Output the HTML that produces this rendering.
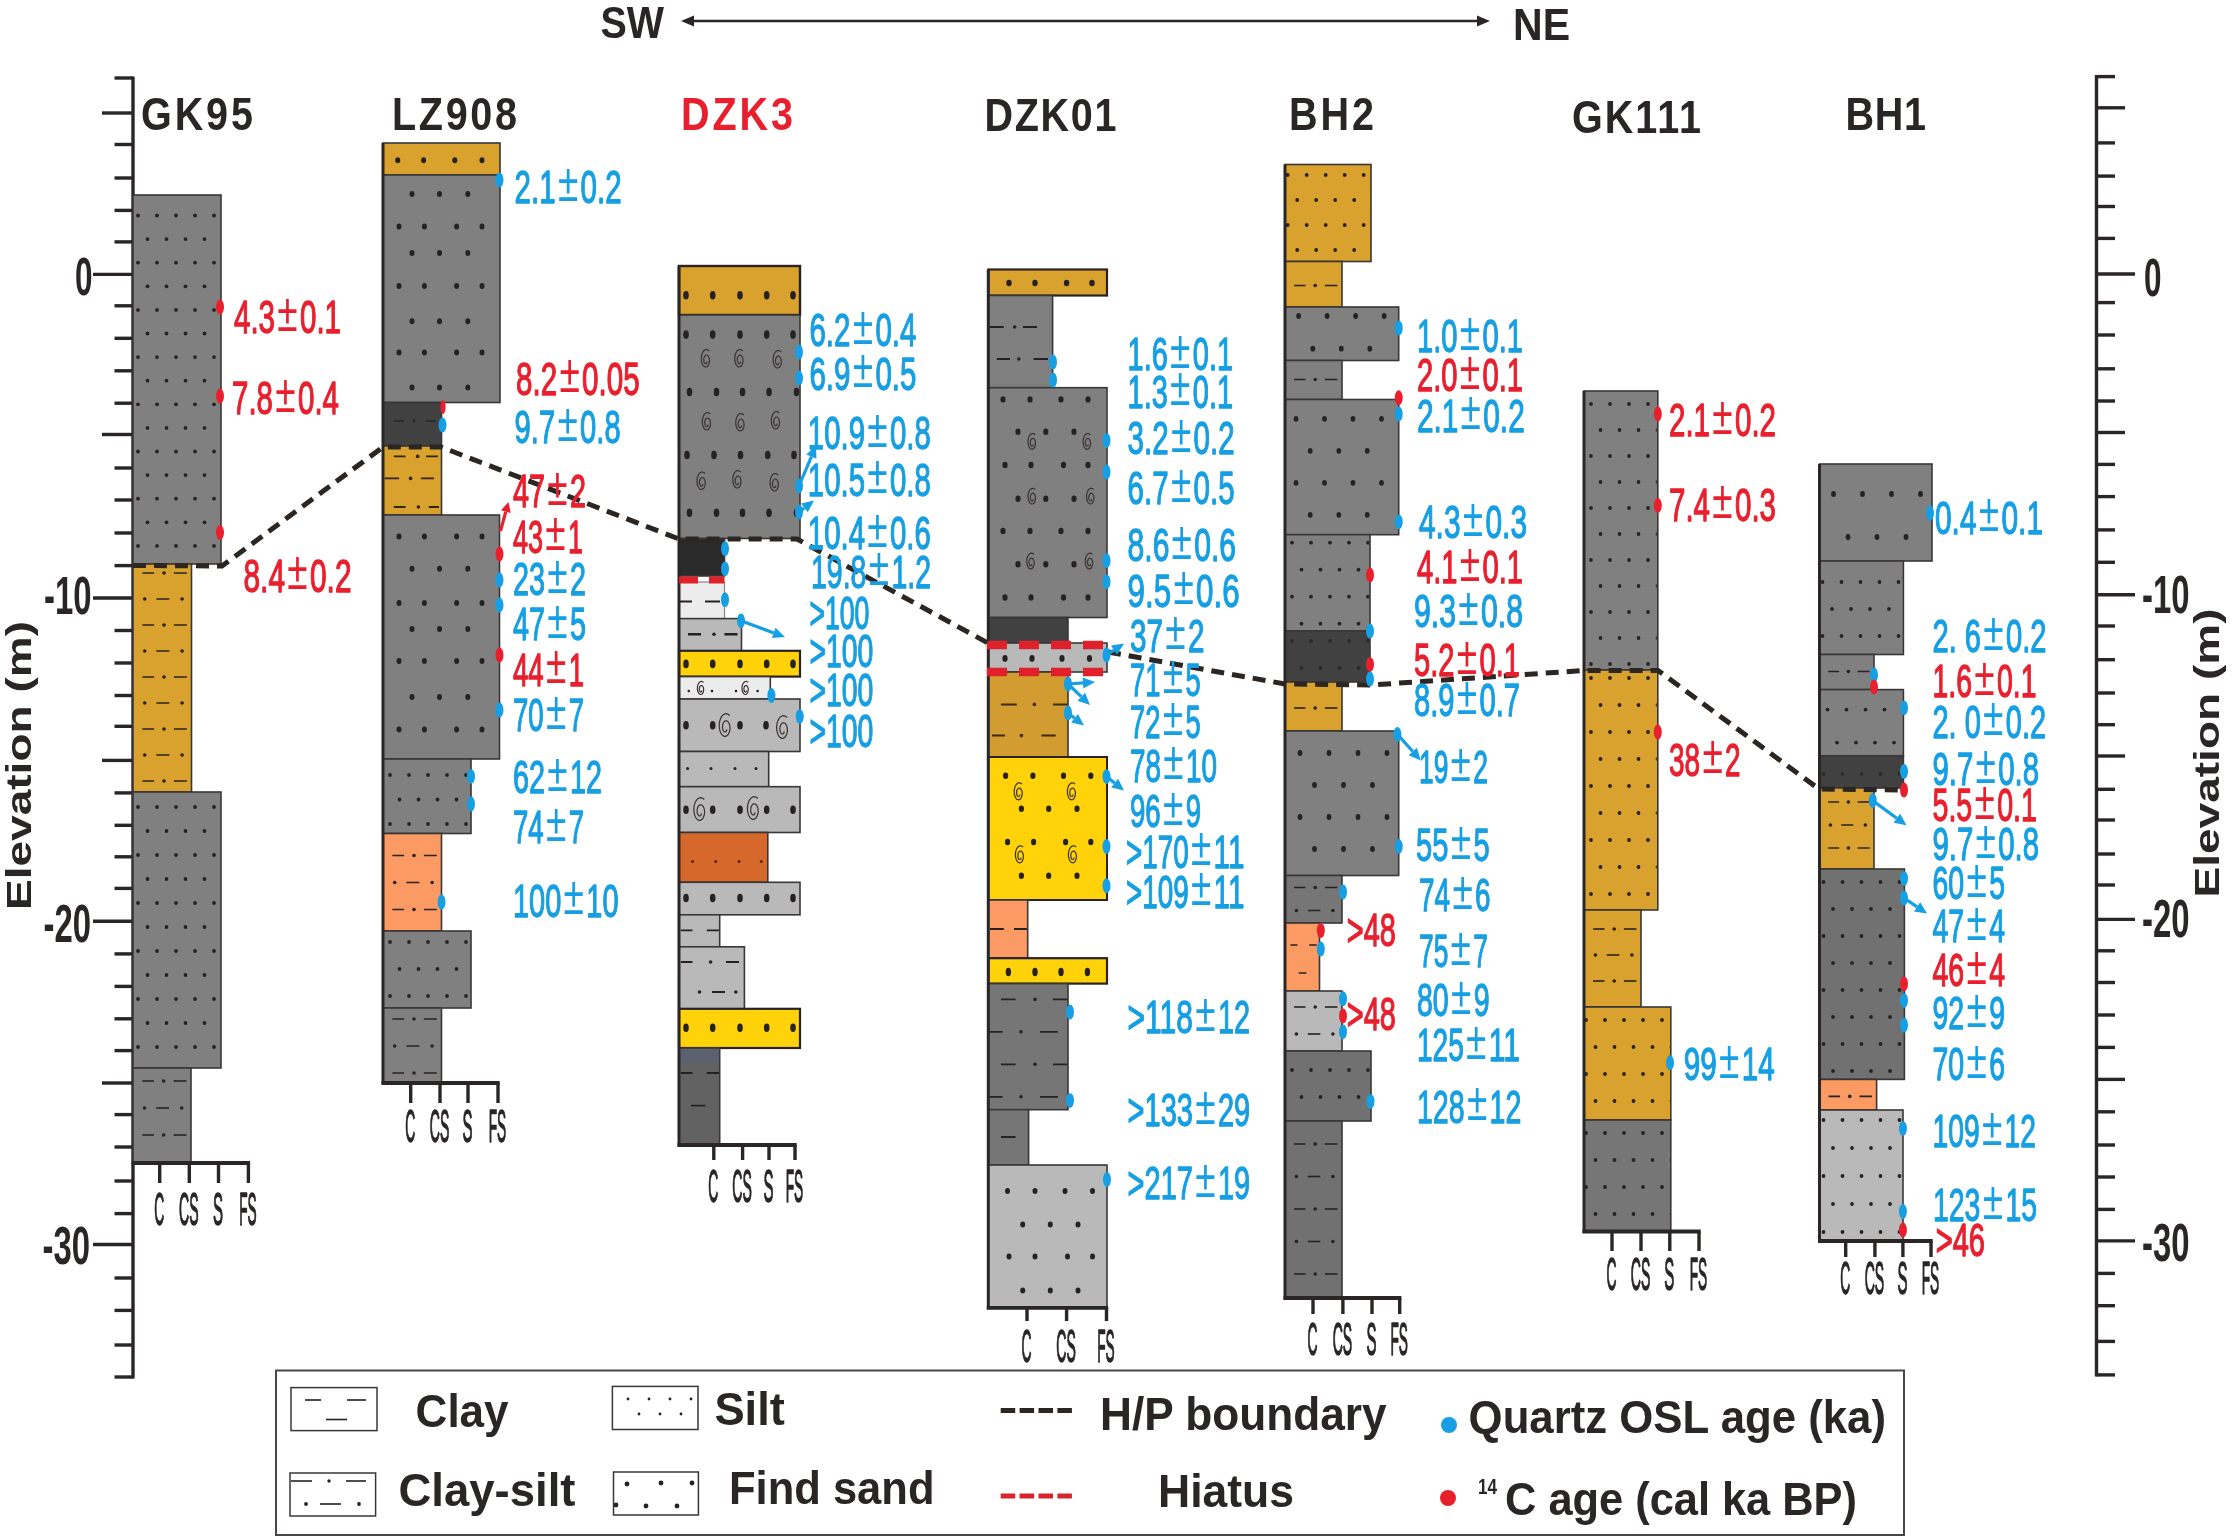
<!DOCTYPE html>
<html><head><meta charset="utf-8"><title>Borehole correlation</title>
<style>html,body{margin:0;padding:0;background:#fff}svg{display:block;filter:blur(0.55px)}</style></head>
<body>
<svg width="2233" height="1540" viewBox="0 0 2233 1540" font-family="'Liberation Sans', sans-serif">
<rect width="2233" height="1540" fill="#fff"/>
<g stroke="#2a2626" stroke-width="3.4" fill="none">
<line x1="133.0" y1="76.5" x2="133.0" y2="1378.5"/>
<line x1="114.5" y1="78.0" x2="133.0" y2="78.0"/>
<line x1="102.0" y1="113.0" x2="133.0" y2="113.0"/>
<line x1="114.5" y1="144.5" x2="133.0" y2="144.5"/>
<line x1="114.5" y1="178.0" x2="133.0" y2="178.0"/>
<line x1="114.5" y1="210.4" x2="133.0" y2="210.4"/>
<line x1="114.5" y1="241.9" x2="133.0" y2="241.9"/>
<line x1="93.0" y1="274.4" x2="133.0" y2="274.4"/>
<line x1="114.5" y1="305.8" x2="133.0" y2="305.8"/>
<line x1="114.5" y1="338.3" x2="133.0" y2="338.3"/>
<line x1="114.5" y1="370.8" x2="133.0" y2="370.8"/>
<line x1="114.5" y1="403.2" x2="133.0" y2="403.2"/>
<line x1="102.0" y1="434.5" x2="133.0" y2="434.5"/>
<line x1="114.5" y1="468.0" x2="133.0" y2="468.0"/>
<line x1="114.5" y1="500.0" x2="133.0" y2="500.0"/>
<line x1="114.5" y1="533.0" x2="133.0" y2="533.0"/>
<line x1="114.5" y1="565.6" x2="133.0" y2="565.6"/>
<line x1="93.0" y1="598.0" x2="133.0" y2="598.0"/>
<line x1="114.5" y1="630.5" x2="133.0" y2="630.5"/>
<line x1="114.5" y1="663.0" x2="133.0" y2="663.0"/>
<line x1="114.5" y1="695.5" x2="133.0" y2="695.5"/>
<line x1="114.5" y1="726.3" x2="133.0" y2="726.3"/>
<line x1="102.0" y1="760.4" x2="133.0" y2="760.4"/>
<line x1="114.5" y1="792.9" x2="133.0" y2="792.9"/>
<line x1="114.5" y1="825.3" x2="133.0" y2="825.3"/>
<line x1="114.5" y1="856.8" x2="133.0" y2="856.8"/>
<line x1="114.5" y1="888.4" x2="133.0" y2="888.4"/>
<line x1="93.0" y1="921.3" x2="133.0" y2="921.3"/>
<line x1="114.5" y1="953.9" x2="133.0" y2="953.9"/>
<line x1="114.5" y1="986.4" x2="133.0" y2="986.4"/>
<line x1="114.5" y1="1018.8" x2="133.0" y2="1018.8"/>
<line x1="114.5" y1="1050.6" x2="133.0" y2="1050.6"/>
<line x1="102.0" y1="1083.0" x2="133.0" y2="1083.0"/>
<line x1="114.5" y1="1114.6" x2="133.0" y2="1114.6"/>
<line x1="114.5" y1="1147.0" x2="133.0" y2="1147.0"/>
<line x1="114.5" y1="1181.0" x2="133.0" y2="1181.0"/>
<line x1="114.5" y1="1213.6" x2="133.0" y2="1213.6"/>
<line x1="93.0" y1="1244.5" x2="133.0" y2="1244.5"/>
<line x1="114.5" y1="1278.0" x2="133.0" y2="1278.0"/>
<line x1="114.5" y1="1310.4" x2="133.0" y2="1310.4"/>
<line x1="114.5" y1="1345.0" x2="133.0" y2="1345.0"/>
<line x1="114.5" y1="1377.0" x2="133.0" y2="1377.0"/>
<line x1="2096.5" y1="75.1" x2="2096.5" y2="1376.4"/>
<line x1="2096.5" y1="76.6" x2="2115.0" y2="76.6"/>
<line x1="2096.5" y1="107.8" x2="2125.0" y2="107.8"/>
<line x1="2096.5" y1="142.9" x2="2115.0" y2="142.9"/>
<line x1="2096.5" y1="176.1" x2="2115.0" y2="176.1"/>
<line x1="2096.5" y1="206.5" x2="2115.0" y2="206.5"/>
<line x1="2096.5" y1="238.4" x2="2115.0" y2="238.4"/>
<line x1="2096.5" y1="274.0" x2="2135.0" y2="274.0"/>
<line x1="2096.5" y1="302.6" x2="2115.0" y2="302.6"/>
<line x1="2096.5" y1="335.0" x2="2115.0" y2="335.0"/>
<line x1="2096.5" y1="368.8" x2="2115.0" y2="368.8"/>
<line x1="2096.5" y1="401.0" x2="2115.0" y2="401.0"/>
<line x1="2096.5" y1="432.5" x2="2125.0" y2="432.5"/>
<line x1="2096.5" y1="464.4" x2="2115.0" y2="464.4"/>
<line x1="2096.5" y1="496.6" x2="2115.0" y2="496.6"/>
<line x1="2096.5" y1="529.9" x2="2115.0" y2="529.9"/>
<line x1="2096.5" y1="562.3" x2="2115.0" y2="562.3"/>
<line x1="2096.5" y1="594.8" x2="2135.0" y2="594.8"/>
<line x1="2096.5" y1="626.0" x2="2115.0" y2="626.0"/>
<line x1="2096.5" y1="659.7" x2="2115.0" y2="659.7"/>
<line x1="2096.5" y1="693.0" x2="2115.0" y2="693.0"/>
<line x1="2096.5" y1="724.7" x2="2115.0" y2="724.7"/>
<line x1="2096.5" y1="756.0" x2="2125.0" y2="756.0"/>
<line x1="2096.5" y1="789.3" x2="2115.0" y2="789.3"/>
<line x1="2096.5" y1="820.0" x2="2115.0" y2="820.0"/>
<line x1="2096.5" y1="854.0" x2="2115.0" y2="854.0"/>
<line x1="2096.5" y1="885.0" x2="2115.0" y2="885.0"/>
<line x1="2096.5" y1="919.4" x2="2135.0" y2="919.4"/>
<line x1="2096.5" y1="950.8" x2="2115.0" y2="950.8"/>
<line x1="2096.5" y1="982.5" x2="2115.0" y2="982.5"/>
<line x1="2096.5" y1="1015.0" x2="2115.0" y2="1015.0"/>
<line x1="2096.5" y1="1047.4" x2="2115.0" y2="1047.4"/>
<line x1="2096.5" y1="1079.4" x2="2125.0" y2="1079.4"/>
<line x1="2096.5" y1="1111.8" x2="2115.0" y2="1111.8"/>
<line x1="2096.5" y1="1145.0" x2="2115.0" y2="1145.0"/>
<line x1="2096.5" y1="1177.0" x2="2115.0" y2="1177.0"/>
<line x1="2096.5" y1="1209.4" x2="2115.0" y2="1209.4"/>
<line x1="2096.5" y1="1240.9" x2="2135.0" y2="1240.9"/>
<line x1="2096.5" y1="1273.4" x2="2115.0" y2="1273.4"/>
<line x1="2096.5" y1="1305.7" x2="2115.0" y2="1305.7"/>
<line x1="2096.5" y1="1341.4" x2="2115.0" y2="1341.4"/>
<line x1="2096.5" y1="1374.9" x2="2115.0" y2="1374.9"/>
</g>
<text x="92.5" y="294.5" fill="#2a2626" font-size="53" font-weight="bold" textLength="17.5" lengthAdjust="spacingAndGlyphs" text-anchor="end" >0</text>
<text x="91.5" y="614.0" fill="#2a2626" font-size="53" font-weight="bold" textLength="47.5" lengthAdjust="spacingAndGlyphs" text-anchor="end" >-10</text>
<text x="91.0" y="942.0" fill="#2a2626" font-size="53" font-weight="bold" textLength="47.5" lengthAdjust="spacingAndGlyphs" text-anchor="end" >-20</text>
<text x="90.0" y="1264.0" fill="#2a2626" font-size="53" font-weight="bold" textLength="47.5" lengthAdjust="spacingAndGlyphs" text-anchor="end" >-30</text>
<text x="2144.0" y="296.0" fill="#2a2626" font-size="53" font-weight="bold" textLength="17.5" lengthAdjust="spacingAndGlyphs" text-anchor="start" >0</text>
<text x="2142.0" y="613.0" fill="#2a2626" font-size="53" font-weight="bold" textLength="47.5" lengthAdjust="spacingAndGlyphs" text-anchor="start" >-10</text>
<text x="2142.0" y="937.0" fill="#2a2626" font-size="53" font-weight="bold" textLength="47.5" lengthAdjust="spacingAndGlyphs" text-anchor="start" >-20</text>
<text x="2142.0" y="1261.0" fill="#2a2626" font-size="53" font-weight="bold" textLength="47.5" lengthAdjust="spacingAndGlyphs" text-anchor="start" >-30</text>
<text transform="translate(30.5,910) rotate(-90)" font-size="35" font-weight="bold" fill="#2a2626" textLength="289" lengthAdjust="spacingAndGlyphs">Elevation (m)</text>
<text transform="translate(2218.5,897.5) rotate(-90)" font-size="35" font-weight="bold" fill="#2a2626" textLength="289" lengthAdjust="spacingAndGlyphs">Elevation (m)</text>
<text x="600.5" y="37.5" fill="#2a2626" font-size="45" font-weight="bold" textLength="63.5" lengthAdjust="spacingAndGlyphs" text-anchor="start" >SW</text>
<text x="1513.0" y="39.5" fill="#2a2626" font-size="45" font-weight="bold" textLength="57.0" lengthAdjust="spacingAndGlyphs" text-anchor="start" >NE</text>
<line x1="690" y1="21" x2="1480" y2="21" stroke="#2a2626" stroke-width="2.6"/>
<polygon points="681,21 694,15.5 694,26.5" fill="#2a2626"/>
<polygon points="1490,21 1477,15.5 1477,26.5" fill="#2a2626"/>
<text transform="translate(141.0,130.0) scale(0.860,1)" fill="#2a2626" font-size="46" font-weight="bold" textLength="130.2" lengthAdjust="spacing">GK95</text>
<text transform="translate(392.0,130.0) scale(0.860,1)" fill="#2a2626" font-size="46" font-weight="bold" textLength="145.3" lengthAdjust="spacing">LZ908</text>
<text transform="translate(681.0,130.0) scale(0.860,1)" fill="#e8202e" font-size="46" font-weight="bold" textLength="130.2" lengthAdjust="spacing">DZK3</text>
<text transform="translate(984.5,131.0) scale(0.860,1)" fill="#2a2626" font-size="46" font-weight="bold" textLength="153.5" lengthAdjust="spacing">DZK01</text>
<text transform="translate(1289.0,130.0) scale(0.860,1)" fill="#2a2626" font-size="46" font-weight="bold" textLength="98.8" lengthAdjust="spacing">BH2</text>
<text transform="translate(1572.0,133.0) scale(0.860,1)" fill="#2a2626" font-size="46" font-weight="bold" textLength="150.0" lengthAdjust="spacing">GK111</text>
<text transform="translate(1845.5,130.0) scale(0.860,1)" fill="#2a2626" font-size="46" font-weight="bold" textLength="93.6" lengthAdjust="spacing">BH1</text>
<rect x="133.0" y="195.0" width="88.0" height="369.0" fill="#808080" stroke="#3a3636" stroke-width="1.6"/>
<clipPath id="c1"><rect x="134.0" y="196.0" width="86.0" height="367.0"/></clipPath>
<g clip-path="url(#c1)">
<g fill="#262222"><ellipse cx="138.0" cy="215.5" rx="1.9" ry="1.9"/><ellipse cx="157.0" cy="215.5" rx="1.9" ry="1.9"/><ellipse cx="176.0" cy="215.5" rx="1.9" ry="1.9"/><ellipse cx="195.0" cy="215.5" rx="1.9" ry="1.9"/><ellipse cx="214.0" cy="215.5" rx="1.9" ry="1.9"/><ellipse cx="147.5" cy="239.1" rx="1.9" ry="1.9"/><ellipse cx="166.5" cy="239.1" rx="1.9" ry="1.9"/><ellipse cx="185.5" cy="239.1" rx="1.9" ry="1.9"/><ellipse cx="204.5" cy="239.1" rx="1.9" ry="1.9"/><ellipse cx="138.0" cy="262.7" rx="1.9" ry="1.9"/><ellipse cx="157.0" cy="262.7" rx="1.9" ry="1.9"/><ellipse cx="176.0" cy="262.7" rx="1.9" ry="1.9"/><ellipse cx="195.0" cy="262.7" rx="1.9" ry="1.9"/><ellipse cx="214.0" cy="262.7" rx="1.9" ry="1.9"/><ellipse cx="147.5" cy="286.3" rx="1.9" ry="1.9"/><ellipse cx="166.5" cy="286.3" rx="1.9" ry="1.9"/><ellipse cx="185.5" cy="286.3" rx="1.9" ry="1.9"/><ellipse cx="204.5" cy="286.3" rx="1.9" ry="1.9"/><ellipse cx="138.0" cy="309.9" rx="1.9" ry="1.9"/><ellipse cx="157.0" cy="309.9" rx="1.9" ry="1.9"/><ellipse cx="176.0" cy="309.9" rx="1.9" ry="1.9"/><ellipse cx="195.0" cy="309.9" rx="1.9" ry="1.9"/><ellipse cx="214.0" cy="309.9" rx="1.9" ry="1.9"/><ellipse cx="147.5" cy="333.5" rx="1.9" ry="1.9"/><ellipse cx="166.5" cy="333.5" rx="1.9" ry="1.9"/><ellipse cx="185.5" cy="333.5" rx="1.9" ry="1.9"/><ellipse cx="204.5" cy="333.5" rx="1.9" ry="1.9"/><ellipse cx="138.0" cy="357.1" rx="1.9" ry="1.9"/><ellipse cx="157.0" cy="357.1" rx="1.9" ry="1.9"/><ellipse cx="176.0" cy="357.1" rx="1.9" ry="1.9"/><ellipse cx="195.0" cy="357.1" rx="1.9" ry="1.9"/><ellipse cx="214.0" cy="357.1" rx="1.9" ry="1.9"/><ellipse cx="147.5" cy="380.7" rx="1.9" ry="1.9"/><ellipse cx="166.5" cy="380.7" rx="1.9" ry="1.9"/><ellipse cx="185.5" cy="380.7" rx="1.9" ry="1.9"/><ellipse cx="204.5" cy="380.7" rx="1.9" ry="1.9"/><ellipse cx="138.0" cy="404.3" rx="1.9" ry="1.9"/><ellipse cx="157.0" cy="404.3" rx="1.9" ry="1.9"/><ellipse cx="176.0" cy="404.3" rx="1.9" ry="1.9"/><ellipse cx="195.0" cy="404.3" rx="1.9" ry="1.9"/><ellipse cx="214.0" cy="404.3" rx="1.9" ry="1.9"/><ellipse cx="147.5" cy="427.9" rx="1.9" ry="1.9"/><ellipse cx="166.5" cy="427.9" rx="1.9" ry="1.9"/><ellipse cx="185.5" cy="427.9" rx="1.9" ry="1.9"/><ellipse cx="204.5" cy="427.9" rx="1.9" ry="1.9"/><ellipse cx="138.0" cy="451.5" rx="1.9" ry="1.9"/><ellipse cx="157.0" cy="451.5" rx="1.9" ry="1.9"/><ellipse cx="176.0" cy="451.5" rx="1.9" ry="1.9"/><ellipse cx="195.0" cy="451.5" rx="1.9" ry="1.9"/><ellipse cx="214.0" cy="451.5" rx="1.9" ry="1.9"/><ellipse cx="147.5" cy="475.1" rx="1.9" ry="1.9"/><ellipse cx="166.5" cy="475.1" rx="1.9" ry="1.9"/><ellipse cx="185.5" cy="475.1" rx="1.9" ry="1.9"/><ellipse cx="204.5" cy="475.1" rx="1.9" ry="1.9"/><ellipse cx="138.0" cy="498.7" rx="1.9" ry="1.9"/><ellipse cx="157.0" cy="498.7" rx="1.9" ry="1.9"/><ellipse cx="176.0" cy="498.7" rx="1.9" ry="1.9"/><ellipse cx="195.0" cy="498.7" rx="1.9" ry="1.9"/><ellipse cx="214.0" cy="498.7" rx="1.9" ry="1.9"/><ellipse cx="147.5" cy="522.3" rx="1.9" ry="1.9"/><ellipse cx="166.5" cy="522.3" rx="1.9" ry="1.9"/><ellipse cx="185.5" cy="522.3" rx="1.9" ry="1.9"/><ellipse cx="204.5" cy="522.3" rx="1.9" ry="1.9"/><ellipse cx="138.0" cy="545.9" rx="1.9" ry="1.9"/><ellipse cx="157.0" cy="545.9" rx="1.9" ry="1.9"/><ellipse cx="176.0" cy="545.9" rx="1.9" ry="1.9"/><ellipse cx="195.0" cy="545.9" rx="1.9" ry="1.9"/><ellipse cx="214.0" cy="545.9" rx="1.9" ry="1.9"/></g>
</g>
<rect x="133.0" y="564.0" width="58.5" height="228.0" fill="#d9a22e" stroke="#3a3636" stroke-width="1.6"/>
<clipPath id="c2"><rect x="134.0" y="565.0" width="56.5" height="226.0"/></clipPath>
<g clip-path="url(#c2)">
<g stroke="#262222" stroke-width="1.6" fill="#262222"><line x1="142.4" y1="573.0" x2="154.1" y2="573.0"/><line x1="173.9" y1="573.0" x2="186.8" y2="573.0"/><circle cx="164.0" cy="573.0" r="1.8" stroke="none"/><line x1="156.4" y1="599.0" x2="169.3" y2="599.0"/><circle cx="144.7" cy="599.0" r="1.8" stroke="none"/><circle cx="182.1" cy="599.0" r="1.8" stroke="none"/><line x1="142.4" y1="625.0" x2="154.1" y2="625.0"/><line x1="173.9" y1="625.0" x2="186.8" y2="625.0"/><circle cx="164.0" cy="625.0" r="1.8" stroke="none"/><line x1="156.4" y1="651.0" x2="169.3" y2="651.0"/><circle cx="144.7" cy="651.0" r="1.8" stroke="none"/><circle cx="182.1" cy="651.0" r="1.8" stroke="none"/><line x1="142.4" y1="677.0" x2="154.1" y2="677.0"/><line x1="173.9" y1="677.0" x2="186.8" y2="677.0"/><circle cx="164.0" cy="677.0" r="1.8" stroke="none"/><line x1="156.4" y1="703.0" x2="169.3" y2="703.0"/><circle cx="144.7" cy="703.0" r="1.8" stroke="none"/><circle cx="182.1" cy="703.0" r="1.8" stroke="none"/><line x1="142.4" y1="729.0" x2="154.1" y2="729.0"/><line x1="173.9" y1="729.0" x2="186.8" y2="729.0"/><circle cx="164.0" cy="729.0" r="1.8" stroke="none"/><line x1="156.4" y1="755.0" x2="169.3" y2="755.0"/><circle cx="144.7" cy="755.0" r="1.8" stroke="none"/><circle cx="182.1" cy="755.0" r="1.8" stroke="none"/><line x1="142.4" y1="781.0" x2="154.1" y2="781.0"/><line x1="173.9" y1="781.0" x2="186.8" y2="781.0"/><circle cx="164.0" cy="781.0" r="1.8" stroke="none"/></g>
</g>
<rect x="133.0" y="792.0" width="88.0" height="276.0" fill="#808080" stroke="#3a3636" stroke-width="1.6"/>
<clipPath id="c3"><rect x="134.0" y="793.0" width="86.0" height="274.0"/></clipPath>
<g clip-path="url(#c3)">
<g fill="#262222"><ellipse cx="138.0" cy="807.0" rx="1.9" ry="1.9"/><ellipse cx="157.0" cy="807.0" rx="1.9" ry="1.9"/><ellipse cx="176.0" cy="807.0" rx="1.9" ry="1.9"/><ellipse cx="195.0" cy="807.0" rx="1.9" ry="1.9"/><ellipse cx="214.0" cy="807.0" rx="1.9" ry="1.9"/><ellipse cx="147.5" cy="831.0" rx="1.9" ry="1.9"/><ellipse cx="166.5" cy="831.0" rx="1.9" ry="1.9"/><ellipse cx="185.5" cy="831.0" rx="1.9" ry="1.9"/><ellipse cx="204.5" cy="831.0" rx="1.9" ry="1.9"/><ellipse cx="138.0" cy="855.0" rx="1.9" ry="1.9"/><ellipse cx="157.0" cy="855.0" rx="1.9" ry="1.9"/><ellipse cx="176.0" cy="855.0" rx="1.9" ry="1.9"/><ellipse cx="195.0" cy="855.0" rx="1.9" ry="1.9"/><ellipse cx="214.0" cy="855.0" rx="1.9" ry="1.9"/><ellipse cx="147.5" cy="879.0" rx="1.9" ry="1.9"/><ellipse cx="166.5" cy="879.0" rx="1.9" ry="1.9"/><ellipse cx="185.5" cy="879.0" rx="1.9" ry="1.9"/><ellipse cx="204.5" cy="879.0" rx="1.9" ry="1.9"/><ellipse cx="138.0" cy="903.0" rx="1.9" ry="1.9"/><ellipse cx="157.0" cy="903.0" rx="1.9" ry="1.9"/><ellipse cx="176.0" cy="903.0" rx="1.9" ry="1.9"/><ellipse cx="195.0" cy="903.0" rx="1.9" ry="1.9"/><ellipse cx="214.0" cy="903.0" rx="1.9" ry="1.9"/><ellipse cx="147.5" cy="927.0" rx="1.9" ry="1.9"/><ellipse cx="166.5" cy="927.0" rx="1.9" ry="1.9"/><ellipse cx="185.5" cy="927.0" rx="1.9" ry="1.9"/><ellipse cx="204.5" cy="927.0" rx="1.9" ry="1.9"/><ellipse cx="138.0" cy="951.0" rx="1.9" ry="1.9"/><ellipse cx="157.0" cy="951.0" rx="1.9" ry="1.9"/><ellipse cx="176.0" cy="951.0" rx="1.9" ry="1.9"/><ellipse cx="195.0" cy="951.0" rx="1.9" ry="1.9"/><ellipse cx="214.0" cy="951.0" rx="1.9" ry="1.9"/><ellipse cx="147.5" cy="975.0" rx="1.9" ry="1.9"/><ellipse cx="166.5" cy="975.0" rx="1.9" ry="1.9"/><ellipse cx="185.5" cy="975.0" rx="1.9" ry="1.9"/><ellipse cx="204.5" cy="975.0" rx="1.9" ry="1.9"/><ellipse cx="138.0" cy="999.0" rx="1.9" ry="1.9"/><ellipse cx="157.0" cy="999.0" rx="1.9" ry="1.9"/><ellipse cx="176.0" cy="999.0" rx="1.9" ry="1.9"/><ellipse cx="195.0" cy="999.0" rx="1.9" ry="1.9"/><ellipse cx="214.0" cy="999.0" rx="1.9" ry="1.9"/><ellipse cx="147.5" cy="1023.0" rx="1.9" ry="1.9"/><ellipse cx="166.5" cy="1023.0" rx="1.9" ry="1.9"/><ellipse cx="185.5" cy="1023.0" rx="1.9" ry="1.9"/><ellipse cx="204.5" cy="1023.0" rx="1.9" ry="1.9"/><ellipse cx="138.0" cy="1047.0" rx="1.9" ry="1.9"/><ellipse cx="157.0" cy="1047.0" rx="1.9" ry="1.9"/><ellipse cx="176.0" cy="1047.0" rx="1.9" ry="1.9"/><ellipse cx="195.0" cy="1047.0" rx="1.9" ry="1.9"/><ellipse cx="214.0" cy="1047.0" rx="1.9" ry="1.9"/></g>
</g>
<rect x="133.0" y="1068.0" width="58.0" height="95.0" fill="#808080" stroke="#3a3636" stroke-width="1.6"/>
<clipPath id="c4"><rect x="134.0" y="1069.0" width="56.0" height="93.0"/></clipPath>
<g clip-path="url(#c4)">
<g stroke="#262222" stroke-width="1.6" fill="#262222"><line x1="142.3" y1="1081.0" x2="153.9" y2="1081.0"/><line x1="173.6" y1="1081.0" x2="186.4" y2="1081.0"/><circle cx="163.7" cy="1081.0" r="1.8" stroke="none"/><line x1="156.2" y1="1108.0" x2="169.0" y2="1108.0"/><circle cx="144.6" cy="1108.0" r="1.8" stroke="none"/><circle cx="181.7" cy="1108.0" r="1.8" stroke="none"/><line x1="142.3" y1="1135.0" x2="153.9" y2="1135.0"/><line x1="173.6" y1="1135.0" x2="186.4" y2="1135.0"/><circle cx="163.7" cy="1135.0" r="1.8" stroke="none"/></g>
</g>
<path d="M131.5 1163.0 H250.1" stroke="#2a2626" stroke-width="3.8" fill="none"/>
<line x1="159.7" y1="1163.0" x2="159.7" y2="1183.0" stroke="#2a2626" stroke-width="3.4"/>
<line x1="189.3" y1="1163.0" x2="189.3" y2="1183.0" stroke="#2a2626" stroke-width="3.4"/>
<line x1="218.5" y1="1163.0" x2="218.5" y2="1183.0" stroke="#2a2626" stroke-width="3.4"/>
<line x1="248.4" y1="1163.0" x2="248.4" y2="1183.0" stroke="#2a2626" stroke-width="3.4"/>
<text x="159.2" y="1224.5" fill="#2a2626" font-size="47" font-weight="normal" textLength="10.0" lengthAdjust="spacingAndGlyphs" text-anchor="middle" stroke="#2a2626" stroke-width="1.5" stroke-linejoin="round">C</text>
<text x="188.8" y="1224.5" fill="#2a2626" font-size="47" font-weight="normal" textLength="19.5" lengthAdjust="spacingAndGlyphs" text-anchor="middle" stroke="#2a2626" stroke-width="1.5" stroke-linejoin="round">CS</text>
<text x="218.0" y="1224.5" fill="#2a2626" font-size="47" font-weight="normal" textLength="10.0" lengthAdjust="spacingAndGlyphs" text-anchor="middle" stroke="#2a2626" stroke-width="1.5" stroke-linejoin="round">S</text>
<text x="247.9" y="1224.5" fill="#2a2626" font-size="47" font-weight="normal" textLength="17.5" lengthAdjust="spacingAndGlyphs" text-anchor="middle" stroke="#2a2626" stroke-width="1.5" stroke-linejoin="round">FS</text>
<rect x="383.0" y="143.0" width="117.0" height="32.0" fill="#d9a22e" stroke="#3a3636" stroke-width="1.6"/>
<clipPath id="c5"><rect x="383.8" y="143.8" width="115.4" height="30.4"/></clipPath>
<g clip-path="url(#c5)">
<g fill="#262222">
<ellipse cx="397.7" cy="160.3" rx="2.5" ry="3.0"/>
<ellipse cx="423.6" cy="160.3" rx="2.5" ry="3.0"/>
<ellipse cx="454.8" cy="160.3" rx="2.5" ry="3.0"/>
<ellipse cx="482.0" cy="160.3" rx="2.5" ry="3.0"/>
</g>
</g>
<rect x="383.0" y="175.0" width="117.0" height="227.5" fill="#808080" stroke="#3a3636" stroke-width="1.6"/>
<clipPath id="c6"><rect x="383.8" y="175.8" width="115.4" height="225.9"/></clipPath>
<g clip-path="url(#c6)">
<g fill="#262222">
<ellipse cx="412.0" cy="194.0" rx="2.5" ry="3.0"/>
<ellipse cx="439.5" cy="194.0" rx="2.5" ry="3.0"/>
<ellipse cx="467.8" cy="194.0" rx="2.5" ry="3.0"/>
<ellipse cx="399.0" cy="226.5" rx="2.5" ry="3.0"/>
<ellipse cx="424.4" cy="226.5" rx="2.5" ry="3.0"/>
<ellipse cx="456.6" cy="226.5" rx="2.5" ry="3.0"/>
<ellipse cx="482.0" cy="226.5" rx="2.5" ry="3.0"/>
<ellipse cx="412.0" cy="253.0" rx="2.5" ry="3.0"/>
<ellipse cx="439.5" cy="253.0" rx="2.5" ry="3.0"/>
<ellipse cx="467.8" cy="253.0" rx="2.5" ry="3.0"/>
<ellipse cx="399.0" cy="286.0" rx="2.5" ry="3.0"/>
<ellipse cx="424.4" cy="286.0" rx="2.5" ry="3.0"/>
<ellipse cx="456.6" cy="286.0" rx="2.5" ry="3.0"/>
<ellipse cx="482.0" cy="286.0" rx="2.5" ry="3.0"/>
<ellipse cx="412.0" cy="321.3" rx="2.5" ry="3.0"/>
<ellipse cx="439.5" cy="321.3" rx="2.5" ry="3.0"/>
<ellipse cx="467.8" cy="321.3" rx="2.5" ry="3.0"/>
<ellipse cx="399.0" cy="352.5" rx="2.5" ry="3.0"/>
<ellipse cx="424.4" cy="352.5" rx="2.5" ry="3.0"/>
<ellipse cx="456.6" cy="352.5" rx="2.5" ry="3.0"/>
<ellipse cx="482.0" cy="352.5" rx="2.5" ry="3.0"/>
<ellipse cx="412.0" cy="387.5" rx="2.5" ry="3.0"/>
<ellipse cx="439.5" cy="387.5" rx="2.5" ry="3.0"/>
<ellipse cx="467.8" cy="387.5" rx="2.5" ry="3.0"/>
</g>
</g>
<rect x="383.0" y="402.5" width="58.5" height="43.5" fill="#414141" stroke="#3a3636" stroke-width="1.6"/>
<clipPath id="c7"><rect x="383.8" y="403.3" width="56.9" height="41.9"/></clipPath>
<g clip-path="url(#c7)">
<g stroke="#262626" stroke-width="1.4" fill="#262626">
<line x1="394.0" y1="421.0" x2="404.0" y2="421.0"/>
<line x1="426.0" y1="421.0" x2="436.0" y2="421.0"/>
<circle cx="414.0" cy="421.0" r="1.4" stroke="none"/>
</g>
</g>
<rect x="383.0" y="446.0" width="58.5" height="69.0" fill="#d9a22e" stroke="#3a3636" stroke-width="1.6"/>
<clipPath id="c8"><rect x="383.8" y="446.8" width="56.9" height="67.4"/></clipPath>
<g clip-path="url(#c8)">
<g stroke="#33240c" stroke-width="1.8" fill="#33240c">
<line x1="393.8" y1="456.4" x2="405.5" y2="456.4"/>
<line x1="426.0" y1="456.4" x2="438.0" y2="456.4"/>
<circle cx="417.7" cy="456.4" r="1.8" stroke="none"/>
<line x1="384.7" y1="478.4" x2="399.0" y2="478.4"/>
<line x1="421.0" y1="478.4" x2="434.0" y2="478.4"/>
<circle cx="410.6" cy="478.4" r="1.8" stroke="none"/>
<line x1="393.8" y1="507.0" x2="405.5" y2="507.0"/>
<line x1="428.8" y1="507.0" x2="439.0" y2="507.0"/>
<circle cx="418.4" cy="507.0" r="1.8" stroke="none"/>
</g>
</g>
<rect x="383.0" y="515.0" width="116.5" height="244.0" fill="#808080" stroke="#3a3636" stroke-width="1.6"/>
<clipPath id="c9"><rect x="383.8" y="515.8" width="114.9" height="242.4"/></clipPath>
<g clip-path="url(#c9)">
<g fill="#262222">
<ellipse cx="399.0" cy="536.4" rx="2.5" ry="3.0"/>
<ellipse cx="424.4" cy="536.4" rx="2.5" ry="3.0"/>
<ellipse cx="456.6" cy="536.4" rx="2.5" ry="3.0"/>
<ellipse cx="482.0" cy="536.4" rx="2.5" ry="3.0"/>
<ellipse cx="412.0" cy="568.8" rx="2.5" ry="3.0"/>
<ellipse cx="439.5" cy="568.8" rx="2.5" ry="3.0"/>
<ellipse cx="467.8" cy="568.8" rx="2.5" ry="3.0"/>
<ellipse cx="399.0" cy="603.0" rx="2.5" ry="3.0"/>
<ellipse cx="424.4" cy="603.0" rx="2.5" ry="3.0"/>
<ellipse cx="456.6" cy="603.0" rx="2.5" ry="3.0"/>
<ellipse cx="482.0" cy="603.0" rx="2.5" ry="3.0"/>
<ellipse cx="412.0" cy="629.0" rx="2.5" ry="3.0"/>
<ellipse cx="439.5" cy="629.0" rx="2.5" ry="3.0"/>
<ellipse cx="467.8" cy="629.0" rx="2.5" ry="3.0"/>
<ellipse cx="399.0" cy="661.0" rx="2.5" ry="3.0"/>
<ellipse cx="424.4" cy="661.0" rx="2.5" ry="3.0"/>
<ellipse cx="456.6" cy="661.0" rx="2.5" ry="3.0"/>
<ellipse cx="482.0" cy="661.0" rx="2.5" ry="3.0"/>
<ellipse cx="412.0" cy="697.0" rx="2.5" ry="3.0"/>
<ellipse cx="439.5" cy="697.0" rx="2.5" ry="3.0"/>
<ellipse cx="467.8" cy="697.0" rx="2.5" ry="3.0"/>
<ellipse cx="399.0" cy="729.5" rx="2.5" ry="3.0"/>
<ellipse cx="424.4" cy="729.5" rx="2.5" ry="3.0"/>
<ellipse cx="456.6" cy="729.5" rx="2.5" ry="3.0"/>
<ellipse cx="482.0" cy="729.5" rx="2.5" ry="3.0"/>
</g>
</g>
<rect x="383.0" y="759.0" width="88.0" height="74.5" fill="#808080" stroke="#3a3636" stroke-width="1.6"/>
<clipPath id="c10"><rect x="384.0" y="760.0" width="86.0" height="72.5"/></clipPath>
<g clip-path="url(#c10)">
<g fill="#262222"><ellipse cx="390.0" cy="775.0" rx="1.9" ry="1.9"/><ellipse cx="409.0" cy="775.0" rx="1.9" ry="1.9"/><ellipse cx="428.0" cy="775.0" rx="1.9" ry="1.9"/><ellipse cx="447.0" cy="775.0" rx="1.9" ry="1.9"/><ellipse cx="466.0" cy="775.0" rx="1.9" ry="1.9"/><ellipse cx="399.5" cy="799.5" rx="1.9" ry="1.9"/><ellipse cx="418.5" cy="799.5" rx="1.9" ry="1.9"/><ellipse cx="437.5" cy="799.5" rx="1.9" ry="1.9"/><ellipse cx="456.5" cy="799.5" rx="1.9" ry="1.9"/><ellipse cx="390.0" cy="824.0" rx="1.9" ry="1.9"/><ellipse cx="409.0" cy="824.0" rx="1.9" ry="1.9"/><ellipse cx="428.0" cy="824.0" rx="1.9" ry="1.9"/><ellipse cx="447.0" cy="824.0" rx="1.9" ry="1.9"/><ellipse cx="466.0" cy="824.0" rx="1.9" ry="1.9"/></g>
</g>
<rect x="383.0" y="833.5" width="58.5" height="97.5" fill="#fb9a62" stroke="#3a3636" stroke-width="1.6"/>
<clipPath id="c11"><rect x="384.0" y="834.5" width="56.5" height="95.5"/></clipPath>
<g clip-path="url(#c11)">
<g stroke="#262222" stroke-width="1.6" fill="#262222"><line x1="392.4" y1="855.5" x2="404.1" y2="855.5"/><line x1="423.9" y1="855.5" x2="436.8" y2="855.5"/><circle cx="414.0" cy="855.5" r="1.8" stroke="none"/><line x1="406.4" y1="882.5" x2="419.3" y2="882.5"/><circle cx="394.7" cy="882.5" r="1.8" stroke="none"/><circle cx="432.1" cy="882.5" r="1.8" stroke="none"/><line x1="392.4" y1="909.5" x2="404.1" y2="909.5"/><line x1="423.9" y1="909.5" x2="436.8" y2="909.5"/><circle cx="414.0" cy="909.5" r="1.8" stroke="none"/></g>
</g>
<rect x="383.0" y="931.0" width="88.0" height="77.0" fill="#808080" stroke="#3a3636" stroke-width="1.6"/>
<clipPath id="c12"><rect x="384.0" y="932.0" width="86.0" height="75.0"/></clipPath>
<g clip-path="url(#c12)">
<g fill="#262222"><ellipse cx="390.0" cy="942.0" rx="1.9" ry="1.9"/><ellipse cx="409.0" cy="942.0" rx="1.9" ry="1.9"/><ellipse cx="428.0" cy="942.0" rx="1.9" ry="1.9"/><ellipse cx="447.0" cy="942.0" rx="1.9" ry="1.9"/><ellipse cx="466.0" cy="942.0" rx="1.9" ry="1.9"/><ellipse cx="399.5" cy="969.0" rx="1.9" ry="1.9"/><ellipse cx="418.5" cy="969.0" rx="1.9" ry="1.9"/><ellipse cx="437.5" cy="969.0" rx="1.9" ry="1.9"/><ellipse cx="456.5" cy="969.0" rx="1.9" ry="1.9"/><ellipse cx="390.0" cy="996.0" rx="1.9" ry="1.9"/><ellipse cx="409.0" cy="996.0" rx="1.9" ry="1.9"/><ellipse cx="428.0" cy="996.0" rx="1.9" ry="1.9"/><ellipse cx="447.0" cy="996.0" rx="1.9" ry="1.9"/><ellipse cx="466.0" cy="996.0" rx="1.9" ry="1.9"/></g>
</g>
<rect x="383.0" y="1008.0" width="58.5" height="75.0" fill="#808080" stroke="#3a3636" stroke-width="1.6"/>
<clipPath id="c13"><rect x="384.0" y="1009.0" width="56.5" height="73.0"/></clipPath>
<g clip-path="url(#c13)">
<g stroke="#262222" stroke-width="1.6" fill="#262222"><line x1="392.4" y1="1019.0" x2="404.1" y2="1019.0"/><line x1="423.9" y1="1019.0" x2="436.8" y2="1019.0"/><circle cx="414.0" cy="1019.0" r="1.8" stroke="none"/><line x1="406.4" y1="1046.0" x2="419.3" y2="1046.0"/><circle cx="394.7" cy="1046.0" r="1.8" stroke="none"/><circle cx="432.1" cy="1046.0" r="1.8" stroke="none"/><line x1="392.4" y1="1073.0" x2="404.1" y2="1073.0"/><line x1="423.9" y1="1073.0" x2="436.8" y2="1073.0"/><circle cx="414.0" cy="1073.0" r="1.8" stroke="none"/></g>
</g>
<line x1="383.0" y1="143.0" x2="383.0" y2="1084.0" stroke="#2a2626" stroke-width="3"/>
<path d="M381.5 1083.0 H499.7" stroke="#2a2626" stroke-width="3.8" fill="none"/>
<line x1="410.7" y1="1083.0" x2="410.7" y2="1103.0" stroke="#2a2626" stroke-width="3.4"/>
<line x1="440.0" y1="1083.0" x2="440.0" y2="1103.0" stroke="#2a2626" stroke-width="3.4"/>
<line x1="468.0" y1="1083.0" x2="468.0" y2="1103.0" stroke="#2a2626" stroke-width="3.4"/>
<line x1="498.0" y1="1083.0" x2="498.0" y2="1103.0" stroke="#2a2626" stroke-width="3.4"/>
<text x="410.2" y="1141.5" fill="#2a2626" font-size="47" font-weight="normal" textLength="10.0" lengthAdjust="spacingAndGlyphs" text-anchor="middle" stroke="#2a2626" stroke-width="1.5" stroke-linejoin="round">C</text>
<text x="439.5" y="1141.5" fill="#2a2626" font-size="47" font-weight="normal" textLength="19.5" lengthAdjust="spacingAndGlyphs" text-anchor="middle" stroke="#2a2626" stroke-width="1.5" stroke-linejoin="round">CS</text>
<text x="467.5" y="1141.5" fill="#2a2626" font-size="47" font-weight="normal" textLength="10.0" lengthAdjust="spacingAndGlyphs" text-anchor="middle" stroke="#2a2626" stroke-width="1.5" stroke-linejoin="round">S</text>
<text x="497.5" y="1141.5" fill="#2a2626" font-size="47" font-weight="normal" textLength="17.5" lengthAdjust="spacingAndGlyphs" text-anchor="middle" stroke="#2a2626" stroke-width="1.5" stroke-linejoin="round">FS</text>
<rect x="679.0" y="266.0" width="121.0" height="49.0" fill="#d9a22e" stroke="#2a2222" stroke-width="2.4"/>
<clipPath id="c14"><rect x="679.8" y="266.8" width="119.4" height="47.4"/></clipPath>
<g clip-path="url(#c14)">
<g fill="#262222">
<ellipse cx="686.0" cy="295.3" rx="2.8" ry="4.3"/>
<ellipse cx="712.7" cy="295.3" rx="2.8" ry="4.3"/>
<ellipse cx="740.0" cy="295.3" rx="2.8" ry="4.3"/>
<ellipse cx="766.7" cy="295.3" rx="2.8" ry="4.3"/>
<ellipse cx="793.0" cy="295.3" rx="2.8" ry="4.3"/>
</g>
</g>
<rect x="679.0" y="315.0" width="121.0" height="223.5" fill="#808080" stroke="#3a3636" stroke-width="1.6"/>
<clipPath id="c15"><rect x="679.8" y="315.8" width="119.4" height="221.9"/></clipPath>
<g clip-path="url(#c15)">
<g fill="#262222">
<ellipse cx="686.0" cy="334.6" rx="2.8" ry="4.3"/>
<ellipse cx="712.7" cy="334.6" rx="2.8" ry="4.3"/>
<ellipse cx="740.0" cy="334.6" rx="2.8" ry="4.3"/>
<ellipse cx="766.7" cy="334.6" rx="2.8" ry="4.3"/>
<ellipse cx="793.0" cy="334.6" rx="2.8" ry="4.3"/>
<ellipse cx="689.5" cy="392.0" rx="2.8" ry="4.3"/>
<ellipse cx="716.5" cy="392.0" rx="2.8" ry="4.3"/>
<ellipse cx="742.5" cy="392.0" rx="2.8" ry="4.3"/>
<ellipse cx="769.0" cy="392.0" rx="2.8" ry="4.3"/>
<ellipse cx="796.5" cy="392.0" rx="2.8" ry="4.3"/>
<ellipse cx="687.0" cy="455.0" rx="2.8" ry="4.3"/>
<ellipse cx="714.0" cy="455.0" rx="2.8" ry="4.3"/>
<ellipse cx="740.5" cy="455.0" rx="2.8" ry="4.3"/>
<ellipse cx="767.7" cy="455.0" rx="2.8" ry="4.3"/>
<ellipse cx="794.0" cy="455.0" rx="2.8" ry="4.3"/>
<ellipse cx="689.5" cy="512.7" rx="2.8" ry="4.3"/>
<ellipse cx="716.5" cy="512.7" rx="2.8" ry="4.3"/>
<ellipse cx="742.5" cy="512.7" rx="2.8" ry="4.3"/>
<ellipse cx="769.0" cy="512.7" rx="2.8" ry="4.3"/>
<ellipse cx="796.5" cy="512.7" rx="2.8" ry="4.3"/>
</g>
<polyline points="709.3,350.9 708.1,350.0 706.8,349.5 705.6,349.6 704.4,350.3 703.3,351.4 702.4,352.9 701.8,354.7 701.4,356.6 701.3,358.7 701.4,360.7 701.8,362.6 702.4,364.2 703.2,365.5 704.1,366.4 705.0,366.9 706.0,367.0 706.9,366.6 707.8,366.0 708.5,365.0 709.0,363.7 709.4,362.3 709.5,360.9 709.4,359.4 709.2,358.1 708.8,357.0 708.2,356.0 707.6,355.4 706.9,355.0 706.2,355.0 705.6,355.3 705.0,355.8 704.5,356.5 704.1,357.4 703.8,358.4 703.7,359.4 703.8,360.4 703.9,361.4 704.2,362.2 704.5,362.8 704.9,363.3 705.3,363.6 705.7,363.6 706.1,363.5 706.5,363.3 706.7,362.9 706.9,362.5 707.0,362.0 707.1,361.5" fill="none" stroke="#3a3232" stroke-width="1.2"/>
<polyline points="742.8,350.9 741.6,350.0 740.3,349.5 739.1,349.6 737.9,350.3 736.8,351.4 735.9,352.9 735.3,354.7 734.9,356.6 734.8,358.7 734.9,360.7 735.3,362.6 735.9,364.2 736.7,365.5 737.6,366.4 738.5,366.9 739.5,367.0 740.4,366.6 741.3,366.0 742.0,365.0 742.5,363.7 742.9,362.3 743.0,360.9 742.9,359.4 742.7,358.1 742.3,357.0 741.7,356.0 741.1,355.4 740.4,355.0 739.7,355.0 739.1,355.3 738.5,355.8 738.0,356.5 737.6,357.4 737.3,358.4 737.2,359.4 737.3,360.4 737.4,361.4 737.7,362.2 738.0,362.8 738.4,363.3 738.8,363.6 739.2,363.6 739.6,363.5 740.0,363.3 740.2,362.9 740.4,362.5 740.5,362.0 740.6,361.5" fill="none" stroke="#3a3232" stroke-width="1.2"/>
<polyline points="781.1,351.9 779.9,351.0 778.6,350.5 777.4,350.6 776.2,351.3 775.1,352.4 774.2,353.9 773.6,355.7 773.2,357.6 773.1,359.7 773.2,361.7 773.6,363.6 774.2,365.2 775.0,366.5 775.9,367.4 776.8,367.9 777.8,368.0 778.7,367.6 779.6,367.0 780.3,366.0 780.8,364.7 781.2,363.3 781.3,361.9 781.2,360.4 781.0,359.1 780.6,358.0 780.0,357.0 779.4,356.4 778.7,356.0 778.0,356.0 777.4,356.3 776.8,356.8 776.3,357.5 775.9,358.4 775.6,359.4 775.5,360.4 775.6,361.4 775.7,362.4 776.0,363.2 776.3,363.8 776.7,364.3 777.1,364.6 777.5,364.6 777.9,364.5 778.3,364.3 778.5,363.9 778.7,363.5 778.8,363.0 778.9,362.5" fill="none" stroke="#3a3232" stroke-width="1.2"/>
<polyline points="710.3,413.9 709.1,413.0 707.8,412.5 706.6,412.6 705.4,413.3 704.3,414.4 703.4,415.9 702.8,417.7 702.4,419.6 702.3,421.7 702.4,423.7 702.8,425.6 703.4,427.2 704.2,428.5 705.1,429.4 706.0,429.9 707.0,430.0 707.9,429.6 708.8,429.0 709.5,428.0 710.0,426.7 710.4,425.3 710.5,423.9 710.4,422.4 710.2,421.1 709.8,420.0 709.2,419.0 708.6,418.4 707.9,418.0 707.2,418.0 706.6,418.3 706.0,418.8 705.5,419.5 705.1,420.4 704.8,421.4 704.7,422.4 704.8,423.4 704.9,424.4 705.2,425.2 705.5,425.8 705.9,426.3 706.3,426.6 706.7,426.6 707.1,426.5 707.5,426.3 707.7,425.9 707.9,425.5 708.0,425.0 708.1,424.5" fill="none" stroke="#3a3232" stroke-width="1.2"/>
<polyline points="743.8,414.9 742.6,414.0 741.3,413.5 740.1,413.6 738.9,414.3 737.8,415.4 736.9,416.9 736.3,418.7 735.9,420.6 735.8,422.7 735.9,424.7 736.3,426.6 736.9,428.2 737.7,429.5 738.6,430.4 739.5,430.9 740.5,431.0 741.4,430.6 742.3,430.0 743.0,429.0 743.5,427.7 743.9,426.3 744.0,424.9 743.9,423.4 743.7,422.1 743.3,421.0 742.7,420.0 742.1,419.4 741.4,419.0 740.7,419.0 740.1,419.3 739.5,419.8 739.0,420.5 738.6,421.4 738.3,422.4 738.2,423.4 738.3,424.4 738.4,425.4 738.7,426.2 739.0,426.8 739.4,427.3 739.8,427.6 740.2,427.6 740.6,427.5 741.0,427.3 741.2,426.9 741.4,426.5 741.5,426.0 741.6,425.5" fill="none" stroke="#3a3232" stroke-width="1.2"/>
<polyline points="779.3,412.9 778.1,412.0 776.8,411.5 775.6,411.6 774.4,412.3 773.3,413.4 772.4,414.9 771.8,416.7 771.4,418.6 771.3,420.7 771.4,422.7 771.8,424.6 772.4,426.2 773.2,427.5 774.1,428.4 775.0,428.9 776.0,429.0 776.9,428.6 777.8,428.0 778.5,427.0 779.0,425.7 779.4,424.3 779.5,422.9 779.4,421.4 779.2,420.1 778.8,419.0 778.2,418.0 777.6,417.4 776.9,417.0 776.2,417.0 775.6,417.3 775.0,417.8 774.5,418.5 774.1,419.4 773.8,420.4 773.7,421.4 773.8,422.4 773.9,423.4 774.2,424.2 774.5,424.8 774.9,425.3 775.3,425.6 775.7,425.6 776.1,425.5 776.5,425.3 776.7,424.9 776.9,424.5 777.0,424.0 777.1,423.5" fill="none" stroke="#3a3232" stroke-width="1.2"/>
<polyline points="705.0,473.4 703.8,472.5 702.5,472.0 701.3,472.1 700.1,472.8 699.0,473.9 698.1,475.4 697.5,477.2 697.1,479.1 697.0,481.2 697.1,483.2 697.5,485.1 698.1,486.7 698.9,488.0 699.8,488.9 700.7,489.4 701.7,489.5 702.6,489.1 703.5,488.5 704.2,487.5 704.7,486.2 705.1,484.8 705.2,483.4 705.1,481.9 704.9,480.6 704.5,479.5 703.9,478.5 703.3,477.9 702.6,477.5 701.9,477.5 701.3,477.8 700.7,478.3 700.2,479.0 699.8,479.9 699.5,480.9 699.4,481.9 699.5,482.9 699.6,483.9 699.9,484.7 700.2,485.3 700.6,485.8 701.0,486.1 701.4,486.1 701.8,486.0 702.2,485.8 702.4,485.4 702.6,485.0 702.7,484.5 702.8,484.0" fill="none" stroke="#3a3232" stroke-width="1.2"/>
<polyline points="740.8,471.9 739.6,471.0 738.3,470.5 737.1,470.6 735.9,471.3 734.8,472.4 733.9,473.9 733.3,475.7 732.9,477.6 732.8,479.7 732.9,481.7 733.3,483.6 733.9,485.2 734.7,486.5 735.6,487.4 736.5,487.9 737.5,488.0 738.4,487.6 739.3,487.0 740.0,486.0 740.5,484.7 740.9,483.3 741.0,481.9 740.9,480.4 740.7,479.1 740.3,478.0 739.7,477.0 739.1,476.4 738.4,476.0 737.7,476.0 737.1,476.3 736.5,476.8 736.0,477.5 735.6,478.4 735.3,479.4 735.2,480.4 735.3,481.4 735.4,482.4 735.7,483.2 736.0,483.8 736.4,484.3 736.8,484.6 737.2,484.6 737.6,484.5 738.0,484.3 738.2,483.9 738.4,483.5 738.5,483.0 738.6,482.5" fill="none" stroke="#3a3232" stroke-width="1.2"/>
<polyline points="778.1,474.9 776.9,474.0 775.6,473.5 774.4,473.6 773.2,474.3 772.1,475.4 771.2,476.9 770.6,478.7 770.2,480.6 770.1,482.7 770.2,484.7 770.6,486.6 771.2,488.2 772.0,489.5 772.9,490.4 773.8,490.9 774.8,491.0 775.7,490.6 776.6,490.0 777.3,489.0 777.8,487.7 778.2,486.3 778.3,484.9 778.2,483.4 778.0,482.1 777.6,481.0 777.0,480.0 776.4,479.4 775.7,479.0 775.0,479.0 774.4,479.3 773.8,479.8 773.3,480.5 772.9,481.4 772.6,482.4 772.5,483.4 772.6,484.4 772.7,485.4 773.0,486.2 773.3,486.8 773.7,487.3 774.1,487.6 774.5,487.6 774.9,487.5 775.3,487.3 775.5,486.9 775.7,486.5 775.8,486.0 775.9,485.5" fill="none" stroke="#3a3232" stroke-width="1.2"/>
</g>
<rect x="679.0" y="538.5" width="45.5" height="37.5" fill="#2a2a2a" stroke="#3a3636" stroke-width="1.6"/>
<clipPath id="c16"><rect x="679.8" y="539.3" width="43.9" height="35.9"/></clipPath>
<g clip-path="url(#c16)">
</g>
<rect x="679.0" y="582.0" width="45.5" height="36.6" fill="#ececec" stroke="#8a8686" stroke-width="1.2"/>
<clipPath id="c17"><rect x="679.8" y="582.8" width="43.9" height="35.0"/></clipPath>
<g clip-path="url(#c17)">
<g stroke="#262222" stroke-width="1.8" fill="#262222">
<line x1="680.0" y1="601.5" x2="692.0" y2="601.5"/>
<line x1="705.0" y1="601.5" x2="720.0" y2="601.5"/>
</g>
</g>
<rect x="679.0" y="618.6" width="62.5" height="32.2" fill="#b9b9b9" stroke="#3a3636" stroke-width="1.6"/>
<clipPath id="c18"><rect x="679.8" y="619.4" width="60.9" height="30.6"/></clipPath>
<g clip-path="url(#c18)">
<g stroke="#262222" stroke-width="2.4" fill="#262222">
<line x1="688.0" y1="634.3" x2="701.0" y2="634.3"/>
<line x1="724.4" y1="634.3" x2="737.5" y2="634.3"/>
<circle cx="714.0" cy="634.3" r="1.8" stroke="none"/>
</g>
</g>
<rect x="679.0" y="650.8" width="121.0" height="25.8" fill="#ffd20a" stroke="#2a2222" stroke-width="2.2"/>
<clipPath id="c19"><rect x="679.8" y="651.6" width="119.4" height="24.2"/></clipPath>
<g clip-path="url(#c19)">
<g fill="#262222">
<ellipse cx="686.0" cy="663.9" rx="2.8" ry="4.3"/>
<ellipse cx="712.7" cy="663.9" rx="2.8" ry="4.3"/>
<ellipse cx="740.0" cy="663.9" rx="2.8" ry="4.3"/>
<ellipse cx="766.7" cy="663.9" rx="2.8" ry="4.3"/>
<ellipse cx="793.0" cy="663.9" rx="2.8" ry="4.3"/>
</g>
</g>
<rect x="679.0" y="676.6" width="91.3" height="22.4" fill="#ececec" stroke="#3a3636" stroke-width="1.6"/>
<clipPath id="c20"><rect x="679.8" y="677.4" width="89.7" height="20.8"/></clipPath>
<g clip-path="url(#c20)">
<g fill="#262222">
<ellipse cx="688.8" cy="691.0" rx="1.3" ry="1.3"/>
<ellipse cx="712.0" cy="691.0" rx="1.3" ry="1.3"/>
<ellipse cx="736.0" cy="691.0" rx="1.3" ry="1.3"/>
<ellipse cx="757.6" cy="691.0" rx="1.3" ry="1.3"/>
</g>
<polyline points="703.5,682.4 702.6,681.7 701.6,681.4 700.7,681.5 699.8,682.0 699.0,682.8 698.3,683.9 697.8,685.2 697.5,686.7 697.4,688.3 697.5,689.8 697.8,691.2 698.3,692.4 698.9,693.4 699.5,694.0 700.3,694.4 701.0,694.5 701.7,694.2 702.3,693.7 702.9,693.0 703.3,692.0 703.5,691.0 703.6,689.9 703.6,688.8 703.4,687.8 703.1,687.0 702.7,686.3 702.2,685.8 701.7,685.5 701.2,685.5 700.7,685.7 700.2,686.1 699.8,686.6 699.6,687.3 699.4,688.0 699.3,688.8 699.3,689.6 699.4,690.3 699.6,690.9 699.9,691.4 700.2,691.7 700.5,691.9 700.8,692.0 701.1,691.9 701.3,691.7 701.5,691.4 701.7,691.1 701.8,690.8 701.8,690.4" fill="none" stroke="#3a3232" stroke-width="1.2"/>
<polyline points="748.1,682.4 747.2,681.7 746.2,681.4 745.3,681.5 744.4,682.0 743.6,682.8 742.9,683.9 742.4,685.2 742.1,686.7 742.0,688.3 742.1,689.8 742.4,691.2 742.9,692.4 743.5,693.4 744.1,694.0 744.9,694.4 745.6,694.5 746.3,694.2 746.9,693.7 747.5,693.0 747.9,692.0 748.1,691.0 748.2,689.9 748.2,688.8 748.0,687.8 747.7,687.0 747.3,686.3 746.8,685.8 746.3,685.5 745.8,685.5 745.3,685.7 744.8,686.1 744.4,686.6 744.2,687.3 744.0,688.0 743.9,688.8 743.9,689.6 744.0,690.3 744.2,690.9 744.5,691.4 744.8,691.7 745.1,691.9 745.4,692.0 745.7,691.9 745.9,691.7 746.1,691.4 746.3,691.1 746.4,690.8 746.4,690.4" fill="none" stroke="#3a3232" stroke-width="1.2"/>
</g>
<rect x="679.0" y="699.0" width="121.0" height="52.5" fill="#b9b9b9" stroke="#3a3636" stroke-width="1.6"/>
<clipPath id="c21"><rect x="679.8" y="699.8" width="119.4" height="50.9"/></clipPath>
<g clip-path="url(#c21)">
<g fill="#262222">
<ellipse cx="686.0" cy="725.3" rx="2.8" ry="4.3"/>
<ellipse cx="712.7" cy="725.3" rx="2.8" ry="4.3"/>
<ellipse cx="740.0" cy="725.3" rx="2.8" ry="4.3"/>
<ellipse cx="766.0" cy="725.3" rx="2.8" ry="4.3"/>
</g>
<polyline points="729.7,715.5 728.1,714.2 726.5,713.7 724.9,713.8 723.3,714.7 721.9,716.1 720.8,718.0 719.9,720.4 719.4,722.9 719.2,725.6 719.4,728.2 719.9,730.6 720.7,732.7 721.7,734.4 722.9,735.6 724.1,736.3 725.4,736.4 726.6,735.9 727.7,735.0 728.6,733.7 729.3,732.1 729.8,730.3 730.0,728.4 729.9,726.6 729.6,724.8 729.0,723.3 728.3,722.1 727.5,721.3 726.6,720.9 725.7,720.8 724.8,721.1 724.1,721.8 723.4,722.8 722.9,723.9 722.6,725.2 722.5,726.6 722.5,727.9 722.7,729.1 723.0,730.1 723.5,731.0 724.0,731.6 724.5,731.9 725.1,732.0 725.6,731.9 726.0,731.6 726.4,731.1 726.6,730.5 726.7,729.9 726.8,729.3" fill="none" stroke="#3a3232" stroke-width="1.2"/>
<polyline points="787.1,717.5 785.5,716.2 783.9,715.7 782.3,715.8 780.7,716.7 779.3,718.1 778.2,720.0 777.3,722.4 776.8,724.9 776.6,727.6 776.8,730.2 777.3,732.6 778.1,734.7 779.1,736.4 780.3,737.6 781.5,738.3 782.8,738.4 784.0,737.9 785.1,737.0 786.0,735.7 786.7,734.1 787.2,732.3 787.4,730.4 787.3,728.6 787.0,726.8 786.4,725.3 785.7,724.1 784.9,723.3 784.0,722.9 783.1,722.8 782.2,723.1 781.5,723.8 780.8,724.8 780.3,725.9 780.0,727.2 779.9,728.6 779.9,729.9 780.1,731.1 780.4,732.1 780.9,733.0 781.4,733.6 781.9,733.9 782.5,734.0 783.0,733.9 783.4,733.6 783.8,733.1 784.0,732.5 784.1,731.9 784.2,731.3" fill="none" stroke="#3a3232" stroke-width="1.2"/>
</g>
<rect x="679.0" y="751.5" width="89.7" height="35.2" fill="#b9b9b9" stroke="#3a3636" stroke-width="1.6"/>
<clipPath id="c22"><rect x="679.8" y="752.3" width="88.1" height="33.6"/></clipPath>
<g clip-path="url(#c22)">
<g fill="#262222">
<ellipse cx="687.6" cy="768.6" rx="1.5" ry="1.5"/>
<ellipse cx="711.0" cy="768.6" rx="1.5" ry="1.5"/>
<ellipse cx="735.0" cy="768.6" rx="1.5" ry="1.5"/>
<ellipse cx="756.0" cy="768.6" rx="1.5" ry="1.5"/>
</g>
</g>
<rect x="679.0" y="786.7" width="121.0" height="45.8" fill="#b9b9b9" stroke="#3a3636" stroke-width="1.6"/>
<clipPath id="c23"><rect x="679.8" y="787.5" width="119.4" height="44.2"/></clipPath>
<g clip-path="url(#c23)">
<g fill="#262222">
<ellipse cx="686.0" cy="809.8" rx="2.8" ry="4.3"/>
<ellipse cx="712.7" cy="809.8" rx="2.8" ry="4.3"/>
<ellipse cx="740.0" cy="809.8" rx="2.8" ry="4.3"/>
<ellipse cx="766.7" cy="809.8" rx="2.8" ry="4.3"/>
<ellipse cx="793.0" cy="809.8" rx="2.8" ry="4.3"/>
</g>
<polyline points="704.3,799.5 702.7,798.2 701.1,797.7 699.5,797.8 697.9,798.7 696.5,800.1 695.4,802.0 694.5,804.4 694.0,806.9 693.8,809.6 694.0,812.2 694.5,814.6 695.3,816.7 696.3,818.4 697.5,819.6 698.7,820.3 700.0,820.4 701.2,819.9 702.3,819.0 703.2,817.7 703.9,816.1 704.4,814.3 704.6,812.4 704.5,810.6 704.2,808.8 703.6,807.3 702.9,806.1 702.1,805.3 701.2,804.9 700.3,804.8 699.4,805.1 698.7,805.8 698.0,806.8 697.5,807.9 697.2,809.2 697.1,810.6 697.1,811.9 697.3,813.1 697.6,814.1 698.1,815.0 698.6,815.6 699.1,815.9 699.7,816.0 700.2,815.9 700.6,815.6 701.0,815.1 701.2,814.5 701.3,813.9 701.4,813.3" fill="none" stroke="#3a3232" stroke-width="1.2"/>
<polyline points="757.9,798.5 756.3,797.2 754.7,796.7 753.1,796.8 751.5,797.7 750.1,799.1 749.0,801.0 748.1,803.4 747.6,805.9 747.4,808.6 747.6,811.2 748.1,813.6 748.9,815.7 749.9,817.4 751.1,818.6 752.3,819.3 753.6,819.4 754.8,818.9 755.9,818.0 756.8,816.7 757.5,815.1 758.0,813.3 758.2,811.4 758.1,809.6 757.8,807.8 757.2,806.3 756.5,805.1 755.7,804.3 754.8,803.9 753.9,803.8 753.0,804.1 752.3,804.8 751.6,805.8 751.1,806.9 750.8,808.2 750.7,809.6 750.7,810.9 750.9,812.1 751.2,813.1 751.7,814.0 752.2,814.6 752.7,814.9 753.3,815.0 753.8,814.9 754.2,814.6 754.6,814.1 754.8,813.5 754.9,812.9 755.0,812.3" fill="none" stroke="#3a3232" stroke-width="1.2"/>
</g>
<rect x="679.0" y="832.5" width="88.8" height="49.8" fill="#d6682c" stroke="#3a3636" stroke-width="1.6"/>
<clipPath id="c24"><rect x="679.8" y="833.3" width="87.2" height="48.2"/></clipPath>
<g clip-path="url(#c24)">
<g fill="#4a1a08">
<ellipse cx="692.5" cy="861.6" rx="1.4" ry="1.4"/>
<ellipse cx="715.8" cy="861.6" rx="1.4" ry="1.4"/>
<ellipse cx="739.0" cy="861.6" rx="1.4" ry="1.4"/>
<ellipse cx="761.3" cy="861.6" rx="1.4" ry="1.4"/>
</g>
</g>
<rect x="679.0" y="882.3" width="121.0" height="32.5" fill="#b9b9b9" stroke="#3a3636" stroke-width="1.6"/>
<clipPath id="c25"><rect x="679.8" y="883.1" width="119.4" height="30.9"/></clipPath>
<g clip-path="url(#c25)">
<g fill="#262222">
<ellipse cx="686.0" cy="898.0" rx="2.8" ry="4.3"/>
<ellipse cx="712.7" cy="898.0" rx="2.8" ry="4.3"/>
<ellipse cx="740.0" cy="898.0" rx="2.8" ry="4.3"/>
<ellipse cx="766.7" cy="898.0" rx="2.8" ry="4.3"/>
<ellipse cx="793.0" cy="898.0" rx="2.8" ry="4.3"/>
</g>
</g>
<rect x="679.0" y="914.8" width="40.7" height="32.0" fill="#b9b9b9" stroke="#3a3636" stroke-width="1.6"/>
<clipPath id="c26"><rect x="679.8" y="915.6" width="39.1" height="30.4"/></clipPath>
<g clip-path="url(#c26)">
<g stroke="#262222" stroke-width="1.8" fill="#262222">
<line x1="680.8" y1="930.4" x2="692.5" y2="930.4"/>
<line x1="706.8" y1="930.4" x2="719.7" y2="930.4"/>
</g>
</g>
<rect x="679.0" y="946.8" width="65.4" height="62.0" fill="#b9b9b9" stroke="#3a3636" stroke-width="1.6"/>
<clipPath id="c27"><rect x="679.8" y="947.6" width="63.8" height="60.4"/></clipPath>
<g clip-path="url(#c27)">
<g stroke="#262222" stroke-width="1.8" fill="#262222">
<line x1="681.0" y1="962.0" x2="692.5" y2="962.0"/>
<line x1="726.0" y1="962.0" x2="739.0" y2="962.0"/>
<circle cx="710.6" cy="962.0" r="1.8" stroke="none"/>
<line x1="712.0" y1="992.0" x2="725.0" y2="992.0"/>
<circle cx="699.5" cy="992.0" r="1.8" stroke="none"/>
<circle cx="735.8" cy="992.0" r="1.8" stroke="none"/>
</g>
</g>
<rect x="679.0" y="1008.8" width="121.0" height="39.2" fill="#ffd20a" stroke="#2a2222" stroke-width="2.2"/>
<clipPath id="c28"><rect x="679.8" y="1009.6" width="119.4" height="37.6"/></clipPath>
<g clip-path="url(#c28)">
<g fill="#262222">
<ellipse cx="686.0" cy="1027.8" rx="2.8" ry="4.3"/>
<ellipse cx="712.7" cy="1027.8" rx="2.8" ry="4.3"/>
<ellipse cx="740.0" cy="1027.8" rx="2.8" ry="4.3"/>
<ellipse cx="766.7" cy="1027.8" rx="2.8" ry="4.3"/>
<ellipse cx="793.0" cy="1027.8" rx="2.8" ry="4.3"/>
</g>
</g>
<rect x="679.0" y="1048.0" width="40.7" height="97.0" fill="#626262" stroke="#3a3636" stroke-width="1.6"/>
<clipPath id="c29"><rect x="679.8" y="1048.8" width="39.1" height="95.4"/></clipPath>
<g clip-path="url(#c29)">
<g stroke="#262222" stroke-width="1.8" fill="#262222">
<line x1="680.8" y1="1073.0" x2="692.5" y2="1073.0"/>
<line x1="706.8" y1="1073.0" x2="719.7" y2="1073.0"/>
<line x1="691.0" y1="1105.7" x2="705.5" y2="1105.7"/>
</g>
</g>
<rect x="680" y="1049" width="39" height="14" fill="#5a6272" opacity="0.8"/>
<line x1="679.0" y1="266.0" x2="679.0" y2="1146.5" stroke="#2a2626" stroke-width="3"/>
<path d="M677.5 1145.0 H796.7" stroke="#2a2626" stroke-width="3.8" fill="none"/>
<line x1="713.8" y1="1145.0" x2="713.8" y2="1160.0" stroke="#2a2626" stroke-width="3.4"/>
<line x1="742.6" y1="1145.0" x2="742.6" y2="1160.0" stroke="#2a2626" stroke-width="3.4"/>
<line x1="769.0" y1="1145.0" x2="769.0" y2="1160.0" stroke="#2a2626" stroke-width="3.4"/>
<line x1="795.0" y1="1145.0" x2="795.0" y2="1160.0" stroke="#2a2626" stroke-width="3.4"/>
<text x="713.3" y="1201.8" fill="#2a2626" font-size="47" font-weight="normal" textLength="10.0" lengthAdjust="spacingAndGlyphs" text-anchor="middle" stroke="#2a2626" stroke-width="1.5" stroke-linejoin="round">C</text>
<text x="742.1" y="1201.8" fill="#2a2626" font-size="47" font-weight="normal" textLength="19.5" lengthAdjust="spacingAndGlyphs" text-anchor="middle" stroke="#2a2626" stroke-width="1.5" stroke-linejoin="round">CS</text>
<text x="768.5" y="1201.8" fill="#2a2626" font-size="47" font-weight="normal" textLength="10.0" lengthAdjust="spacingAndGlyphs" text-anchor="middle" stroke="#2a2626" stroke-width="1.5" stroke-linejoin="round">S</text>
<text x="794.5" y="1201.8" fill="#2a2626" font-size="47" font-weight="normal" textLength="17.5" lengthAdjust="spacingAndGlyphs" text-anchor="middle" stroke="#2a2626" stroke-width="1.5" stroke-linejoin="round">FS</text>
<line x1="679" y1="580" x2="724.5" y2="580" stroke="#e0202a" stroke-width="7" stroke-dasharray="19,11"/>
<rect x="988.3" y="269.5" width="118.7" height="26.0" fill="#d9a22e" stroke="#2a2222" stroke-width="2.2"/>
<clipPath id="c30"><rect x="989.1" y="270.3" width="117.1" height="24.4"/></clipPath>
<g clip-path="url(#c30)">
<g fill="#262222">
<ellipse cx="1009.0" cy="283.0" rx="2.7" ry="3.3"/>
<ellipse cx="1035.0" cy="283.0" rx="2.7" ry="3.3"/>
<ellipse cx="1066.6" cy="283.0" rx="2.7" ry="3.3"/>
<ellipse cx="1092.0" cy="283.0" rx="2.7" ry="3.3"/>
</g>
</g>
<rect x="988.3" y="295.5" width="64.3" height="92.2" fill="#808080" stroke="#3a3636" stroke-width="1.6"/>
<clipPath id="c31"><rect x="989.1" y="296.3" width="62.7" height="90.6"/></clipPath>
<g clip-path="url(#c31)">
<g stroke="#262222" stroke-width="1.8" fill="#262222">
<line x1="988.0" y1="327.0" x2="1003.8" y2="327.0"/>
<line x1="1023.0" y1="327.0" x2="1037.0" y2="327.0"/>
<circle cx="1014.7" cy="327.0" r="1.8" stroke="none"/>
<line x1="996.8" y1="359.0" x2="1010.0" y2="359.0"/>
<line x1="1033.6" y1="359.0" x2="1048.0" y2="359.0"/>
<circle cx="1018.8" cy="359.0" r="1.8" stroke="none"/>
</g>
</g>
<rect x="988.3" y="387.7" width="118.7" height="229.8" fill="#808080" stroke="#3a3636" stroke-width="1.6"/>
<clipPath id="c32"><rect x="989.1" y="388.5" width="117.1" height="228.2"/></clipPath>
<g clip-path="url(#c32)">
<g fill="#262222">
<ellipse cx="1003.0" cy="399.4" rx="2.6" ry="3.2"/>
<ellipse cx="1030.0" cy="399.4" rx="2.6" ry="3.2"/>
<ellipse cx="1061.0" cy="399.4" rx="2.6" ry="3.2"/>
<ellipse cx="1088.0" cy="399.4" rx="2.6" ry="3.2"/>
<ellipse cx="1018.0" cy="431.8" rx="2.6" ry="3.2"/>
<ellipse cx="1045.8" cy="431.8" rx="2.6" ry="3.2"/>
<ellipse cx="1074.0" cy="431.8" rx="2.6" ry="3.2"/>
<ellipse cx="1005.0" cy="465.0" rx="2.6" ry="3.2"/>
<ellipse cx="1031.0" cy="465.0" rx="2.6" ry="3.2"/>
<ellipse cx="1063.5" cy="465.0" rx="2.6" ry="3.2"/>
<ellipse cx="1088.0" cy="465.0" rx="2.6" ry="3.2"/>
<ellipse cx="1018.0" cy="498.8" rx="2.6" ry="3.2"/>
<ellipse cx="1045.8" cy="498.8" rx="2.6" ry="3.2"/>
<ellipse cx="1074.0" cy="498.8" rx="2.6" ry="3.2"/>
<ellipse cx="1003.0" cy="531.0" rx="2.6" ry="3.2"/>
<ellipse cx="1030.0" cy="531.0" rx="2.6" ry="3.2"/>
<ellipse cx="1061.0" cy="531.0" rx="2.6" ry="3.2"/>
<ellipse cx="1088.0" cy="531.0" rx="2.6" ry="3.2"/>
<ellipse cx="1018.0" cy="564.3" rx="2.6" ry="3.2"/>
<ellipse cx="1045.8" cy="564.3" rx="2.6" ry="3.2"/>
<ellipse cx="1074.0" cy="564.3" rx="2.6" ry="3.2"/>
<ellipse cx="1005.0" cy="597.5" rx="2.6" ry="3.2"/>
<ellipse cx="1031.0" cy="597.5" rx="2.6" ry="3.2"/>
<ellipse cx="1063.5" cy="597.5" rx="2.6" ry="3.2"/>
<ellipse cx="1088.0" cy="597.5" rx="2.6" ry="3.2"/>
</g>
<polyline points="1035.3,434.7 1034.2,433.9 1033.1,433.5 1031.9,433.6 1030.8,434.2 1029.9,435.1 1029.1,436.5 1028.5,438.1 1028.1,439.9 1028.0,441.7 1028.2,443.5 1028.5,445.2 1029.0,446.7 1029.7,447.8 1030.5,448.7 1031.4,449.1 1032.3,449.2 1033.1,448.9 1033.9,448.3 1034.5,447.4 1035.0,446.2 1035.3,445.0 1035.5,443.7 1035.4,442.4 1035.2,441.2 1034.8,440.2 1034.3,439.3 1033.7,438.8 1033.1,438.4 1032.5,438.4 1031.9,438.6 1031.4,439.1 1030.9,439.8 1030.6,440.6 1030.4,441.5 1030.3,442.4 1030.3,443.3 1030.4,444.1 1030.7,444.9 1031.0,445.4 1031.3,445.9 1031.7,446.1 1032.1,446.2 1032.4,446.1 1032.7,445.9 1033.0,445.5 1033.1,445.1 1033.2,444.7 1033.3,444.3" fill="none" stroke="#3a3232" stroke-width="1.2"/>
<polyline points="1090.4,434.7 1089.3,433.9 1088.2,433.5 1087.0,433.6 1085.9,434.2 1085.0,435.1 1084.2,436.5 1083.6,438.1 1083.2,439.9 1083.1,441.7 1083.3,443.5 1083.6,445.2 1084.1,446.7 1084.8,447.8 1085.6,448.7 1086.5,449.1 1087.4,449.2 1088.2,448.9 1089.0,448.3 1089.6,447.4 1090.1,446.2 1090.4,445.0 1090.6,443.7 1090.5,442.4 1090.3,441.2 1089.9,440.2 1089.4,439.3 1088.8,438.8 1088.2,438.4 1087.6,438.4 1087.0,438.6 1086.5,439.1 1086.0,439.8 1085.7,440.6 1085.5,441.5 1085.4,442.4 1085.4,443.3 1085.5,444.1 1085.8,444.9 1086.1,445.4 1086.4,445.9 1086.8,446.1 1087.2,446.2 1087.5,446.1 1087.8,445.9 1088.1,445.5 1088.2,445.1 1088.3,444.7 1088.4,444.3" fill="none" stroke="#3a3232" stroke-width="1.2"/>
<polyline points="1035.3,489.5 1034.2,488.7 1033.1,488.3 1031.9,488.4 1030.8,489.0 1029.9,489.9 1029.1,491.3 1028.5,492.9 1028.1,494.7 1028.0,496.5 1028.2,498.3 1028.5,500.0 1029.0,501.5 1029.7,502.6 1030.5,503.5 1031.4,503.9 1032.3,504.0 1033.1,503.7 1033.9,503.1 1034.5,502.2 1035.0,501.0 1035.3,499.8 1035.5,498.5 1035.4,497.2 1035.2,496.0 1034.8,495.0 1034.3,494.1 1033.7,493.6 1033.1,493.2 1032.5,493.2 1031.9,493.4 1031.4,493.9 1030.9,494.6 1030.6,495.4 1030.4,496.3 1030.3,497.2 1030.3,498.1 1030.4,498.9 1030.7,499.7 1031.0,500.2 1031.3,500.7 1031.7,500.9 1032.1,501.0 1032.4,500.9 1032.7,500.7 1033.0,500.3 1033.1,499.9 1033.2,499.5 1033.3,499.1" fill="none" stroke="#3a3232" stroke-width="1.2"/>
<polyline points="1093.8,489.5 1092.7,488.7 1091.6,488.3 1090.4,488.4 1089.3,489.0 1088.4,489.9 1087.6,491.3 1087.0,492.9 1086.6,494.7 1086.5,496.5 1086.7,498.3 1087.0,500.0 1087.5,501.5 1088.2,502.6 1089.0,503.5 1089.9,503.9 1090.8,504.0 1091.6,503.7 1092.4,503.1 1093.0,502.2 1093.5,501.0 1093.8,499.8 1094.0,498.5 1093.9,497.2 1093.7,496.0 1093.3,495.0 1092.8,494.1 1092.2,493.6 1091.6,493.2 1091.0,493.2 1090.4,493.4 1089.9,493.9 1089.4,494.6 1089.1,495.4 1088.9,496.3 1088.8,497.2 1088.8,498.1 1088.9,498.9 1089.2,499.7 1089.5,500.2 1089.8,500.7 1090.2,500.9 1090.6,501.0 1090.9,500.9 1091.2,500.7 1091.5,500.3 1091.6,499.9 1091.7,499.5 1091.8,499.1" fill="none" stroke="#3a3232" stroke-width="1.2"/>
<polyline points="1034.0,554.4 1032.9,553.6 1031.8,553.2 1030.6,553.3 1029.5,553.9 1028.6,554.8 1027.8,556.2 1027.2,557.8 1026.8,559.6 1026.7,561.4 1026.9,563.2 1027.2,564.9 1027.7,566.4 1028.4,567.5 1029.2,568.4 1030.1,568.8 1031.0,568.9 1031.8,568.6 1032.6,568.0 1033.2,567.1 1033.7,565.9 1034.0,564.7 1034.2,563.4 1034.1,562.1 1033.9,560.9 1033.5,559.9 1033.0,559.0 1032.4,558.5 1031.8,558.1 1031.2,558.1 1030.6,558.3 1030.1,558.8 1029.6,559.5 1029.3,560.3 1029.1,561.2 1029.0,562.1 1029.0,563.0 1029.1,563.8 1029.4,564.6 1029.7,565.1 1030.0,565.6 1030.4,565.8 1030.8,565.9 1031.1,565.8 1031.4,565.6 1031.7,565.2 1031.8,564.8 1031.9,564.4 1032.0,564.0" fill="none" stroke="#3a3232" stroke-width="1.2"/>
<polyline points="1092.5,554.4 1091.4,553.6 1090.3,553.2 1089.1,553.3 1088.0,553.9 1087.1,554.8 1086.3,556.2 1085.7,557.8 1085.3,559.6 1085.2,561.4 1085.4,563.2 1085.7,564.9 1086.2,566.4 1086.9,567.5 1087.7,568.4 1088.6,568.8 1089.5,568.9 1090.3,568.6 1091.1,568.0 1091.7,567.1 1092.2,565.9 1092.5,564.7 1092.7,563.4 1092.6,562.1 1092.4,560.9 1092.0,559.9 1091.5,559.0 1090.9,558.5 1090.3,558.1 1089.7,558.1 1089.1,558.3 1088.6,558.8 1088.1,559.5 1087.8,560.3 1087.6,561.2 1087.5,562.1 1087.5,563.0 1087.6,563.8 1087.9,564.6 1088.2,565.1 1088.5,565.6 1088.9,565.8 1089.3,565.9 1089.6,565.8 1089.9,565.6 1090.2,565.2 1090.3,564.8 1090.4,564.4 1090.5,564.0" fill="none" stroke="#3a3232" stroke-width="1.2"/>
</g>
<rect x="988.3" y="617.5" width="79.7" height="25.5" fill="#414141" stroke="#3a3636" stroke-width="1.6"/>
<clipPath id="c33"><rect x="989.1" y="618.3" width="78.1" height="23.9"/></clipPath>
<g clip-path="url(#c33)">
</g>
<rect x="988.3" y="643.0" width="118.7" height="29.0" fill="#b9b9b9" stroke="#3a3636" stroke-width="1.6"/>
<clipPath id="c34"><rect x="989.1" y="643.8" width="117.1" height="27.4"/></clipPath>
<g clip-path="url(#c34)">
<g fill="#262222">
<ellipse cx="1005.0" cy="658.4" rx="2.6" ry="3.4"/>
<ellipse cx="1032.0" cy="658.4" rx="2.6" ry="3.4"/>
<ellipse cx="1062.0" cy="658.4" rx="2.6" ry="3.4"/>
<ellipse cx="1089.5" cy="658.4" rx="2.6" ry="3.4"/>
</g>
</g>
<rect x="988.3" y="672.0" width="79.7" height="85.0" fill="#d39c30" stroke="#3a3636" stroke-width="1.6"/>
<clipPath id="c35"><rect x="989.1" y="672.8" width="78.1" height="83.4"/></clipPath>
<g clip-path="url(#c35)">
<g stroke="#3a2a10" stroke-width="2.0" fill="#3a2a10">
<line x1="1001.0" y1="704.4" x2="1016.8" y2="704.4"/>
<line x1="1053.0" y1="704.4" x2="1067.4" y2="704.4"/>
<circle cx="1034.4" cy="704.4" r="1.8" stroke="none"/>
<line x1="992.0" y1="735.6" x2="1005.0" y2="735.6"/>
<line x1="1041.4" y1="735.6" x2="1055.7" y2="735.6"/>
<circle cx="1021.4" cy="735.6" r="1.8" stroke="none"/>
</g>
</g>
<rect x="988.3" y="757.0" width="118.7" height="143.0" fill="#ffd20a" stroke="#2a2222" stroke-width="2.0"/>
<clipPath id="c36"><rect x="989.1" y="757.8" width="117.1" height="141.4"/></clipPath>
<g clip-path="url(#c36)">
<g fill="#262222">
<ellipse cx="1005.6" cy="775.8" rx="2.6" ry="3.3"/>
<ellipse cx="1032.9" cy="775.8" rx="2.6" ry="3.3"/>
<ellipse cx="1063.5" cy="775.8" rx="2.6" ry="3.3"/>
<ellipse cx="1090.8" cy="775.8" rx="2.6" ry="3.3"/>
<ellipse cx="1021.4" cy="808.8" rx="2.6" ry="3.3"/>
<ellipse cx="1048.7" cy="808.8" rx="2.6" ry="3.3"/>
<ellipse cx="1077.0" cy="808.8" rx="2.6" ry="3.3"/>
<ellipse cx="1007.6" cy="842.0" rx="2.6" ry="3.3"/>
<ellipse cx="1033.6" cy="842.0" rx="2.6" ry="3.3"/>
<ellipse cx="1065.6" cy="842.0" rx="2.6" ry="3.3"/>
<ellipse cx="1090.8" cy="842.0" rx="2.6" ry="3.3"/>
<ellipse cx="1021.4" cy="875.8" rx="2.6" ry="3.3"/>
<ellipse cx="1048.7" cy="875.8" rx="2.6" ry="3.3"/>
<ellipse cx="1077.0" cy="875.8" rx="2.6" ry="3.3"/>
</g>
<polyline points="1022.0,784.1 1020.9,783.2 1019.6,782.8 1018.4,782.9 1017.2,783.5 1016.2,784.6 1015.3,786.0 1014.7,787.8 1014.3,789.7 1014.2,791.7 1014.3,793.7 1014.7,795.5 1015.3,797.1 1016.0,798.3 1016.9,799.2 1017.8,799.7 1018.8,799.8 1019.7,799.5 1020.5,798.8 1021.2,797.8 1021.7,796.6 1022.1,795.2 1022.2,793.8 1022.2,792.4 1021.9,791.1 1021.5,790.0 1021.0,789.1 1020.4,788.5 1019.7,788.1 1019.0,788.1 1018.4,788.4 1017.8,788.9 1017.3,789.6 1016.9,790.4 1016.7,791.4 1016.6,792.4 1016.6,793.4 1016.8,794.3 1017.0,795.1 1017.3,795.7 1017.7,796.2 1018.1,796.5 1018.5,796.5 1018.9,796.4 1019.2,796.2 1019.5,795.8 1019.7,795.4 1019.8,794.9 1019.8,794.5" fill="none" stroke="#3a3232" stroke-width="1.2"/>
<polyline points="1075.2,784.1 1074.1,783.2 1072.8,782.8 1071.6,782.9 1070.4,783.5 1069.4,784.6 1068.5,786.0 1067.9,787.8 1067.5,789.7 1067.4,791.7 1067.5,793.7 1067.9,795.5 1068.5,797.1 1069.2,798.3 1070.1,799.2 1071.0,799.7 1072.0,799.8 1072.9,799.5 1073.7,798.8 1074.4,797.8 1074.9,796.6 1075.3,795.2 1075.4,793.8 1075.4,792.4 1075.1,791.1 1074.7,790.0 1074.2,789.1 1073.6,788.5 1072.9,788.1 1072.2,788.1 1071.6,788.4 1071.0,788.9 1070.5,789.6 1070.1,790.4 1069.9,791.4 1069.8,792.4 1069.8,793.4 1070.0,794.3 1070.2,795.1 1070.5,795.7 1070.9,796.2 1071.3,796.5 1071.7,796.5 1072.1,796.4 1072.4,796.2 1072.7,795.8 1072.9,795.4 1073.0,794.9 1073.0,794.5" fill="none" stroke="#3a3232" stroke-width="1.2"/>
<polyline points="1023.2,847.1 1022.1,846.2 1020.8,845.8 1019.6,845.9 1018.4,846.5 1017.4,847.6 1016.5,849.0 1015.9,850.8 1015.5,852.7 1015.4,854.7 1015.5,856.7 1015.9,858.5 1016.5,860.1 1017.2,861.3 1018.1,862.2 1019.0,862.7 1020.0,862.8 1020.9,862.5 1021.7,861.8 1022.4,860.8 1022.9,859.6 1023.3,858.2 1023.4,856.8 1023.4,855.4 1023.1,854.1 1022.7,853.0 1022.2,852.1 1021.6,851.5 1020.9,851.1 1020.2,851.1 1019.6,851.4 1019.0,851.9 1018.5,852.6 1018.1,853.4 1017.9,854.4 1017.8,855.4 1017.8,856.4 1018.0,857.3 1018.2,858.1 1018.5,858.7 1018.9,859.2 1019.3,859.5 1019.7,859.5 1020.1,859.4 1020.4,859.2 1020.7,858.8 1020.9,858.4 1021.0,857.9 1021.0,857.5" fill="none" stroke="#3a3232" stroke-width="1.2"/>
<polyline points="1076.2,847.1 1075.1,846.2 1073.8,845.8 1072.6,845.9 1071.4,846.5 1070.4,847.6 1069.5,849.0 1068.9,850.8 1068.5,852.7 1068.4,854.7 1068.5,856.7 1068.9,858.5 1069.5,860.1 1070.2,861.3 1071.1,862.2 1072.0,862.7 1073.0,862.8 1073.9,862.5 1074.7,861.8 1075.4,860.8 1075.9,859.6 1076.3,858.2 1076.4,856.8 1076.4,855.4 1076.1,854.1 1075.7,853.0 1075.2,852.1 1074.6,851.5 1073.9,851.1 1073.2,851.1 1072.6,851.4 1072.0,851.9 1071.5,852.6 1071.1,853.4 1070.9,854.4 1070.8,855.4 1070.8,856.4 1071.0,857.3 1071.2,858.1 1071.5,858.7 1071.9,859.2 1072.3,859.5 1072.7,859.5 1073.1,859.4 1073.4,859.2 1073.7,858.8 1073.9,858.4 1074.0,857.9 1074.0,857.5" fill="none" stroke="#3a3232" stroke-width="1.2"/>
</g>
<rect x="988.3" y="900.0" width="39.4" height="58.2" fill="#fb9a62" stroke="#3a3636" stroke-width="1.6"/>
<clipPath id="c37"><rect x="989.1" y="900.8" width="37.8" height="56.6"/></clipPath>
<g clip-path="url(#c37)">
<g stroke="#262222" stroke-width="1.8" fill="#262222">
<line x1="990.0" y1="929.0" x2="1003.8" y2="929.0"/>
<line x1="1014.0" y1="929.0" x2="1027.7" y2="929.0"/>
</g>
</g>
<rect x="988.3" y="958.2" width="118.7" height="25.4" fill="#ffd20a" stroke="#2a2222" stroke-width="2.2"/>
<clipPath id="c38"><rect x="989.1" y="959.0" width="117.1" height="23.8"/></clipPath>
<g clip-path="url(#c38)">
<g fill="#262222">
<ellipse cx="1008.4" cy="972.0" rx="2.7" ry="4.2"/>
<ellipse cx="1035.0" cy="972.0" rx="2.7" ry="4.2"/>
<ellipse cx="1061.0" cy="972.0" rx="2.7" ry="4.2"/>
<ellipse cx="1087.4" cy="972.0" rx="2.7" ry="4.2"/>
</g>
</g>
<rect x="988.3" y="983.6" width="79.7" height="126.1" fill="#767676" stroke="#3a3636" stroke-width="1.6"/>
<clipPath id="c39"><rect x="989.1" y="984.4" width="78.1" height="124.5"/></clipPath>
<g clip-path="url(#c39)">
<g stroke="#262222" stroke-width="1.8" fill="#262222">
<line x1="1001.0" y1="999.4" x2="1015.6" y2="999.4"/>
<line x1="1053.0" y1="999.4" x2="1067.5" y2="999.4"/>
<circle cx="1035.0" cy="999.4" r="1.8" stroke="none"/>
<line x1="988.0" y1="1031.8" x2="1002.6" y2="1031.8"/>
<line x1="1040.0" y1="1031.8" x2="1058.0" y2="1031.8"/>
<circle cx="1021.0" cy="1031.8" r="1.8" stroke="none"/>
<line x1="1001.0" y1="1064.3" x2="1015.6" y2="1064.3"/>
<line x1="1053.0" y1="1064.3" x2="1067.5" y2="1064.3"/>
<circle cx="1035.0" cy="1064.3" r="1.8" stroke="none"/>
<line x1="988.0" y1="1096.8" x2="1002.6" y2="1096.8"/>
<line x1="1040.0" y1="1096.8" x2="1058.0" y2="1096.8"/>
<circle cx="1021.0" cy="1096.8" r="1.8" stroke="none"/>
</g>
</g>
<rect x="988.3" y="1109.7" width="40.3" height="55.3" fill="#767676" stroke="#3a3636" stroke-width="1.6"/>
<clipPath id="c40"><rect x="989.1" y="1110.5" width="38.7" height="53.7"/></clipPath>
<g clip-path="url(#c40)">
<g stroke="#262222" stroke-width="1.8" fill="#262222">
<line x1="1001.0" y1="1137.0" x2="1015.6" y2="1137.0"/>
</g>
</g>
<rect x="988.3" y="1165.0" width="118.7" height="142.8" fill="#b9b9b9" stroke="#3a3636" stroke-width="1.6"/>
<clipPath id="c41"><rect x="989.1" y="1165.8" width="117.1" height="141.2"/></clipPath>
<g clip-path="url(#c41)">
<g fill="#262222">
<ellipse cx="1007.5" cy="1191.0" rx="2.5" ry="3.0"/>
<ellipse cx="1035.0" cy="1191.0" rx="2.5" ry="3.0"/>
<ellipse cx="1065.0" cy="1191.0" rx="2.5" ry="3.0"/>
<ellipse cx="1092.5" cy="1191.0" rx="2.5" ry="3.0"/>
<ellipse cx="1022.7" cy="1224.4" rx="2.5" ry="3.0"/>
<ellipse cx="1050.3" cy="1224.4" rx="2.5" ry="3.0"/>
<ellipse cx="1078.0" cy="1224.4" rx="2.5" ry="3.0"/>
<ellipse cx="1009.0" cy="1256.5" rx="2.5" ry="3.0"/>
<ellipse cx="1035.0" cy="1256.5" rx="2.5" ry="3.0"/>
<ellipse cx="1067.5" cy="1256.5" rx="2.5" ry="3.0"/>
<ellipse cx="1092.5" cy="1256.5" rx="2.5" ry="3.0"/>
<ellipse cx="1022.7" cy="1290.6" rx="2.5" ry="3.0"/>
<ellipse cx="1050.3" cy="1290.6" rx="2.5" ry="3.0"/>
<ellipse cx="1078.0" cy="1290.6" rx="2.5" ry="3.0"/>
</g>
</g>
<line x1="988.3" y1="269.5" x2="988.3" y2="1309.3" stroke="#2a2626" stroke-width="3"/>
<path d="M986.8 1307.8 H1108.2" stroke="#2a2626" stroke-width="3.8" fill="none"/>
<line x1="1027.0" y1="1307.8" x2="1027.0" y2="1321.0" stroke="#2a2626" stroke-width="3.4"/>
<line x1="1066.6" y1="1307.8" x2="1066.6" y2="1321.0" stroke="#2a2626" stroke-width="3.4"/>
<line x1="1106.5" y1="1307.8" x2="1106.5" y2="1321.0" stroke="#2a2626" stroke-width="3.4"/>
<text x="1026.5" y="1362.0" fill="#2a2626" font-size="47" font-weight="normal" textLength="10.0" lengthAdjust="spacingAndGlyphs" text-anchor="middle" stroke="#2a2626" stroke-width="1.5" stroke-linejoin="round">C</text>
<text x="1066.1" y="1362.0" fill="#2a2626" font-size="47" font-weight="normal" textLength="19.5" lengthAdjust="spacingAndGlyphs" text-anchor="middle" stroke="#2a2626" stroke-width="1.5" stroke-linejoin="round">CS</text>
<text x="1106.0" y="1362.0" fill="#2a2626" font-size="47" font-weight="normal" textLength="17.5" lengthAdjust="spacingAndGlyphs" text-anchor="middle" stroke="#2a2626" stroke-width="1.5" stroke-linejoin="round">FS</text>
<line x1="987" y1="645" x2="1108" y2="645" stroke="#e0202a" stroke-width="8.5" stroke-dasharray="20,12"/>
<line x1="987" y1="672" x2="1108" y2="672" stroke="#e0202a" stroke-width="8.5" stroke-dasharray="20,12"/>
<rect x="1285.0" y="164.5" width="86.0" height="97.0" fill="#d9a22e" stroke="#3a3636" stroke-width="1.6"/>
<clipPath id="c42"><rect x="1286.0" y="165.5" width="84.0" height="95.0"/></clipPath>
<g clip-path="url(#c42)">
<g fill="#262222"><ellipse cx="1287.7" cy="175.0" rx="1.9" ry="1.9"/><ellipse cx="1306.7" cy="175.0" rx="1.9" ry="1.9"/><ellipse cx="1325.7" cy="175.0" rx="1.9" ry="1.9"/><ellipse cx="1344.7" cy="175.0" rx="1.9" ry="1.9"/><ellipse cx="1363.7" cy="175.0" rx="1.9" ry="1.9"/><ellipse cx="1297.2" cy="200.0" rx="1.9" ry="1.9"/><ellipse cx="1316.2" cy="200.0" rx="1.9" ry="1.9"/><ellipse cx="1335.2" cy="200.0" rx="1.9" ry="1.9"/><ellipse cx="1354.2" cy="200.0" rx="1.9" ry="1.9"/><ellipse cx="1287.7" cy="225.0" rx="1.9" ry="1.9"/><ellipse cx="1306.7" cy="225.0" rx="1.9" ry="1.9"/><ellipse cx="1325.7" cy="225.0" rx="1.9" ry="1.9"/><ellipse cx="1344.7" cy="225.0" rx="1.9" ry="1.9"/><ellipse cx="1363.7" cy="225.0" rx="1.9" ry="1.9"/><ellipse cx="1297.2" cy="250.0" rx="1.9" ry="1.9"/><ellipse cx="1316.2" cy="250.0" rx="1.9" ry="1.9"/><ellipse cx="1335.2" cy="250.0" rx="1.9" ry="1.9"/><ellipse cx="1354.2" cy="250.0" rx="1.9" ry="1.9"/></g>
</g>
<rect x="1285.0" y="261.5" width="57.0" height="45.5" fill="#d9a22e" stroke="#3a3636" stroke-width="1.6"/>
<clipPath id="c43"><rect x="1286.0" y="262.5" width="55.0" height="43.5"/></clipPath>
<g clip-path="url(#c43)">
<g stroke="#262222" stroke-width="1.6" fill="#262222"><line x1="1294.1" y1="285.5" x2="1305.5" y2="285.5"/><line x1="1324.9" y1="285.5" x2="1337.4" y2="285.5"/><circle cx="1315.2" cy="285.5" r="1.8" stroke="none"/></g>
</g>
<rect x="1285.0" y="307.0" width="113.7" height="53.5" fill="#808080" stroke="#3a3636" stroke-width="1.6"/>
<clipPath id="c44"><rect x="1286.0" y="308.0" width="111.7" height="51.5"/></clipPath>
<g clip-path="url(#c44)">
<g fill="#262222"><ellipse cx="1298.6" cy="316.0" rx="2.4" ry="2.9"/><ellipse cx="1327.1" cy="316.0" rx="2.4" ry="2.9"/><ellipse cx="1355.6" cy="316.0" rx="2.4" ry="2.9"/><ellipse cx="1384.1" cy="316.0" rx="2.4" ry="2.9"/><ellipse cx="1312.8" cy="348.7" rx="2.4" ry="2.9"/><ellipse cx="1341.3" cy="348.7" rx="2.4" ry="2.9"/><ellipse cx="1369.8" cy="348.7" rx="2.4" ry="2.9"/></g>
</g>
<rect x="1285.0" y="360.5" width="57.0" height="39.0" fill="#808080" stroke="#3a3636" stroke-width="1.6"/>
<clipPath id="c45"><rect x="1286.0" y="361.5" width="55.0" height="37.0"/></clipPath>
<g clip-path="url(#c45)">
<g stroke="#262222" stroke-width="1.6" fill="#262222"><line x1="1294.1" y1="379.5" x2="1305.5" y2="379.5"/><line x1="1324.9" y1="379.5" x2="1337.4" y2="379.5"/><circle cx="1315.2" cy="379.5" r="1.8" stroke="none"/></g>
</g>
<rect x="1285.0" y="399.5" width="113.7" height="135.2" fill="#808080" stroke="#3a3636" stroke-width="1.6"/>
<clipPath id="c46"><rect x="1286.0" y="400.5" width="111.7" height="133.2"/></clipPath>
<g clip-path="url(#c46)">
<g fill="#262222"><ellipse cx="1296.0" cy="418.8" rx="2.4" ry="2.9"/><ellipse cx="1324.5" cy="418.8" rx="2.4" ry="2.9"/><ellipse cx="1353.0" cy="418.8" rx="2.4" ry="2.9"/><ellipse cx="1381.5" cy="418.8" rx="2.4" ry="2.9"/><ellipse cx="1310.2" cy="450.8" rx="2.4" ry="2.9"/><ellipse cx="1338.8" cy="450.8" rx="2.4" ry="2.9"/><ellipse cx="1367.2" cy="450.8" rx="2.4" ry="2.9"/><ellipse cx="1296.0" cy="482.8" rx="2.4" ry="2.9"/><ellipse cx="1324.5" cy="482.8" rx="2.4" ry="2.9"/><ellipse cx="1353.0" cy="482.8" rx="2.4" ry="2.9"/><ellipse cx="1381.5" cy="482.8" rx="2.4" ry="2.9"/><ellipse cx="1310.2" cy="514.8" rx="2.4" ry="2.9"/><ellipse cx="1338.8" cy="514.8" rx="2.4" ry="2.9"/><ellipse cx="1367.2" cy="514.8" rx="2.4" ry="2.9"/></g>
</g>
<rect x="1285.0" y="534.7" width="85.0" height="96.3" fill="#808080" stroke="#3a3636" stroke-width="1.6"/>
<clipPath id="c47"><rect x="1286.0" y="535.7" width="83.0" height="94.3"/></clipPath>
<g clip-path="url(#c47)">
<g fill="#262222"><ellipse cx="1292.0" cy="542.7" rx="1.9" ry="1.9"/><ellipse cx="1311.0" cy="542.7" rx="1.9" ry="1.9"/><ellipse cx="1330.0" cy="542.7" rx="1.9" ry="1.9"/><ellipse cx="1349.0" cy="542.7" rx="1.9" ry="1.9"/><ellipse cx="1368.0" cy="542.7" rx="1.9" ry="1.9"/><ellipse cx="1301.5" cy="569.7" rx="1.9" ry="1.9"/><ellipse cx="1320.5" cy="569.7" rx="1.9" ry="1.9"/><ellipse cx="1339.5" cy="569.7" rx="1.9" ry="1.9"/><ellipse cx="1358.5" cy="569.7" rx="1.9" ry="1.9"/><ellipse cx="1292.0" cy="596.7" rx="1.9" ry="1.9"/><ellipse cx="1311.0" cy="596.7" rx="1.9" ry="1.9"/><ellipse cx="1330.0" cy="596.7" rx="1.9" ry="1.9"/><ellipse cx="1349.0" cy="596.7" rx="1.9" ry="1.9"/><ellipse cx="1368.0" cy="596.7" rx="1.9" ry="1.9"/><ellipse cx="1301.5" cy="623.7" rx="1.9" ry="1.9"/><ellipse cx="1320.5" cy="623.7" rx="1.9" ry="1.9"/><ellipse cx="1339.5" cy="623.7" rx="1.9" ry="1.9"/><ellipse cx="1358.5" cy="623.7" rx="1.9" ry="1.9"/></g>
</g>
<rect x="1285.0" y="631.0" width="85.0" height="51.0" fill="#414141" stroke="#3a3636" stroke-width="1.6"/>
<clipPath id="c48"><rect x="1286.0" y="632.0" width="83.0" height="49.0"/></clipPath>
<g clip-path="url(#c48)">
<g fill="#2a2a2a"><ellipse cx="1292.0" cy="641.0" rx="1.9" ry="1.9"/><ellipse cx="1311.0" cy="641.0" rx="1.9" ry="1.9"/><ellipse cx="1330.0" cy="641.0" rx="1.9" ry="1.9"/><ellipse cx="1349.0" cy="641.0" rx="1.9" ry="1.9"/><ellipse cx="1368.0" cy="641.0" rx="1.9" ry="1.9"/><ellipse cx="1301.5" cy="668.0" rx="1.9" ry="1.9"/><ellipse cx="1320.5" cy="668.0" rx="1.9" ry="1.9"/><ellipse cx="1339.5" cy="668.0" rx="1.9" ry="1.9"/><ellipse cx="1358.5" cy="668.0" rx="1.9" ry="1.9"/></g>
</g>
<rect x="1285.0" y="682.0" width="57.0" height="49.0" fill="#d9a22e" stroke="#3a3636" stroke-width="1.6"/>
<clipPath id="c49"><rect x="1286.0" y="683.0" width="55.0" height="47.0"/></clipPath>
<g clip-path="url(#c49)">
<g stroke="#262222" stroke-width="1.6" fill="#262222"><line x1="1294.1" y1="708.0" x2="1305.5" y2="708.0"/><line x1="1324.9" y1="708.0" x2="1337.4" y2="708.0"/><circle cx="1315.2" cy="708.0" r="1.8" stroke="none"/></g>
</g>
<rect x="1285.0" y="731.0" width="113.7" height="144.5" fill="#808080" stroke="#3a3636" stroke-width="1.6"/>
<clipPath id="c50"><rect x="1286.0" y="732.0" width="111.7" height="142.5"/></clipPath>
<g clip-path="url(#c50)">
<g fill="#262222"><ellipse cx="1300.0" cy="753.0" rx="2.4" ry="2.9"/><ellipse cx="1329.0" cy="753.0" rx="2.4" ry="2.9"/><ellipse cx="1358.0" cy="753.0" rx="2.4" ry="2.9"/><ellipse cx="1387.0" cy="753.0" rx="2.4" ry="2.9"/><ellipse cx="1314.5" cy="785.0" rx="2.4" ry="2.9"/><ellipse cx="1343.5" cy="785.0" rx="2.4" ry="2.9"/><ellipse cx="1372.5" cy="785.0" rx="2.4" ry="2.9"/><ellipse cx="1300.0" cy="817.0" rx="2.4" ry="2.9"/><ellipse cx="1329.0" cy="817.0" rx="2.4" ry="2.9"/><ellipse cx="1358.0" cy="817.0" rx="2.4" ry="2.9"/><ellipse cx="1387.0" cy="817.0" rx="2.4" ry="2.9"/><ellipse cx="1314.5" cy="849.0" rx="2.4" ry="2.9"/><ellipse cx="1343.5" cy="849.0" rx="2.4" ry="2.9"/><ellipse cx="1372.5" cy="849.0" rx="2.4" ry="2.9"/></g>
</g>
<rect x="1285.0" y="875.5" width="57.0" height="47.5" fill="#767676" stroke="#3a3636" stroke-width="1.6"/>
<clipPath id="c51"><rect x="1286.0" y="876.5" width="55.0" height="45.5"/></clipPath>
<g clip-path="url(#c51)">
<g stroke="#262222" stroke-width="1.6" fill="#262222"><line x1="1294.1" y1="887.5" x2="1305.5" y2="887.5"/><line x1="1324.9" y1="887.5" x2="1337.4" y2="887.5"/><circle cx="1315.2" cy="887.5" r="1.8" stroke="none"/><line x1="1307.8" y1="910.5" x2="1320.3" y2="910.5"/><circle cx="1296.4" cy="910.5" r="1.8" stroke="none"/><circle cx="1332.9" cy="910.5" r="1.8" stroke="none"/></g>
</g>
<rect x="1285.0" y="923.0" width="34.5" height="68.0" fill="#fb9a62" stroke="#3a3636" stroke-width="1.6"/>
<clipPath id="c52"><rect x="1286.0" y="924.0" width="32.5" height="66.0"/></clipPath>
<g clip-path="url(#c52)">
<g stroke="#262222" stroke-width="1.6" fill="#262222"><line x1="1290.5" y1="945.0" x2="1297.4" y2="945.0"/><line x1="1309.2" y1="945.0" x2="1316.7" y2="945.0"/><line x1="1298.8" y1="973.0" x2="1306.4" y2="973.0"/></g>
</g>
<rect x="1285.0" y="991.0" width="57.0" height="60.0" fill="#b9b9b9" stroke="#3a3636" stroke-width="1.6"/>
<clipPath id="c53"><rect x="1286.0" y="992.0" width="55.0" height="58.0"/></clipPath>
<g clip-path="url(#c53)">
<g stroke="#262222" stroke-width="1.6" fill="#262222"><line x1="1294.1" y1="1007.0" x2="1305.5" y2="1007.0"/><line x1="1324.9" y1="1007.0" x2="1337.4" y2="1007.0"/><circle cx="1315.2" cy="1007.0" r="1.8" stroke="none"/><line x1="1307.8" y1="1034.0" x2="1320.3" y2="1034.0"/><circle cx="1296.4" cy="1034.0" r="1.8" stroke="none"/><circle cx="1332.9" cy="1034.0" r="1.8" stroke="none"/></g>
</g>
<rect x="1285.0" y="1051.0" width="86.0" height="70.0" fill="#717171" stroke="#3a3636" stroke-width="1.6"/>
<clipPath id="c54"><rect x="1286.0" y="1052.0" width="84.0" height="68.0"/></clipPath>
<g clip-path="url(#c54)">
<g fill="#262222"><ellipse cx="1292.0" cy="1070.0" rx="1.9" ry="1.9"/><ellipse cx="1311.0" cy="1070.0" rx="1.9" ry="1.9"/><ellipse cx="1330.0" cy="1070.0" rx="1.9" ry="1.9"/><ellipse cx="1349.0" cy="1070.0" rx="1.9" ry="1.9"/><ellipse cx="1368.0" cy="1070.0" rx="1.9" ry="1.9"/><ellipse cx="1301.5" cy="1097.0" rx="1.9" ry="1.9"/><ellipse cx="1320.5" cy="1097.0" rx="1.9" ry="1.9"/><ellipse cx="1339.5" cy="1097.0" rx="1.9" ry="1.9"/><ellipse cx="1358.5" cy="1097.0" rx="1.9" ry="1.9"/></g>
</g>
<rect x="1285.0" y="1121.0" width="57.0" height="177.0" fill="#717171" stroke="#3a3636" stroke-width="1.6"/>
<clipPath id="c55"><rect x="1286.0" y="1122.0" width="55.0" height="175.0"/></clipPath>
<g clip-path="url(#c55)">
<g stroke="#262222" stroke-width="1.6" fill="#262222"><line x1="1294.1" y1="1144.0" x2="1305.5" y2="1144.0"/><line x1="1324.9" y1="1144.0" x2="1337.4" y2="1144.0"/><circle cx="1315.2" cy="1144.0" r="1.8" stroke="none"/><line x1="1307.8" y1="1176.5" x2="1320.3" y2="1176.5"/><circle cx="1296.4" cy="1176.5" r="1.8" stroke="none"/><circle cx="1332.9" cy="1176.5" r="1.8" stroke="none"/><line x1="1294.1" y1="1209.0" x2="1305.5" y2="1209.0"/><line x1="1324.9" y1="1209.0" x2="1337.4" y2="1209.0"/><circle cx="1315.2" cy="1209.0" r="1.8" stroke="none"/><line x1="1307.8" y1="1241.5" x2="1320.3" y2="1241.5"/><circle cx="1296.4" cy="1241.5" r="1.8" stroke="none"/><circle cx="1332.9" cy="1241.5" r="1.8" stroke="none"/><line x1="1294.1" y1="1274.0" x2="1305.5" y2="1274.0"/><line x1="1324.9" y1="1274.0" x2="1337.4" y2="1274.0"/><circle cx="1315.2" cy="1274.0" r="1.8" stroke="none"/></g>
</g>
<line x1="1285.0" y1="164.5" x2="1285.0" y2="1299.5" stroke="#2a2626" stroke-width="3"/>
<path d="M1283.5 1298.0 H1401.4" stroke="#2a2626" stroke-width="3.8" fill="none"/>
<line x1="1313.0" y1="1298.0" x2="1313.0" y2="1314.0" stroke="#2a2626" stroke-width="3.4"/>
<line x1="1342.9" y1="1298.0" x2="1342.9" y2="1314.0" stroke="#2a2626" stroke-width="3.4"/>
<line x1="1372.0" y1="1298.0" x2="1372.0" y2="1314.0" stroke="#2a2626" stroke-width="3.4"/>
<line x1="1399.7" y1="1298.0" x2="1399.7" y2="1314.0" stroke="#2a2626" stroke-width="3.4"/>
<text x="1312.5" y="1355.0" fill="#2a2626" font-size="47" font-weight="normal" textLength="10.0" lengthAdjust="spacingAndGlyphs" text-anchor="middle" stroke="#2a2626" stroke-width="1.5" stroke-linejoin="round">C</text>
<text x="1342.4" y="1355.0" fill="#2a2626" font-size="47" font-weight="normal" textLength="19.5" lengthAdjust="spacingAndGlyphs" text-anchor="middle" stroke="#2a2626" stroke-width="1.5" stroke-linejoin="round">CS</text>
<text x="1371.5" y="1355.0" fill="#2a2626" font-size="47" font-weight="normal" textLength="10.0" lengthAdjust="spacingAndGlyphs" text-anchor="middle" stroke="#2a2626" stroke-width="1.5" stroke-linejoin="round">S</text>
<text x="1399.2" y="1355.0" fill="#2a2626" font-size="47" font-weight="normal" textLength="17.5" lengthAdjust="spacingAndGlyphs" text-anchor="middle" stroke="#2a2626" stroke-width="1.5" stroke-linejoin="round">FS</text>
<rect x="1584.0" y="391.0" width="73.8" height="279.0" fill="#808080" stroke="#3a3636" stroke-width="1.6"/>
<clipPath id="c56"><rect x="1585.0" y="392.0" width="71.8" height="277.0"/></clipPath>
<g clip-path="url(#c56)">
<g fill="#262222"><ellipse cx="1591.0" cy="404.0" rx="1.9" ry="1.9"/><ellipse cx="1610.0" cy="404.0" rx="1.9" ry="1.9"/><ellipse cx="1629.0" cy="404.0" rx="1.9" ry="1.9"/><ellipse cx="1648.0" cy="404.0" rx="1.9" ry="1.9"/><ellipse cx="1600.5" cy="430.0" rx="1.9" ry="1.9"/><ellipse cx="1619.5" cy="430.0" rx="1.9" ry="1.9"/><ellipse cx="1638.5" cy="430.0" rx="1.9" ry="1.9"/><ellipse cx="1657.5" cy="430.0" rx="1.9" ry="1.9"/><ellipse cx="1591.0" cy="456.0" rx="1.9" ry="1.9"/><ellipse cx="1610.0" cy="456.0" rx="1.9" ry="1.9"/><ellipse cx="1629.0" cy="456.0" rx="1.9" ry="1.9"/><ellipse cx="1648.0" cy="456.0" rx="1.9" ry="1.9"/><ellipse cx="1600.5" cy="482.0" rx="1.9" ry="1.9"/><ellipse cx="1619.5" cy="482.0" rx="1.9" ry="1.9"/><ellipse cx="1638.5" cy="482.0" rx="1.9" ry="1.9"/><ellipse cx="1657.5" cy="482.0" rx="1.9" ry="1.9"/><ellipse cx="1591.0" cy="508.0" rx="1.9" ry="1.9"/><ellipse cx="1610.0" cy="508.0" rx="1.9" ry="1.9"/><ellipse cx="1629.0" cy="508.0" rx="1.9" ry="1.9"/><ellipse cx="1648.0" cy="508.0" rx="1.9" ry="1.9"/><ellipse cx="1600.5" cy="534.0" rx="1.9" ry="1.9"/><ellipse cx="1619.5" cy="534.0" rx="1.9" ry="1.9"/><ellipse cx="1638.5" cy="534.0" rx="1.9" ry="1.9"/><ellipse cx="1657.5" cy="534.0" rx="1.9" ry="1.9"/><ellipse cx="1591.0" cy="560.0" rx="1.9" ry="1.9"/><ellipse cx="1610.0" cy="560.0" rx="1.9" ry="1.9"/><ellipse cx="1629.0" cy="560.0" rx="1.9" ry="1.9"/><ellipse cx="1648.0" cy="560.0" rx="1.9" ry="1.9"/><ellipse cx="1600.5" cy="586.0" rx="1.9" ry="1.9"/><ellipse cx="1619.5" cy="586.0" rx="1.9" ry="1.9"/><ellipse cx="1638.5" cy="586.0" rx="1.9" ry="1.9"/><ellipse cx="1657.5" cy="586.0" rx="1.9" ry="1.9"/><ellipse cx="1591.0" cy="612.0" rx="1.9" ry="1.9"/><ellipse cx="1610.0" cy="612.0" rx="1.9" ry="1.9"/><ellipse cx="1629.0" cy="612.0" rx="1.9" ry="1.9"/><ellipse cx="1648.0" cy="612.0" rx="1.9" ry="1.9"/><ellipse cx="1600.5" cy="638.0" rx="1.9" ry="1.9"/><ellipse cx="1619.5" cy="638.0" rx="1.9" ry="1.9"/><ellipse cx="1638.5" cy="638.0" rx="1.9" ry="1.9"/><ellipse cx="1657.5" cy="638.0" rx="1.9" ry="1.9"/><ellipse cx="1591.0" cy="664.0" rx="1.9" ry="1.9"/><ellipse cx="1610.0" cy="664.0" rx="1.9" ry="1.9"/><ellipse cx="1629.0" cy="664.0" rx="1.9" ry="1.9"/><ellipse cx="1648.0" cy="664.0" rx="1.9" ry="1.9"/></g>
</g>
<rect x="1584.0" y="670.0" width="73.8" height="240.0" fill="#d9a22e" stroke="#3a3636" stroke-width="1.6"/>
<clipPath id="c57"><rect x="1585.0" y="671.0" width="71.8" height="238.0"/></clipPath>
<g clip-path="url(#c57)">
<g fill="#262222"><ellipse cx="1591.0" cy="678.0" rx="1.9" ry="1.9"/><ellipse cx="1610.0" cy="678.0" rx="1.9" ry="1.9"/><ellipse cx="1629.0" cy="678.0" rx="1.9" ry="1.9"/><ellipse cx="1648.0" cy="678.0" rx="1.9" ry="1.9"/><ellipse cx="1600.5" cy="705.0" rx="1.9" ry="1.9"/><ellipse cx="1619.5" cy="705.0" rx="1.9" ry="1.9"/><ellipse cx="1638.5" cy="705.0" rx="1.9" ry="1.9"/><ellipse cx="1657.5" cy="705.0" rx="1.9" ry="1.9"/><ellipse cx="1591.0" cy="732.0" rx="1.9" ry="1.9"/><ellipse cx="1610.0" cy="732.0" rx="1.9" ry="1.9"/><ellipse cx="1629.0" cy="732.0" rx="1.9" ry="1.9"/><ellipse cx="1648.0" cy="732.0" rx="1.9" ry="1.9"/><ellipse cx="1600.5" cy="759.0" rx="1.9" ry="1.9"/><ellipse cx="1619.5" cy="759.0" rx="1.9" ry="1.9"/><ellipse cx="1638.5" cy="759.0" rx="1.9" ry="1.9"/><ellipse cx="1657.5" cy="759.0" rx="1.9" ry="1.9"/><ellipse cx="1591.0" cy="786.0" rx="1.9" ry="1.9"/><ellipse cx="1610.0" cy="786.0" rx="1.9" ry="1.9"/><ellipse cx="1629.0" cy="786.0" rx="1.9" ry="1.9"/><ellipse cx="1648.0" cy="786.0" rx="1.9" ry="1.9"/><ellipse cx="1600.5" cy="813.0" rx="1.9" ry="1.9"/><ellipse cx="1619.5" cy="813.0" rx="1.9" ry="1.9"/><ellipse cx="1638.5" cy="813.0" rx="1.9" ry="1.9"/><ellipse cx="1657.5" cy="813.0" rx="1.9" ry="1.9"/><ellipse cx="1591.0" cy="840.0" rx="1.9" ry="1.9"/><ellipse cx="1610.0" cy="840.0" rx="1.9" ry="1.9"/><ellipse cx="1629.0" cy="840.0" rx="1.9" ry="1.9"/><ellipse cx="1648.0" cy="840.0" rx="1.9" ry="1.9"/><ellipse cx="1600.5" cy="867.0" rx="1.9" ry="1.9"/><ellipse cx="1619.5" cy="867.0" rx="1.9" ry="1.9"/><ellipse cx="1638.5" cy="867.0" rx="1.9" ry="1.9"/><ellipse cx="1657.5" cy="867.0" rx="1.9" ry="1.9"/><ellipse cx="1591.0" cy="894.0" rx="1.9" ry="1.9"/><ellipse cx="1610.0" cy="894.0" rx="1.9" ry="1.9"/><ellipse cx="1629.0" cy="894.0" rx="1.9" ry="1.9"/><ellipse cx="1648.0" cy="894.0" rx="1.9" ry="1.9"/></g>
</g>
<rect x="1584.0" y="910.0" width="57.0" height="97.0" fill="#d9a22e" stroke="#3a3636" stroke-width="1.6"/>
<clipPath id="c58"><rect x="1585.0" y="911.0" width="55.0" height="95.0"/></clipPath>
<g clip-path="url(#c58)">
<g stroke="#262222" stroke-width="1.6" fill="#262222"><line x1="1593.1" y1="929.0" x2="1604.5" y2="929.0"/><line x1="1623.9" y1="929.0" x2="1636.4" y2="929.0"/><circle cx="1614.2" cy="929.0" r="1.8" stroke="none"/><line x1="1606.8" y1="955.0" x2="1619.3" y2="955.0"/><circle cx="1595.4" cy="955.0" r="1.8" stroke="none"/><circle cx="1631.9" cy="955.0" r="1.8" stroke="none"/><line x1="1593.1" y1="981.0" x2="1604.5" y2="981.0"/><line x1="1623.9" y1="981.0" x2="1636.4" y2="981.0"/><circle cx="1614.2" cy="981.0" r="1.8" stroke="none"/></g>
</g>
<rect x="1584.0" y="1007.0" width="86.8" height="113.0" fill="#d9a22e" stroke="#3a3636" stroke-width="1.6"/>
<clipPath id="c59"><rect x="1585.0" y="1008.0" width="84.8" height="111.0"/></clipPath>
<g clip-path="url(#c59)">
<g fill="#262222"><ellipse cx="1586.0" cy="1020.0" rx="1.9" ry="1.9"/><ellipse cx="1605.0" cy="1020.0" rx="1.9" ry="1.9"/><ellipse cx="1624.0" cy="1020.0" rx="1.9" ry="1.9"/><ellipse cx="1643.0" cy="1020.0" rx="1.9" ry="1.9"/><ellipse cx="1662.0" cy="1020.0" rx="1.9" ry="1.9"/><ellipse cx="1595.5" cy="1047.0" rx="1.9" ry="1.9"/><ellipse cx="1614.5" cy="1047.0" rx="1.9" ry="1.9"/><ellipse cx="1633.5" cy="1047.0" rx="1.9" ry="1.9"/><ellipse cx="1652.5" cy="1047.0" rx="1.9" ry="1.9"/><ellipse cx="1671.5" cy="1047.0" rx="1.9" ry="1.9"/><ellipse cx="1586.0" cy="1074.0" rx="1.9" ry="1.9"/><ellipse cx="1605.0" cy="1074.0" rx="1.9" ry="1.9"/><ellipse cx="1624.0" cy="1074.0" rx="1.9" ry="1.9"/><ellipse cx="1643.0" cy="1074.0" rx="1.9" ry="1.9"/><ellipse cx="1662.0" cy="1074.0" rx="1.9" ry="1.9"/><ellipse cx="1595.5" cy="1101.0" rx="1.9" ry="1.9"/><ellipse cx="1614.5" cy="1101.0" rx="1.9" ry="1.9"/><ellipse cx="1633.5" cy="1101.0" rx="1.9" ry="1.9"/><ellipse cx="1652.5" cy="1101.0" rx="1.9" ry="1.9"/><ellipse cx="1671.5" cy="1101.0" rx="1.9" ry="1.9"/></g>
</g>
<rect x="1584.0" y="1120.0" width="86.8" height="111.5" fill="#767676" stroke="#3a3636" stroke-width="1.6"/>
<clipPath id="c60"><rect x="1585.0" y="1121.0" width="84.8" height="109.5"/></clipPath>
<g clip-path="url(#c60)">
<g fill="#262222"><ellipse cx="1586.0" cy="1133.0" rx="1.9" ry="1.9"/><ellipse cx="1605.0" cy="1133.0" rx="1.9" ry="1.9"/><ellipse cx="1624.0" cy="1133.0" rx="1.9" ry="1.9"/><ellipse cx="1643.0" cy="1133.0" rx="1.9" ry="1.9"/><ellipse cx="1662.0" cy="1133.0" rx="1.9" ry="1.9"/><ellipse cx="1595.5" cy="1160.0" rx="1.9" ry="1.9"/><ellipse cx="1614.5" cy="1160.0" rx="1.9" ry="1.9"/><ellipse cx="1633.5" cy="1160.0" rx="1.9" ry="1.9"/><ellipse cx="1652.5" cy="1160.0" rx="1.9" ry="1.9"/><ellipse cx="1671.5" cy="1160.0" rx="1.9" ry="1.9"/><ellipse cx="1586.0" cy="1187.0" rx="1.9" ry="1.9"/><ellipse cx="1605.0" cy="1187.0" rx="1.9" ry="1.9"/><ellipse cx="1624.0" cy="1187.0" rx="1.9" ry="1.9"/><ellipse cx="1643.0" cy="1187.0" rx="1.9" ry="1.9"/><ellipse cx="1662.0" cy="1187.0" rx="1.9" ry="1.9"/><ellipse cx="1595.5" cy="1214.0" rx="1.9" ry="1.9"/><ellipse cx="1614.5" cy="1214.0" rx="1.9" ry="1.9"/><ellipse cx="1633.5" cy="1214.0" rx="1.9" ry="1.9"/><ellipse cx="1652.5" cy="1214.0" rx="1.9" ry="1.9"/><ellipse cx="1671.5" cy="1214.0" rx="1.9" ry="1.9"/></g>
</g>
<line x1="1584.0" y1="391.0" x2="1584.0" y2="1233.0" stroke="#2a2626" stroke-width="3"/>
<path d="M1582.5 1231.5 H1700.7" stroke="#2a2626" stroke-width="3.8" fill="none"/>
<line x1="1612.0" y1="1231.5" x2="1612.0" y2="1251.0" stroke="#2a2626" stroke-width="3.4"/>
<line x1="1641.0" y1="1231.5" x2="1641.0" y2="1251.0" stroke="#2a2626" stroke-width="3.4"/>
<line x1="1669.8" y1="1231.5" x2="1669.8" y2="1251.0" stroke="#2a2626" stroke-width="3.4"/>
<line x1="1699.0" y1="1231.5" x2="1699.0" y2="1251.0" stroke="#2a2626" stroke-width="3.4"/>
<text x="1611.5" y="1290.0" fill="#2a2626" font-size="47" font-weight="normal" textLength="10.0" lengthAdjust="spacingAndGlyphs" text-anchor="middle" stroke="#2a2626" stroke-width="1.5" stroke-linejoin="round">C</text>
<text x="1640.5" y="1290.0" fill="#2a2626" font-size="47" font-weight="normal" textLength="19.5" lengthAdjust="spacingAndGlyphs" text-anchor="middle" stroke="#2a2626" stroke-width="1.5" stroke-linejoin="round">CS</text>
<text x="1669.3" y="1290.0" fill="#2a2626" font-size="47" font-weight="normal" textLength="10.0" lengthAdjust="spacingAndGlyphs" text-anchor="middle" stroke="#2a2626" stroke-width="1.5" stroke-linejoin="round">S</text>
<text x="1698.5" y="1290.0" fill="#2a2626" font-size="47" font-weight="normal" textLength="17.5" lengthAdjust="spacingAndGlyphs" text-anchor="middle" stroke="#2a2626" stroke-width="1.5" stroke-linejoin="round">FS</text>
<rect x="1819.5" y="464.0" width="112.5" height="97.0" fill="#808080" stroke="#3a3636" stroke-width="1.6"/>
<clipPath id="c61"><rect x="1820.5" y="465.0" width="110.5" height="95.0"/></clipPath>
<g clip-path="url(#c61)">
<g fill="#262222"><ellipse cx="1833.5" cy="494.0" rx="2.4" ry="2.9"/><ellipse cx="1862.5" cy="494.0" rx="2.4" ry="2.9"/><ellipse cx="1891.5" cy="494.0" rx="2.4" ry="2.9"/><ellipse cx="1920.5" cy="494.0" rx="2.4" ry="2.9"/><ellipse cx="1848.0" cy="537.0" rx="2.4" ry="2.9"/><ellipse cx="1877.0" cy="537.0" rx="2.4" ry="2.9"/><ellipse cx="1906.0" cy="537.0" rx="2.4" ry="2.9"/></g>
</g>
<rect x="1819.5" y="561.0" width="83.9" height="93.5" fill="#808080" stroke="#3a3636" stroke-width="1.6"/>
<clipPath id="c62"><rect x="1820.5" y="562.0" width="81.9" height="91.5"/></clipPath>
<g clip-path="url(#c62)">
<g fill="#262222"><ellipse cx="1822.5" cy="582.0" rx="1.9" ry="1.9"/><ellipse cx="1841.5" cy="582.0" rx="1.9" ry="1.9"/><ellipse cx="1860.5" cy="582.0" rx="1.9" ry="1.9"/><ellipse cx="1879.5" cy="582.0" rx="1.9" ry="1.9"/><ellipse cx="1898.5" cy="582.0" rx="1.9" ry="1.9"/><ellipse cx="1832.0" cy="609.0" rx="1.9" ry="1.9"/><ellipse cx="1851.0" cy="609.0" rx="1.9" ry="1.9"/><ellipse cx="1870.0" cy="609.0" rx="1.9" ry="1.9"/><ellipse cx="1889.0" cy="609.0" rx="1.9" ry="1.9"/><ellipse cx="1822.5" cy="636.0" rx="1.9" ry="1.9"/><ellipse cx="1841.5" cy="636.0" rx="1.9" ry="1.9"/><ellipse cx="1860.5" cy="636.0" rx="1.9" ry="1.9"/><ellipse cx="1879.5" cy="636.0" rx="1.9" ry="1.9"/><ellipse cx="1898.5" cy="636.0" rx="1.9" ry="1.9"/></g>
</g>
<rect x="1819.5" y="654.5" width="54.5" height="35.1" fill="#808080" stroke="#3a3636" stroke-width="1.6"/>
<clipPath id="c63"><rect x="1820.5" y="655.5" width="52.5" height="33.1"/></clipPath>
<g clip-path="url(#c63)">
<g stroke="#262222" stroke-width="1.6" fill="#262222"><line x1="1828.2" y1="671.5" x2="1839.1" y2="671.5"/><line x1="1857.7" y1="671.5" x2="1869.6" y2="671.5"/><circle cx="1848.4" cy="671.5" r="1.8" stroke="none"/></g>
</g>
<rect x="1819.5" y="689.6" width="83.9" height="66.2" fill="#808080" stroke="#3a3636" stroke-width="1.6"/>
<clipPath id="c64"><rect x="1820.5" y="690.6" width="81.9" height="64.2"/></clipPath>
<g clip-path="url(#c64)">
<g fill="#262222"><ellipse cx="1827.5" cy="709.6" rx="1.9" ry="1.9"/><ellipse cx="1846.5" cy="709.6" rx="1.9" ry="1.9"/><ellipse cx="1865.5" cy="709.6" rx="1.9" ry="1.9"/><ellipse cx="1884.5" cy="709.6" rx="1.9" ry="1.9"/><ellipse cx="1903.5" cy="709.6" rx="1.9" ry="1.9"/><ellipse cx="1837.0" cy="742.6" rx="1.9" ry="1.9"/><ellipse cx="1856.0" cy="742.6" rx="1.9" ry="1.9"/><ellipse cx="1875.0" cy="742.6" rx="1.9" ry="1.9"/><ellipse cx="1894.0" cy="742.6" rx="1.9" ry="1.9"/></g>
</g>
<rect x="1819.5" y="755.8" width="83.9" height="32.2" fill="#414141" stroke="#3a3636" stroke-width="1.6"/>
<clipPath id="c65"><rect x="1820.5" y="756.8" width="81.9" height="30.2"/></clipPath>
<g clip-path="url(#c65)">
<g fill="#2a2a2a"><ellipse cx="1823.5" cy="773.8" rx="1.9" ry="1.9"/><ellipse cx="1842.5" cy="773.8" rx="1.9" ry="1.9"/><ellipse cx="1861.5" cy="773.8" rx="1.9" ry="1.9"/><ellipse cx="1880.5" cy="773.8" rx="1.9" ry="1.9"/><ellipse cx="1899.5" cy="773.8" rx="1.9" ry="1.9"/></g>
</g>
<rect x="1819.5" y="788.0" width="54.5" height="81.0" fill="#d9a22e" stroke="#3a3636" stroke-width="1.6"/>
<clipPath id="c66"><rect x="1820.5" y="789.0" width="52.5" height="79.0"/></clipPath>
<g clip-path="url(#c66)">
<g stroke="#262222" stroke-width="1.6" fill="#262222"><line x1="1828.2" y1="802.0" x2="1839.1" y2="802.0"/><line x1="1857.7" y1="802.0" x2="1869.6" y2="802.0"/><circle cx="1848.4" cy="802.0" r="1.8" stroke="none"/><line x1="1841.3" y1="825.0" x2="1853.3" y2="825.0"/><circle cx="1830.4" cy="825.0" r="1.8" stroke="none"/><circle cx="1865.3" cy="825.0" r="1.8" stroke="none"/><line x1="1828.2" y1="848.0" x2="1839.1" y2="848.0"/><line x1="1857.7" y1="848.0" x2="1869.6" y2="848.0"/><circle cx="1848.4" cy="848.0" r="1.8" stroke="none"/></g>
</g>
<rect x="1819.5" y="869.0" width="84.9" height="210.4" fill="#717171" stroke="#3a3636" stroke-width="1.6"/>
<clipPath id="c67"><rect x="1820.5" y="870.0" width="82.9" height="208.4"/></clipPath>
<g clip-path="url(#c67)">
<g fill="#262222"><ellipse cx="1823.5" cy="882.0" rx="1.9" ry="1.9"/><ellipse cx="1842.5" cy="882.0" rx="1.9" ry="1.9"/><ellipse cx="1861.5" cy="882.0" rx="1.9" ry="1.9"/><ellipse cx="1880.5" cy="882.0" rx="1.9" ry="1.9"/><ellipse cx="1899.5" cy="882.0" rx="1.9" ry="1.9"/><ellipse cx="1833.0" cy="909.0" rx="1.9" ry="1.9"/><ellipse cx="1852.0" cy="909.0" rx="1.9" ry="1.9"/><ellipse cx="1871.0" cy="909.0" rx="1.9" ry="1.9"/><ellipse cx="1890.0" cy="909.0" rx="1.9" ry="1.9"/><ellipse cx="1823.5" cy="936.0" rx="1.9" ry="1.9"/><ellipse cx="1842.5" cy="936.0" rx="1.9" ry="1.9"/><ellipse cx="1861.5" cy="936.0" rx="1.9" ry="1.9"/><ellipse cx="1880.5" cy="936.0" rx="1.9" ry="1.9"/><ellipse cx="1899.5" cy="936.0" rx="1.9" ry="1.9"/><ellipse cx="1833.0" cy="963.0" rx="1.9" ry="1.9"/><ellipse cx="1852.0" cy="963.0" rx="1.9" ry="1.9"/><ellipse cx="1871.0" cy="963.0" rx="1.9" ry="1.9"/><ellipse cx="1890.0" cy="963.0" rx="1.9" ry="1.9"/><ellipse cx="1823.5" cy="990.0" rx="1.9" ry="1.9"/><ellipse cx="1842.5" cy="990.0" rx="1.9" ry="1.9"/><ellipse cx="1861.5" cy="990.0" rx="1.9" ry="1.9"/><ellipse cx="1880.5" cy="990.0" rx="1.9" ry="1.9"/><ellipse cx="1899.5" cy="990.0" rx="1.9" ry="1.9"/><ellipse cx="1833.0" cy="1017.0" rx="1.9" ry="1.9"/><ellipse cx="1852.0" cy="1017.0" rx="1.9" ry="1.9"/><ellipse cx="1871.0" cy="1017.0" rx="1.9" ry="1.9"/><ellipse cx="1890.0" cy="1017.0" rx="1.9" ry="1.9"/><ellipse cx="1823.5" cy="1044.0" rx="1.9" ry="1.9"/><ellipse cx="1842.5" cy="1044.0" rx="1.9" ry="1.9"/><ellipse cx="1861.5" cy="1044.0" rx="1.9" ry="1.9"/><ellipse cx="1880.5" cy="1044.0" rx="1.9" ry="1.9"/><ellipse cx="1899.5" cy="1044.0" rx="1.9" ry="1.9"/><ellipse cx="1833.0" cy="1071.0" rx="1.9" ry="1.9"/><ellipse cx="1852.0" cy="1071.0" rx="1.9" ry="1.9"/><ellipse cx="1871.0" cy="1071.0" rx="1.9" ry="1.9"/><ellipse cx="1890.0" cy="1071.0" rx="1.9" ry="1.9"/></g>
</g>
<rect x="1819.5" y="1079.4" width="57.1" height="30.6" fill="#fb9a62" stroke="#3a3636" stroke-width="1.6"/>
<clipPath id="c68"><rect x="1820.5" y="1080.4" width="55.1" height="28.6"/></clipPath>
<g clip-path="url(#c68)">
<g stroke="#262222" stroke-width="1.6" fill="#262222"><line x1="1828.6" y1="1096.4" x2="1840.1" y2="1096.4"/><line x1="1859.5" y1="1096.4" x2="1872.0" y2="1096.4"/><circle cx="1849.8" cy="1096.4" r="1.8" stroke="none"/></g>
</g>
<rect x="1819.5" y="1110.0" width="83.5" height="131.0" fill="#b9b9b9" stroke="#3a3636" stroke-width="1.6"/>
<clipPath id="c69"><rect x="1820.5" y="1111.0" width="81.5" height="129.0"/></clipPath>
<g clip-path="url(#c69)">
<g fill="#262222"><ellipse cx="1823.5" cy="1120.0" rx="1.9" ry="1.9"/><ellipse cx="1842.5" cy="1120.0" rx="1.9" ry="1.9"/><ellipse cx="1861.5" cy="1120.0" rx="1.9" ry="1.9"/><ellipse cx="1880.5" cy="1120.0" rx="1.9" ry="1.9"/><ellipse cx="1899.5" cy="1120.0" rx="1.9" ry="1.9"/><ellipse cx="1833.0" cy="1148.0" rx="1.9" ry="1.9"/><ellipse cx="1852.0" cy="1148.0" rx="1.9" ry="1.9"/><ellipse cx="1871.0" cy="1148.0" rx="1.9" ry="1.9"/><ellipse cx="1890.0" cy="1148.0" rx="1.9" ry="1.9"/><ellipse cx="1823.5" cy="1176.0" rx="1.9" ry="1.9"/><ellipse cx="1842.5" cy="1176.0" rx="1.9" ry="1.9"/><ellipse cx="1861.5" cy="1176.0" rx="1.9" ry="1.9"/><ellipse cx="1880.5" cy="1176.0" rx="1.9" ry="1.9"/><ellipse cx="1899.5" cy="1176.0" rx="1.9" ry="1.9"/><ellipse cx="1833.0" cy="1204.0" rx="1.9" ry="1.9"/><ellipse cx="1852.0" cy="1204.0" rx="1.9" ry="1.9"/><ellipse cx="1871.0" cy="1204.0" rx="1.9" ry="1.9"/><ellipse cx="1890.0" cy="1204.0" rx="1.9" ry="1.9"/><ellipse cx="1823.5" cy="1232.0" rx="1.9" ry="1.9"/><ellipse cx="1842.5" cy="1232.0" rx="1.9" ry="1.9"/><ellipse cx="1861.5" cy="1232.0" rx="1.9" ry="1.9"/><ellipse cx="1880.5" cy="1232.0" rx="1.9" ry="1.9"/><ellipse cx="1899.5" cy="1232.0" rx="1.9" ry="1.9"/></g>
</g>
<line x1="1819.5" y1="464.0" x2="1819.5" y2="1242.5" stroke="#2a2626" stroke-width="3"/>
<path d="M1818.0 1241.0 H1932.7" stroke="#2a2626" stroke-width="3.8" fill="none"/>
<line x1="1845.7" y1="1241.0" x2="1845.7" y2="1257.0" stroke="#2a2626" stroke-width="3.4"/>
<line x1="1874.9" y1="1241.0" x2="1874.9" y2="1257.0" stroke="#2a2626" stroke-width="3.4"/>
<line x1="1902.9" y1="1241.0" x2="1902.9" y2="1257.0" stroke="#2a2626" stroke-width="3.4"/>
<line x1="1931.0" y1="1241.0" x2="1931.0" y2="1257.0" stroke="#2a2626" stroke-width="3.4"/>
<text x="1845.2" y="1294.0" fill="#2a2626" font-size="47" font-weight="normal" textLength="10.0" lengthAdjust="spacingAndGlyphs" text-anchor="middle" stroke="#2a2626" stroke-width="1.5" stroke-linejoin="round">C</text>
<text x="1874.4" y="1294.0" fill="#2a2626" font-size="47" font-weight="normal" textLength="19.5" lengthAdjust="spacingAndGlyphs" text-anchor="middle" stroke="#2a2626" stroke-width="1.5" stroke-linejoin="round">CS</text>
<text x="1902.4" y="1294.0" fill="#2a2626" font-size="47" font-weight="normal" textLength="10.0" lengthAdjust="spacingAndGlyphs" text-anchor="middle" stroke="#2a2626" stroke-width="1.5" stroke-linejoin="round">S</text>
<text x="1930.5" y="1294.0" fill="#2a2626" font-size="47" font-weight="normal" textLength="17.5" lengthAdjust="spacingAndGlyphs" text-anchor="middle" stroke="#2a2626" stroke-width="1.5" stroke-linejoin="round">FS</text>
<polyline points="133,565.5 222,566 383,447 441,447 679,539 797,539 988,643" fill="none" stroke="#2b2622" stroke-width="5" stroke-dasharray="13,8"/>
<polyline points="1108,652 1285,684 1371,685 1584,670.5 1658,670.5 1819,789 1903,790" fill="none" stroke="#2b2622" stroke-width="5" stroke-dasharray="13,8"/>
<text x="234.0" y="333.0" fill="#e8202e" font-size="46" stroke="#e8202e" stroke-width="1.3" stroke-linejoin="round" textLength="41.0" lengthAdjust="spacingAndGlyphs">4.3</text>
<text transform="translate(287.5,330.5) scale(0.70,1)" fill="#e8202e" font-size="53" text-anchor="middle">±</text>
<text x="300.0" y="333.0" fill="#e8202e" font-size="46" stroke="#e8202e" stroke-width="1.3" stroke-linejoin="round" textLength="41.0" lengthAdjust="spacingAndGlyphs">0.1</text>
<text x="232.0" y="414.0" fill="#e8202e" font-size="46" stroke="#e8202e" stroke-width="1.3" stroke-linejoin="round" textLength="41.0" lengthAdjust="spacingAndGlyphs">7.8</text>
<text transform="translate(285.5,411.5) scale(0.70,1)" fill="#e8202e" font-size="53" text-anchor="middle">±</text>
<text x="298.0" y="414.0" fill="#e8202e" font-size="46" stroke="#e8202e" stroke-width="1.3" stroke-linejoin="round" textLength="41.0" lengthAdjust="spacingAndGlyphs">0.4</text>
<text x="243.5" y="591.6" fill="#e8202e" font-size="46" stroke="#e8202e" stroke-width="1.3" stroke-linejoin="round" textLength="41.5" lengthAdjust="spacingAndGlyphs">8.4</text>
<text transform="translate(297.5,589.1) scale(0.70,1)" fill="#e8202e" font-size="53" text-anchor="middle">±</text>
<text x="310.0" y="591.6" fill="#e8202e" font-size="46" stroke="#e8202e" stroke-width="1.3" stroke-linejoin="round" textLength="41.5" lengthAdjust="spacingAndGlyphs">0.2</text>
<text x="514.6" y="203.0" fill="#169fe2" font-size="46" stroke="#169fe2" stroke-width="1.3" stroke-linejoin="round" textLength="41.0" lengthAdjust="spacingAndGlyphs">2.1</text>
<text transform="translate(568.1,200.5) scale(0.70,1)" fill="#169fe2" font-size="53" text-anchor="middle">±</text>
<text x="580.6" y="203.0" fill="#169fe2" font-size="46" stroke="#169fe2" stroke-width="1.3" stroke-linejoin="round" textLength="41.0" lengthAdjust="spacingAndGlyphs">0.2</text>
<text x="516.0" y="394.5" fill="#e8202e" font-size="46" stroke="#e8202e" stroke-width="1.3" stroke-linejoin="round" textLength="41.1" lengthAdjust="spacingAndGlyphs">8.2</text>
<text transform="translate(569.6,392.0) scale(0.70,1)" fill="#e8202e" font-size="53" text-anchor="middle">±</text>
<text x="582.1" y="394.5" fill="#e8202e" font-size="46" stroke="#e8202e" stroke-width="1.3" stroke-linejoin="round" textLength="57.5" lengthAdjust="spacingAndGlyphs">0.05</text>
<text x="514.6" y="443.0" fill="#169fe2" font-size="46" stroke="#169fe2" stroke-width="1.3" stroke-linejoin="round" textLength="40.5" lengthAdjust="spacingAndGlyphs">9.7</text>
<text transform="translate(567.6,440.5) scale(0.70,1)" fill="#169fe2" font-size="53" text-anchor="middle">±</text>
<text x="580.1" y="443.0" fill="#169fe2" font-size="46" stroke="#169fe2" stroke-width="1.3" stroke-linejoin="round" textLength="40.5" lengthAdjust="spacingAndGlyphs">0.8</text>
<text x="513.0" y="507.0" fill="#e8202e" font-size="46" stroke="#e8202e" stroke-width="1.3" stroke-linejoin="round" textLength="32.0" lengthAdjust="spacingAndGlyphs">47</text>
<text transform="translate(557.5,504.5) scale(0.70,1)" fill="#e8202e" font-size="53" text-anchor="middle">±</text>
<text x="570.0" y="507.0" fill="#e8202e" font-size="46" stroke="#e8202e" stroke-width="1.3" stroke-linejoin="round" textLength="16.0" lengthAdjust="spacingAndGlyphs">2</text>
<text x="513.0" y="552.6" fill="#e8202e" font-size="46" stroke="#e8202e" stroke-width="1.3" stroke-linejoin="round" textLength="30.0" lengthAdjust="spacingAndGlyphs">43</text>
<text transform="translate(555.5,550.1) scale(0.70,1)" fill="#e8202e" font-size="53" text-anchor="middle">±</text>
<text x="568.0" y="552.6" fill="#e8202e" font-size="46" stroke="#e8202e" stroke-width="1.3" stroke-linejoin="round" textLength="15.0" lengthAdjust="spacingAndGlyphs">1</text>
<text x="513.0" y="595.0" fill="#169fe2" font-size="46" stroke="#169fe2" stroke-width="1.3" stroke-linejoin="round" textLength="32.0" lengthAdjust="spacingAndGlyphs">23</text>
<text transform="translate(557.5,592.5) scale(0.70,1)" fill="#169fe2" font-size="53" text-anchor="middle">±</text>
<text x="570.0" y="595.0" fill="#169fe2" font-size="46" stroke="#169fe2" stroke-width="1.3" stroke-linejoin="round" textLength="16.0" lengthAdjust="spacingAndGlyphs">2</text>
<text x="513.0" y="640.0" fill="#169fe2" font-size="46" stroke="#169fe2" stroke-width="1.3" stroke-linejoin="round" textLength="32.0" lengthAdjust="spacingAndGlyphs">47</text>
<text transform="translate(557.5,637.5) scale(0.70,1)" fill="#169fe2" font-size="53" text-anchor="middle">±</text>
<text x="570.0" y="640.0" fill="#169fe2" font-size="46" stroke="#169fe2" stroke-width="1.3" stroke-linejoin="round" textLength="16.0" lengthAdjust="spacingAndGlyphs">5</text>
<text x="513.0" y="685.7" fill="#e8202e" font-size="46" stroke="#e8202e" stroke-width="1.3" stroke-linejoin="round" textLength="30.7" lengthAdjust="spacingAndGlyphs">44</text>
<text transform="translate(556.2,683.2) scale(0.70,1)" fill="#e8202e" font-size="53" text-anchor="middle">±</text>
<text x="568.7" y="685.7" fill="#e8202e" font-size="46" stroke="#e8202e" stroke-width="1.3" stroke-linejoin="round" textLength="15.3" lengthAdjust="spacingAndGlyphs">1</text>
<text x="513.0" y="731.0" fill="#169fe2" font-size="46" stroke="#169fe2" stroke-width="1.3" stroke-linejoin="round" textLength="30.7" lengthAdjust="spacingAndGlyphs">70</text>
<text transform="translate(556.2,728.5) scale(0.70,1)" fill="#169fe2" font-size="53" text-anchor="middle">±</text>
<text x="568.7" y="731.0" fill="#169fe2" font-size="46" stroke="#169fe2" stroke-width="1.3" stroke-linejoin="round" textLength="15.3" lengthAdjust="spacingAndGlyphs">7</text>
<text x="513.0" y="793.0" fill="#169fe2" font-size="46" stroke="#169fe2" stroke-width="1.3" stroke-linejoin="round" textLength="32.0" lengthAdjust="spacingAndGlyphs">62</text>
<text transform="translate(557.5,790.5) scale(0.70,1)" fill="#169fe2" font-size="53" text-anchor="middle">±</text>
<text x="570.0" y="793.0" fill="#169fe2" font-size="46" stroke="#169fe2" stroke-width="1.3" stroke-linejoin="round" textLength="32.0" lengthAdjust="spacingAndGlyphs">12</text>
<text x="513.0" y="843.0" fill="#169fe2" font-size="46" stroke="#169fe2" stroke-width="1.3" stroke-linejoin="round" textLength="30.7" lengthAdjust="spacingAndGlyphs">74</text>
<text transform="translate(556.2,840.5) scale(0.70,1)" fill="#169fe2" font-size="53" text-anchor="middle">±</text>
<text x="568.7" y="843.0" fill="#169fe2" font-size="46" stroke="#169fe2" stroke-width="1.3" stroke-linejoin="round" textLength="15.3" lengthAdjust="spacingAndGlyphs">7</text>
<text x="513.0" y="916.6" fill="#169fe2" font-size="46" stroke="#169fe2" stroke-width="1.3" stroke-linejoin="round" textLength="48.3" lengthAdjust="spacingAndGlyphs">100</text>
<text transform="translate(573.8,914.1) scale(0.70,1)" fill="#169fe2" font-size="53" text-anchor="middle">±</text>
<text x="586.3" y="916.6" fill="#169fe2" font-size="46" stroke="#169fe2" stroke-width="1.3" stroke-linejoin="round" textLength="32.2" lengthAdjust="spacingAndGlyphs">10</text>
<text x="809.4" y="346.0" fill="#169fe2" font-size="46" stroke="#169fe2" stroke-width="1.3" stroke-linejoin="round" textLength="41.0" lengthAdjust="spacingAndGlyphs">6.2</text>
<text transform="translate(862.9,343.5) scale(0.70,1)" fill="#169fe2" font-size="53" text-anchor="middle">±</text>
<text x="875.4" y="346.0" fill="#169fe2" font-size="46" stroke="#169fe2" stroke-width="1.3" stroke-linejoin="round" textLength="41.0" lengthAdjust="spacingAndGlyphs">0.4</text>
<text x="809.4" y="389.6" fill="#169fe2" font-size="46" stroke="#169fe2" stroke-width="1.3" stroke-linejoin="round" textLength="41.0" lengthAdjust="spacingAndGlyphs">6.9</text>
<text transform="translate(862.9,387.1) scale(0.70,1)" fill="#169fe2" font-size="53" text-anchor="middle">±</text>
<text x="875.4" y="389.6" fill="#169fe2" font-size="46" stroke="#169fe2" stroke-width="1.3" stroke-linejoin="round" textLength="41.0" lengthAdjust="spacingAndGlyphs">0.5</text>
<text x="807.8" y="449.0" fill="#169fe2" font-size="46" stroke="#169fe2" stroke-width="1.3" stroke-linejoin="round" textLength="57.2" lengthAdjust="spacingAndGlyphs">10.9</text>
<text transform="translate(877.5,446.5) scale(0.70,1)" fill="#169fe2" font-size="53" text-anchor="middle">±</text>
<text x="890.0" y="449.0" fill="#169fe2" font-size="46" stroke="#169fe2" stroke-width="1.3" stroke-linejoin="round" textLength="40.8" lengthAdjust="spacingAndGlyphs">0.8</text>
<text x="807.8" y="495.5" fill="#169fe2" font-size="46" stroke="#169fe2" stroke-width="1.3" stroke-linejoin="round" textLength="57.2" lengthAdjust="spacingAndGlyphs">10.5</text>
<text transform="translate(877.5,493.0) scale(0.70,1)" fill="#169fe2" font-size="53" text-anchor="middle">±</text>
<text x="890.0" y="495.5" fill="#169fe2" font-size="46" stroke="#169fe2" stroke-width="1.3" stroke-linejoin="round" textLength="40.8" lengthAdjust="spacingAndGlyphs">0.8</text>
<text x="807.8" y="549.0" fill="#169fe2" font-size="46" stroke="#169fe2" stroke-width="1.3" stroke-linejoin="round" textLength="57.2" lengthAdjust="spacingAndGlyphs">10.4</text>
<text transform="translate(877.5,546.5) scale(0.70,1)" fill="#169fe2" font-size="53" text-anchor="middle">±</text>
<text x="890.0" y="549.0" fill="#169fe2" font-size="46" stroke="#169fe2" stroke-width="1.3" stroke-linejoin="round" textLength="40.8" lengthAdjust="spacingAndGlyphs">0.6</text>
<text x="811.0" y="587.7" fill="#169fe2" font-size="46" stroke="#169fe2" stroke-width="1.3" stroke-linejoin="round" textLength="55.4" lengthAdjust="spacingAndGlyphs">19.8</text>
<text transform="translate(878.9,585.2) scale(0.70,1)" fill="#169fe2" font-size="53" text-anchor="middle">±</text>
<text x="891.4" y="587.7" fill="#169fe2" font-size="46" stroke="#169fe2" stroke-width="1.3" stroke-linejoin="round" textLength="39.6" lengthAdjust="spacingAndGlyphs">1.2</text>
<text x="809.4" y="629.0" fill="#169fe2" font-size="46" stroke="#169fe2" stroke-width="1.3" stroke-linejoin="round" textLength="60.0" lengthAdjust="spacingAndGlyphs">&gt;100</text>
<text x="809.4" y="666.5" fill="#169fe2" font-size="46" stroke="#169fe2" stroke-width="1.3" stroke-linejoin="round" textLength="64.0" lengthAdjust="spacingAndGlyphs">&gt;100</text>
<text x="809.4" y="705.5" fill="#169fe2" font-size="46" stroke="#169fe2" stroke-width="1.3" stroke-linejoin="round" textLength="64.0" lengthAdjust="spacingAndGlyphs">&gt;100</text>
<text x="809.4" y="746.8" fill="#169fe2" font-size="46" stroke="#169fe2" stroke-width="1.3" stroke-linejoin="round" textLength="64.0" lengthAdjust="spacingAndGlyphs">&gt;100</text>
<text x="1127.6" y="370.0" fill="#169fe2" font-size="46" stroke="#169fe2" stroke-width="1.3" stroke-linejoin="round" textLength="40.2" lengthAdjust="spacingAndGlyphs">1.6</text>
<text transform="translate(1180.3,367.5) scale(0.70,1)" fill="#169fe2" font-size="53" text-anchor="middle">±</text>
<text x="1192.8" y="370.0" fill="#169fe2" font-size="46" stroke="#169fe2" stroke-width="1.3" stroke-linejoin="round" textLength="40.2" lengthAdjust="spacingAndGlyphs">0.1</text>
<text x="1127.6" y="407.5" fill="#169fe2" font-size="46" stroke="#169fe2" stroke-width="1.3" stroke-linejoin="round" textLength="40.2" lengthAdjust="spacingAndGlyphs">1.3</text>
<text transform="translate(1180.3,405.0) scale(0.70,1)" fill="#169fe2" font-size="53" text-anchor="middle">±</text>
<text x="1192.8" y="407.5" fill="#169fe2" font-size="46" stroke="#169fe2" stroke-width="1.3" stroke-linejoin="round" textLength="40.2" lengthAdjust="spacingAndGlyphs">0.1</text>
<text x="1127.6" y="454.0" fill="#169fe2" font-size="46" stroke="#169fe2" stroke-width="1.3" stroke-linejoin="round" textLength="41.0" lengthAdjust="spacingAndGlyphs">3.2</text>
<text transform="translate(1181.1,451.5) scale(0.70,1)" fill="#169fe2" font-size="53" text-anchor="middle">±</text>
<text x="1193.6" y="454.0" fill="#169fe2" font-size="46" stroke="#169fe2" stroke-width="1.3" stroke-linejoin="round" textLength="41.0" lengthAdjust="spacingAndGlyphs">0.2</text>
<text x="1127.6" y="504.0" fill="#169fe2" font-size="46" stroke="#169fe2" stroke-width="1.3" stroke-linejoin="round" textLength="41.0" lengthAdjust="spacingAndGlyphs">6.7</text>
<text transform="translate(1181.1,501.5) scale(0.70,1)" fill="#169fe2" font-size="53" text-anchor="middle">±</text>
<text x="1193.6" y="504.0" fill="#169fe2" font-size="46" stroke="#169fe2" stroke-width="1.3" stroke-linejoin="round" textLength="41.0" lengthAdjust="spacingAndGlyphs">0.5</text>
<text x="1127.6" y="561.4" fill="#169fe2" font-size="46" stroke="#169fe2" stroke-width="1.3" stroke-linejoin="round" textLength="41.8" lengthAdjust="spacingAndGlyphs">8.6</text>
<text transform="translate(1181.8,558.9) scale(0.70,1)" fill="#169fe2" font-size="53" text-anchor="middle">±</text>
<text x="1194.3" y="561.4" fill="#169fe2" font-size="46" stroke="#169fe2" stroke-width="1.3" stroke-linejoin="round" textLength="41.8" lengthAdjust="spacingAndGlyphs">0.6</text>
<text x="1127.6" y="606.8" fill="#169fe2" font-size="46" stroke="#169fe2" stroke-width="1.3" stroke-linejoin="round" textLength="43.5" lengthAdjust="spacingAndGlyphs">9.5</text>
<text transform="translate(1183.6,604.3) scale(0.70,1)" fill="#169fe2" font-size="53" text-anchor="middle">±</text>
<text x="1196.1" y="606.8" fill="#169fe2" font-size="46" stroke="#169fe2" stroke-width="1.3" stroke-linejoin="round" textLength="43.5" lengthAdjust="spacingAndGlyphs">0.6</text>
<text x="1130.0" y="651.6" fill="#169fe2" font-size="46" stroke="#169fe2" stroke-width="1.3" stroke-linejoin="round" textLength="33.0" lengthAdjust="spacingAndGlyphs">37</text>
<text transform="translate(1175.5,649.1) scale(0.70,1)" fill="#169fe2" font-size="53" text-anchor="middle">±</text>
<text x="1188.0" y="651.6" fill="#169fe2" font-size="46" stroke="#169fe2" stroke-width="1.3" stroke-linejoin="round" textLength="16.5" lengthAdjust="spacingAndGlyphs">2</text>
<text x="1130.0" y="695.5" fill="#169fe2" font-size="46" stroke="#169fe2" stroke-width="1.3" stroke-linejoin="round" textLength="30.4" lengthAdjust="spacingAndGlyphs">71</text>
<text transform="translate(1172.9,693.0) scale(0.70,1)" fill="#169fe2" font-size="53" text-anchor="middle">±</text>
<text x="1185.4" y="695.5" fill="#169fe2" font-size="46" stroke="#169fe2" stroke-width="1.3" stroke-linejoin="round" textLength="15.2" lengthAdjust="spacingAndGlyphs">5</text>
<text x="1130.0" y="737.7" fill="#169fe2" font-size="46" stroke="#169fe2" stroke-width="1.3" stroke-linejoin="round" textLength="30.4" lengthAdjust="spacingAndGlyphs">72</text>
<text transform="translate(1172.9,735.2) scale(0.70,1)" fill="#169fe2" font-size="53" text-anchor="middle">±</text>
<text x="1185.4" y="737.7" fill="#169fe2" font-size="46" stroke="#169fe2" stroke-width="1.3" stroke-linejoin="round" textLength="15.2" lengthAdjust="spacingAndGlyphs">5</text>
<text x="1130.0" y="781.5" fill="#169fe2" font-size="46" stroke="#169fe2" stroke-width="1.3" stroke-linejoin="round" textLength="31.0" lengthAdjust="spacingAndGlyphs">78</text>
<text transform="translate(1173.5,779.0) scale(0.70,1)" fill="#169fe2" font-size="53" text-anchor="middle">±</text>
<text x="1186.0" y="781.5" fill="#169fe2" font-size="46" stroke="#169fe2" stroke-width="1.3" stroke-linejoin="round" textLength="31.0" lengthAdjust="spacingAndGlyphs">10</text>
<text x="1130.0" y="827.0" fill="#169fe2" font-size="46" stroke="#169fe2" stroke-width="1.3" stroke-linejoin="round" textLength="30.7" lengthAdjust="spacingAndGlyphs">96</text>
<text transform="translate(1173.2,824.5) scale(0.70,1)" fill="#169fe2" font-size="53" text-anchor="middle">±</text>
<text x="1185.7" y="827.0" fill="#169fe2" font-size="46" stroke="#169fe2" stroke-width="1.3" stroke-linejoin="round" textLength="15.3" lengthAdjust="spacingAndGlyphs">9</text>
<text x="1126.0" y="867.5" fill="#169fe2" font-size="46" stroke="#169fe2" stroke-width="1.3" stroke-linejoin="round" textLength="62.6" lengthAdjust="spacingAndGlyphs">&gt;170</text>
<text transform="translate(1201.1,865.0) scale(0.70,1)" fill="#169fe2" font-size="53" text-anchor="middle">±</text>
<text x="1213.6" y="867.5" fill="#169fe2" font-size="46" stroke="#169fe2" stroke-width="1.3" stroke-linejoin="round" textLength="30.9" lengthAdjust="spacingAndGlyphs">11</text>
<text x="1126.0" y="907.8" fill="#169fe2" font-size="46" stroke="#169fe2" stroke-width="1.3" stroke-linejoin="round" textLength="62.6" lengthAdjust="spacingAndGlyphs">&gt;109</text>
<text transform="translate(1201.1,905.3) scale(0.70,1)" fill="#169fe2" font-size="53" text-anchor="middle">±</text>
<text x="1213.6" y="907.8" fill="#169fe2" font-size="46" stroke="#169fe2" stroke-width="1.3" stroke-linejoin="round" textLength="30.9" lengthAdjust="spacingAndGlyphs">11</text>
<text x="1127.6" y="1033.4" fill="#169fe2" font-size="46" stroke="#169fe2" stroke-width="1.3" stroke-linejoin="round" textLength="65.3" lengthAdjust="spacingAndGlyphs">&gt;118</text>
<text transform="translate(1205.4,1030.9) scale(0.70,1)" fill="#169fe2" font-size="53" text-anchor="middle">±</text>
<text x="1217.9" y="1033.4" fill="#169fe2" font-size="46" stroke="#169fe2" stroke-width="1.3" stroke-linejoin="round" textLength="32.2" lengthAdjust="spacingAndGlyphs">12</text>
<text x="1127.6" y="1126.0" fill="#169fe2" font-size="46" stroke="#169fe2" stroke-width="1.3" stroke-linejoin="round" textLength="65.3" lengthAdjust="spacingAndGlyphs">&gt;133</text>
<text transform="translate(1205.4,1123.5) scale(0.70,1)" fill="#169fe2" font-size="53" text-anchor="middle">±</text>
<text x="1217.9" y="1126.0" fill="#169fe2" font-size="46" stroke="#169fe2" stroke-width="1.3" stroke-linejoin="round" textLength="32.2" lengthAdjust="spacingAndGlyphs">29</text>
<text x="1127.6" y="1199.0" fill="#169fe2" font-size="46" stroke="#169fe2" stroke-width="1.3" stroke-linejoin="round" textLength="65.3" lengthAdjust="spacingAndGlyphs">&gt;217</text>
<text transform="translate(1205.4,1196.5) scale(0.70,1)" fill="#169fe2" font-size="53" text-anchor="middle">±</text>
<text x="1217.9" y="1199.0" fill="#169fe2" font-size="46" stroke="#169fe2" stroke-width="1.3" stroke-linejoin="round" textLength="32.2" lengthAdjust="spacingAndGlyphs">19</text>
<text x="1417.0" y="352.0" fill="#169fe2" font-size="46" stroke="#169fe2" stroke-width="1.3" stroke-linejoin="round" textLength="40.5" lengthAdjust="spacingAndGlyphs">1.0</text>
<text transform="translate(1470.0,349.5) scale(0.70,1)" fill="#169fe2" font-size="53" text-anchor="middle">±</text>
<text x="1482.5" y="352.0" fill="#169fe2" font-size="46" stroke="#169fe2" stroke-width="1.3" stroke-linejoin="round" textLength="40.5" lengthAdjust="spacingAndGlyphs">0.1</text>
<text x="1417.0" y="391.0" fill="#e8202e" font-size="46" stroke="#e8202e" stroke-width="1.3" stroke-linejoin="round" textLength="40.5" lengthAdjust="spacingAndGlyphs">2.0</text>
<text transform="translate(1470.0,388.5) scale(0.70,1)" fill="#e8202e" font-size="53" text-anchor="middle">±</text>
<text x="1482.5" y="391.0" fill="#e8202e" font-size="46" stroke="#e8202e" stroke-width="1.3" stroke-linejoin="round" textLength="40.5" lengthAdjust="spacingAndGlyphs">0.1</text>
<text x="1417.0" y="431.8" fill="#169fe2" font-size="46" stroke="#169fe2" stroke-width="1.3" stroke-linejoin="round" textLength="41.4" lengthAdjust="spacingAndGlyphs">2.1</text>
<text transform="translate(1470.8,429.3) scale(0.70,1)" fill="#169fe2" font-size="53" text-anchor="middle">±</text>
<text x="1483.3" y="431.8" fill="#169fe2" font-size="46" stroke="#169fe2" stroke-width="1.3" stroke-linejoin="round" textLength="41.4" lengthAdjust="spacingAndGlyphs">0.2</text>
<text x="1419.0" y="538.0" fill="#169fe2" font-size="46" stroke="#169fe2" stroke-width="1.3" stroke-linejoin="round" textLength="41.5" lengthAdjust="spacingAndGlyphs">4.3</text>
<text transform="translate(1473.0,535.5) scale(0.70,1)" fill="#169fe2" font-size="53" text-anchor="middle">±</text>
<text x="1485.5" y="538.0" fill="#169fe2" font-size="46" stroke="#169fe2" stroke-width="1.3" stroke-linejoin="round" textLength="41.5" lengthAdjust="spacingAndGlyphs">0.3</text>
<text x="1417.0" y="583.4" fill="#e8202e" font-size="46" stroke="#e8202e" stroke-width="1.3" stroke-linejoin="round" textLength="40.5" lengthAdjust="spacingAndGlyphs">4.1</text>
<text transform="translate(1470.0,580.9) scale(0.70,1)" fill="#e8202e" font-size="53" text-anchor="middle">±</text>
<text x="1482.5" y="583.4" fill="#e8202e" font-size="46" stroke="#e8202e" stroke-width="1.3" stroke-linejoin="round" textLength="40.5" lengthAdjust="spacingAndGlyphs">0.1</text>
<text x="1414.0" y="627.0" fill="#169fe2" font-size="46" stroke="#169fe2" stroke-width="1.3" stroke-linejoin="round" textLength="42.0" lengthAdjust="spacingAndGlyphs">9.3</text>
<text transform="translate(1468.5,624.5) scale(0.70,1)" fill="#169fe2" font-size="53" text-anchor="middle">±</text>
<text x="1481.0" y="627.0" fill="#169fe2" font-size="46" stroke="#169fe2" stroke-width="1.3" stroke-linejoin="round" textLength="42.0" lengthAdjust="spacingAndGlyphs">0.8</text>
<text x="1414.0" y="676.0" fill="#e8202e" font-size="46" stroke="#e8202e" stroke-width="1.3" stroke-linejoin="round" textLength="40.5" lengthAdjust="spacingAndGlyphs">5.2</text>
<text transform="translate(1467.0,673.5) scale(0.70,1)" fill="#e8202e" font-size="53" text-anchor="middle">±</text>
<text x="1479.5" y="676.0" fill="#e8202e" font-size="46" stroke="#e8202e" stroke-width="1.3" stroke-linejoin="round" textLength="40.5" lengthAdjust="spacingAndGlyphs">0.1</text>
<text x="1414.0" y="716.0" fill="#169fe2" font-size="46" stroke="#169fe2" stroke-width="1.3" stroke-linejoin="round" textLength="40.5" lengthAdjust="spacingAndGlyphs">8.9</text>
<text transform="translate(1467.0,713.5) scale(0.70,1)" fill="#169fe2" font-size="53" text-anchor="middle">±</text>
<text x="1479.5" y="716.0" fill="#169fe2" font-size="46" stroke="#169fe2" stroke-width="1.3" stroke-linejoin="round" textLength="40.5" lengthAdjust="spacingAndGlyphs">0.7</text>
<text x="1419.0" y="783.0" fill="#169fe2" font-size="46" stroke="#169fe2" stroke-width="1.3" stroke-linejoin="round" textLength="29.3" lengthAdjust="spacingAndGlyphs">19</text>
<text transform="translate(1460.8,780.5) scale(0.70,1)" fill="#169fe2" font-size="53" text-anchor="middle">±</text>
<text x="1473.3" y="783.0" fill="#169fe2" font-size="46" stroke="#169fe2" stroke-width="1.3" stroke-linejoin="round" textLength="14.7" lengthAdjust="spacingAndGlyphs">2</text>
<text x="1416.0" y="861.0" fill="#169fe2" font-size="46" stroke="#169fe2" stroke-width="1.3" stroke-linejoin="round" textLength="32.4" lengthAdjust="spacingAndGlyphs">55</text>
<text transform="translate(1460.9,858.5) scale(0.70,1)" fill="#169fe2" font-size="53" text-anchor="middle">±</text>
<text x="1473.4" y="861.0" fill="#169fe2" font-size="46" stroke="#169fe2" stroke-width="1.3" stroke-linejoin="round" textLength="16.2" lengthAdjust="spacingAndGlyphs">5</text>
<text x="1419.0" y="911.0" fill="#169fe2" font-size="46" stroke="#169fe2" stroke-width="1.3" stroke-linejoin="round" textLength="31.1" lengthAdjust="spacingAndGlyphs">74</text>
<text transform="translate(1462.6,908.5) scale(0.70,1)" fill="#169fe2" font-size="53" text-anchor="middle">±</text>
<text x="1475.1" y="911.0" fill="#169fe2" font-size="46" stroke="#169fe2" stroke-width="1.3" stroke-linejoin="round" textLength="15.5" lengthAdjust="spacingAndGlyphs">6</text>
<text x="1346.8" y="945.8" fill="#e8202e" font-size="46" stroke="#e8202e" stroke-width="1.3" stroke-linejoin="round" textLength="49.0" lengthAdjust="spacingAndGlyphs">&gt;48</text>
<text x="1419.0" y="967.0" fill="#169fe2" font-size="46" stroke="#169fe2" stroke-width="1.3" stroke-linejoin="round" textLength="29.3" lengthAdjust="spacingAndGlyphs">75</text>
<text transform="translate(1460.8,964.5) scale(0.70,1)" fill="#169fe2" font-size="53" text-anchor="middle">±</text>
<text x="1473.3" y="967.0" fill="#169fe2" font-size="46" stroke="#169fe2" stroke-width="1.3" stroke-linejoin="round" textLength="14.7" lengthAdjust="spacingAndGlyphs">7</text>
<text x="1417.0" y="1016.0" fill="#169fe2" font-size="46" stroke="#169fe2" stroke-width="1.3" stroke-linejoin="round" textLength="31.7" lengthAdjust="spacingAndGlyphs">80</text>
<text transform="translate(1461.2,1013.5) scale(0.70,1)" fill="#169fe2" font-size="53" text-anchor="middle">±</text>
<text x="1473.7" y="1016.0" fill="#169fe2" font-size="46" stroke="#169fe2" stroke-width="1.3" stroke-linejoin="round" textLength="15.9" lengthAdjust="spacingAndGlyphs">9</text>
<text x="1346.8" y="1030.0" fill="#e8202e" font-size="46" stroke="#e8202e" stroke-width="1.3" stroke-linejoin="round" textLength="49.0" lengthAdjust="spacingAndGlyphs">&gt;48</text>
<text x="1417.0" y="1061.0" fill="#169fe2" font-size="46" stroke="#169fe2" stroke-width="1.3" stroke-linejoin="round" textLength="46.8" lengthAdjust="spacingAndGlyphs">125</text>
<text transform="translate(1476.3,1058.5) scale(0.70,1)" fill="#169fe2" font-size="53" text-anchor="middle">±</text>
<text x="1488.8" y="1061.0" fill="#169fe2" font-size="46" stroke="#169fe2" stroke-width="1.3" stroke-linejoin="round" textLength="31.2" lengthAdjust="spacingAndGlyphs">11</text>
<text x="1417.0" y="1122.7" fill="#169fe2" font-size="46" stroke="#169fe2" stroke-width="1.3" stroke-linejoin="round" textLength="47.6" lengthAdjust="spacingAndGlyphs">128</text>
<text transform="translate(1477.1,1120.2) scale(0.70,1)" fill="#169fe2" font-size="53" text-anchor="middle">±</text>
<text x="1489.6" y="1122.7" fill="#169fe2" font-size="46" stroke="#169fe2" stroke-width="1.3" stroke-linejoin="round" textLength="31.8" lengthAdjust="spacingAndGlyphs">12</text>
<text x="1669.0" y="436.0" fill="#e8202e" font-size="46" stroke="#e8202e" stroke-width="1.3" stroke-linejoin="round" textLength="41.0" lengthAdjust="spacingAndGlyphs">2.1</text>
<text transform="translate(1722.5,433.5) scale(0.70,1)" fill="#e8202e" font-size="53" text-anchor="middle">±</text>
<text x="1735.0" y="436.0" fill="#e8202e" font-size="46" stroke="#e8202e" stroke-width="1.3" stroke-linejoin="round" textLength="41.0" lengthAdjust="spacingAndGlyphs">0.2</text>
<text x="1669.0" y="520.8" fill="#e8202e" font-size="46" stroke="#e8202e" stroke-width="1.3" stroke-linejoin="round" textLength="41.0" lengthAdjust="spacingAndGlyphs">7.4</text>
<text transform="translate(1722.5,518.3) scale(0.70,1)" fill="#e8202e" font-size="53" text-anchor="middle">±</text>
<text x="1735.0" y="520.8" fill="#e8202e" font-size="46" stroke="#e8202e" stroke-width="1.3" stroke-linejoin="round" textLength="41.0" lengthAdjust="spacingAndGlyphs">0.3</text>
<text x="1669.0" y="775.6" fill="#e8202e" font-size="46" stroke="#e8202e" stroke-width="1.3" stroke-linejoin="round" textLength="31.1" lengthAdjust="spacingAndGlyphs">38</text>
<text transform="translate(1712.6,773.1) scale(0.70,1)" fill="#e8202e" font-size="53" text-anchor="middle">±</text>
<text x="1725.1" y="775.6" fill="#e8202e" font-size="46" stroke="#e8202e" stroke-width="1.3" stroke-linejoin="round" textLength="15.5" lengthAdjust="spacingAndGlyphs">2</text>
<text x="1683.8" y="1080.0" fill="#169fe2" font-size="46" stroke="#169fe2" stroke-width="1.3" stroke-linejoin="round" textLength="33.0" lengthAdjust="spacingAndGlyphs">99</text>
<text transform="translate(1729.3,1077.5) scale(0.70,1)" fill="#169fe2" font-size="53" text-anchor="middle">±</text>
<text x="1741.8" y="1080.0" fill="#169fe2" font-size="46" stroke="#169fe2" stroke-width="1.3" stroke-linejoin="round" textLength="33.0" lengthAdjust="spacingAndGlyphs">14</text>
<text x="1935.0" y="533.8" fill="#169fe2" font-size="46" stroke="#169fe2" stroke-width="1.3" stroke-linejoin="round" textLength="41.5" lengthAdjust="spacingAndGlyphs">0.4</text>
<text transform="translate(1989.0,531.3) scale(0.70,1)" fill="#169fe2" font-size="53" text-anchor="middle">±</text>
<text x="2001.5" y="533.8" fill="#169fe2" font-size="46" stroke="#169fe2" stroke-width="1.3" stroke-linejoin="round" textLength="41.5" lengthAdjust="spacingAndGlyphs">0.1</text>
<text x="1932.5" y="652.0" fill="#169fe2" font-size="46" stroke="#169fe2" stroke-width="1.3" stroke-linejoin="round" textLength="48.5" lengthAdjust="spacingAndGlyphs">2. 6</text>
<text transform="translate(1993.5,649.5) scale(0.70,1)" fill="#169fe2" font-size="53" text-anchor="middle">±</text>
<text x="2006.0" y="652.0" fill="#169fe2" font-size="46" stroke="#169fe2" stroke-width="1.3" stroke-linejoin="round" textLength="40.5" lengthAdjust="spacingAndGlyphs">0.2</text>
<text x="1932.5" y="697.4" fill="#e8202e" font-size="46" stroke="#e8202e" stroke-width="1.3" stroke-linejoin="round" textLength="39.5" lengthAdjust="spacingAndGlyphs">1.6</text>
<text transform="translate(1984.5,694.9) scale(0.70,1)" fill="#e8202e" font-size="53" text-anchor="middle">±</text>
<text x="1997.0" y="697.4" fill="#e8202e" font-size="46" stroke="#e8202e" stroke-width="1.3" stroke-linejoin="round" textLength="39.5" lengthAdjust="spacingAndGlyphs">0.1</text>
<text x="1932.5" y="737.7" fill="#169fe2" font-size="46" stroke="#169fe2" stroke-width="1.3" stroke-linejoin="round" textLength="48.3" lengthAdjust="spacingAndGlyphs">2. 0</text>
<text transform="translate(1993.3,735.2) scale(0.70,1)" fill="#169fe2" font-size="53" text-anchor="middle">±</text>
<text x="2005.8" y="737.7" fill="#169fe2" font-size="46" stroke="#169fe2" stroke-width="1.3" stroke-linejoin="round" textLength="40.2" lengthAdjust="spacingAndGlyphs">0.2</text>
<text x="1932.5" y="785.0" fill="#169fe2" font-size="46" stroke="#169fe2" stroke-width="1.3" stroke-linejoin="round" textLength="40.8" lengthAdjust="spacingAndGlyphs">9.7</text>
<text transform="translate(1985.8,782.5) scale(0.70,1)" fill="#169fe2" font-size="53" text-anchor="middle">±</text>
<text x="1998.2" y="785.0" fill="#169fe2" font-size="46" stroke="#169fe2" stroke-width="1.3" stroke-linejoin="round" textLength="40.8" lengthAdjust="spacingAndGlyphs">0.8</text>
<text x="1932.5" y="821.4" fill="#e8202e" font-size="46" stroke="#e8202e" stroke-width="1.3" stroke-linejoin="round" textLength="39.7" lengthAdjust="spacingAndGlyphs">5.5</text>
<text transform="translate(1984.7,818.9) scale(0.70,1)" fill="#e8202e" font-size="53" text-anchor="middle">±</text>
<text x="1997.2" y="821.4" fill="#e8202e" font-size="46" stroke="#e8202e" stroke-width="1.3" stroke-linejoin="round" textLength="39.7" lengthAdjust="spacingAndGlyphs">0.1</text>
<text x="1932.5" y="860.4" fill="#169fe2" font-size="46" stroke="#169fe2" stroke-width="1.3" stroke-linejoin="round" textLength="40.8" lengthAdjust="spacingAndGlyphs">9.7</text>
<text transform="translate(1985.8,857.9) scale(0.70,1)" fill="#169fe2" font-size="53" text-anchor="middle">±</text>
<text x="1998.2" y="860.4" fill="#169fe2" font-size="46" stroke="#169fe2" stroke-width="1.3" stroke-linejoin="round" textLength="40.8" lengthAdjust="spacingAndGlyphs">0.8</text>
<text x="1932.5" y="899.4" fill="#169fe2" font-size="46" stroke="#169fe2" stroke-width="1.3" stroke-linejoin="round" textLength="31.7" lengthAdjust="spacingAndGlyphs">60</text>
<text transform="translate(1976.7,896.9) scale(0.70,1)" fill="#169fe2" font-size="53" text-anchor="middle">±</text>
<text x="1989.2" y="899.4" fill="#169fe2" font-size="46" stroke="#169fe2" stroke-width="1.3" stroke-linejoin="round" textLength="15.8" lengthAdjust="spacingAndGlyphs">5</text>
<text x="1932.5" y="942.2" fill="#169fe2" font-size="46" stroke="#169fe2" stroke-width="1.3" stroke-linejoin="round" textLength="31.7" lengthAdjust="spacingAndGlyphs">47</text>
<text transform="translate(1976.7,939.7) scale(0.70,1)" fill="#169fe2" font-size="53" text-anchor="middle">±</text>
<text x="1989.2" y="942.2" fill="#169fe2" font-size="46" stroke="#169fe2" stroke-width="1.3" stroke-linejoin="round" textLength="15.8" lengthAdjust="spacingAndGlyphs">4</text>
<text x="1932.5" y="986.4" fill="#e8202e" font-size="46" stroke="#e8202e" stroke-width="1.3" stroke-linejoin="round" textLength="31.7" lengthAdjust="spacingAndGlyphs">46</text>
<text transform="translate(1976.7,983.9) scale(0.70,1)" fill="#e8202e" font-size="53" text-anchor="middle">±</text>
<text x="1989.2" y="986.4" fill="#e8202e" font-size="46" stroke="#e8202e" stroke-width="1.3" stroke-linejoin="round" textLength="15.8" lengthAdjust="spacingAndGlyphs">4</text>
<text x="1932.5" y="1029.0" fill="#169fe2" font-size="46" stroke="#169fe2" stroke-width="1.3" stroke-linejoin="round" textLength="31.7" lengthAdjust="spacingAndGlyphs">92</text>
<text transform="translate(1976.7,1026.5) scale(0.70,1)" fill="#169fe2" font-size="53" text-anchor="middle">±</text>
<text x="1989.2" y="1029.0" fill="#169fe2" font-size="46" stroke="#169fe2" stroke-width="1.3" stroke-linejoin="round" textLength="15.8" lengthAdjust="spacingAndGlyphs">9</text>
<text x="1932.5" y="1080.0" fill="#169fe2" font-size="46" stroke="#169fe2" stroke-width="1.3" stroke-linejoin="round" textLength="31.7" lengthAdjust="spacingAndGlyphs">70</text>
<text transform="translate(1976.7,1077.5) scale(0.70,1)" fill="#169fe2" font-size="53" text-anchor="middle">±</text>
<text x="1989.2" y="1080.0" fill="#169fe2" font-size="46" stroke="#169fe2" stroke-width="1.3" stroke-linejoin="round" textLength="15.8" lengthAdjust="spacingAndGlyphs">6</text>
<text x="1932.5" y="1147.0" fill="#169fe2" font-size="46" stroke="#169fe2" stroke-width="1.3" stroke-linejoin="round" textLength="47.1" lengthAdjust="spacingAndGlyphs">109</text>
<text transform="translate(1992.1,1144.5) scale(0.70,1)" fill="#169fe2" font-size="53" text-anchor="middle">±</text>
<text x="2004.6" y="1147.0" fill="#169fe2" font-size="46" stroke="#169fe2" stroke-width="1.3" stroke-linejoin="round" textLength="31.4" lengthAdjust="spacingAndGlyphs">12</text>
<text x="1933.0" y="1221.4" fill="#169fe2" font-size="46" stroke="#169fe2" stroke-width="1.3" stroke-linejoin="round" textLength="47.4" lengthAdjust="spacingAndGlyphs">123</text>
<text transform="translate(1992.9,1218.9) scale(0.70,1)" fill="#169fe2" font-size="53" text-anchor="middle">±</text>
<text x="2005.4" y="1221.4" fill="#169fe2" font-size="46" stroke="#169fe2" stroke-width="1.3" stroke-linejoin="round" textLength="31.6" lengthAdjust="spacingAndGlyphs">15</text>
<text x="1935.7" y="1255.7" fill="#e8202e" font-size="46" stroke="#e8202e" stroke-width="1.3" stroke-linejoin="round" textLength="49.3" lengthAdjust="spacingAndGlyphs">&gt;46</text>
<ellipse cx="220.0" cy="307.0" rx="4.0" ry="7.4" fill="#e8202e"/>
<ellipse cx="220.0" cy="396.0" rx="4.0" ry="7.4" fill="#e8202e"/>
<ellipse cx="220.0" cy="532.5" rx="4.0" ry="7.4" fill="#e8202e"/>
<ellipse cx="499.5" cy="180.0" rx="4.0" ry="7.4" fill="#169fe2"/>
<ellipse cx="442.5" cy="425.0" rx="4.0" ry="7.4" fill="#169fe2"/>
<ellipse cx="499.5" cy="554.0" rx="4.0" ry="7.4" fill="#e8202e"/>
<ellipse cx="499.5" cy="580.0" rx="4.0" ry="7.4" fill="#169fe2"/>
<ellipse cx="499.5" cy="605.0" rx="4.0" ry="7.4" fill="#169fe2"/>
<ellipse cx="499.5" cy="655.0" rx="4.0" ry="7.4" fill="#e8202e"/>
<ellipse cx="499.5" cy="710.0" rx="4.0" ry="7.4" fill="#169fe2"/>
<ellipse cx="471.0" cy="776.6" rx="4.0" ry="7.4" fill="#169fe2"/>
<ellipse cx="471.0" cy="804.0" rx="4.0" ry="7.4" fill="#169fe2"/>
<ellipse cx="441.5" cy="902.0" rx="4.0" ry="7.4" fill="#169fe2"/>
<ellipse cx="799.0" cy="352.0" rx="4.0" ry="7.4" fill="#169fe2"/>
<ellipse cx="799.0" cy="378.0" rx="4.0" ry="7.4" fill="#169fe2"/>
<ellipse cx="799.0" cy="486.0" rx="4.0" ry="7.4" fill="#169fe2"/>
<ellipse cx="799.0" cy="512.0" rx="4.0" ry="7.4" fill="#169fe2"/>
<ellipse cx="725.0" cy="548.7" rx="4.0" ry="7.4" fill="#169fe2"/>
<ellipse cx="725.0" cy="568.8" rx="4.0" ry="7.4" fill="#169fe2"/>
<ellipse cx="725.0" cy="599.7" rx="4.0" ry="7.4" fill="#169fe2"/>
<ellipse cx="741.0" cy="620.8" rx="4.0" ry="7.4" fill="#169fe2"/>
<ellipse cx="771.4" cy="695.5" rx="4.0" ry="7.4" fill="#169fe2"/>
<ellipse cx="799.7" cy="716.6" rx="4.0" ry="7.4" fill="#169fe2"/>
<ellipse cx="1053.0" cy="362.0" rx="4.0" ry="7.4" fill="#169fe2"/>
<ellipse cx="1053.0" cy="380.0" rx="4.0" ry="7.4" fill="#169fe2"/>
<ellipse cx="1106.5" cy="440.6" rx="4.0" ry="7.4" fill="#169fe2"/>
<ellipse cx="1106.5" cy="472.0" rx="4.0" ry="7.4" fill="#169fe2"/>
<ellipse cx="1106.5" cy="560.7" rx="4.0" ry="7.4" fill="#169fe2"/>
<ellipse cx="1106.5" cy="581.8" rx="4.0" ry="7.4" fill="#169fe2"/>
<ellipse cx="1106.5" cy="655.0" rx="4.0" ry="7.4" fill="#169fe2"/>
<ellipse cx="1068.0" cy="684.0" rx="4.0" ry="7.4" fill="#169fe2"/>
<ellipse cx="1068.0" cy="713.0" rx="4.0" ry="7.4" fill="#169fe2"/>
<ellipse cx="1106.5" cy="776.6" rx="4.0" ry="7.4" fill="#169fe2"/>
<ellipse cx="1106.5" cy="846.4" rx="4.0" ry="7.4" fill="#169fe2"/>
<ellipse cx="1106.5" cy="885.7" rx="4.0" ry="7.4" fill="#169fe2"/>
<ellipse cx="1070.0" cy="1012.0" rx="4.0" ry="7.4" fill="#169fe2"/>
<ellipse cx="1070.0" cy="1100.6" rx="4.0" ry="7.4" fill="#169fe2"/>
<ellipse cx="1107.0" cy="1179.5" rx="4.0" ry="7.4" fill="#169fe2"/>
<ellipse cx="1398.7" cy="328.0" rx="4.0" ry="7.4" fill="#169fe2"/>
<ellipse cx="1398.7" cy="397.7" rx="4.0" ry="7.4" fill="#e8202e"/>
<ellipse cx="1398.7" cy="414.0" rx="4.0" ry="7.4" fill="#169fe2"/>
<ellipse cx="1398.7" cy="521.8" rx="4.0" ry="7.4" fill="#169fe2"/>
<ellipse cx="1370.0" cy="575.0" rx="4.0" ry="7.4" fill="#e8202e"/>
<ellipse cx="1370.0" cy="631.0" rx="4.0" ry="7.4" fill="#169fe2"/>
<ellipse cx="1370.0" cy="664.6" rx="4.0" ry="7.4" fill="#e8202e"/>
<ellipse cx="1370.0" cy="679.0" rx="4.0" ry="7.4" fill="#169fe2"/>
<ellipse cx="1397.4" cy="734.4" rx="4.0" ry="7.4" fill="#169fe2"/>
<ellipse cx="1398.7" cy="846.4" rx="4.0" ry="7.4" fill="#169fe2"/>
<ellipse cx="1343.0" cy="892.0" rx="4.0" ry="7.4" fill="#169fe2"/>
<ellipse cx="1320.8" cy="930.5" rx="4.0" ry="7.4" fill="#e8202e"/>
<ellipse cx="1320.8" cy="949.0" rx="4.0" ry="7.4" fill="#169fe2"/>
<ellipse cx="1343.0" cy="998.7" rx="4.0" ry="7.4" fill="#169fe2"/>
<ellipse cx="1343.0" cy="1016.0" rx="4.0" ry="7.4" fill="#e8202e"/>
<ellipse cx="1343.0" cy="1031.8" rx="4.0" ry="7.4" fill="#169fe2"/>
<ellipse cx="1370.5" cy="1101.6" rx="4.0" ry="7.4" fill="#169fe2"/>
<ellipse cx="1657.8" cy="414.0" rx="4.0" ry="7.4" fill="#e8202e"/>
<ellipse cx="1657.8" cy="505.5" rx="4.0" ry="7.4" fill="#e8202e"/>
<ellipse cx="1657.8" cy="732.0" rx="4.0" ry="7.4" fill="#e8202e"/>
<ellipse cx="1670.0" cy="1062.7" rx="4.0" ry="7.4" fill="#169fe2"/>
<ellipse cx="1930.0" cy="513.0" rx="4.0" ry="7.4" fill="#169fe2"/>
<ellipse cx="1874.0" cy="675.0" rx="4.0" ry="7.4" fill="#169fe2"/>
<ellipse cx="1874.0" cy="687.0" rx="4.0" ry="7.4" fill="#e8202e"/>
<ellipse cx="1904.0" cy="707.8" rx="4.0" ry="7.4" fill="#169fe2"/>
<ellipse cx="1904.0" cy="771.4" rx="4.0" ry="7.4" fill="#169fe2"/>
<ellipse cx="1904.0" cy="790.0" rx="4.0" ry="7.4" fill="#e8202e"/>
<ellipse cx="1872.7" cy="800.6" rx="4.0" ry="7.4" fill="#169fe2"/>
<ellipse cx="1904.0" cy="878.6" rx="4.0" ry="7.4" fill="#169fe2"/>
<ellipse cx="1904.0" cy="898.0" rx="4.0" ry="7.4" fill="#169fe2"/>
<ellipse cx="1904.0" cy="983.8" rx="4.0" ry="7.4" fill="#e8202e"/>
<ellipse cx="1904.0" cy="1000.6" rx="4.0" ry="7.4" fill="#169fe2"/>
<ellipse cx="1904.0" cy="1025.0" rx="4.0" ry="7.4" fill="#169fe2"/>
<ellipse cx="1902.9" cy="1128.6" rx="4.0" ry="7.4" fill="#169fe2"/>
<ellipse cx="1902.9" cy="1211.4" rx="4.0" ry="7.4" fill="#169fe2"/>
<ellipse cx="1902.9" cy="1230.0" rx="4.0" ry="7.4" fill="#e8202e"/>
<ellipse cx="443.0" cy="407.0" rx="2.6" ry="7.0" fill="#e8202e"/>
<line x1="500.5" y1="531.0" x2="505.8" y2="511.6" stroke="#e8202e" stroke-width="3.2"/>
<polygon points="508.5,502.0 510.7,513.0 501.0,510.3" fill="#e8202e"/>
<line x1="799.0" y1="486.0" x2="811.4" y2="456.6" stroke="#169fe2" stroke-width="3.2"/>
<polygon points="816.0,445.5 816.4,458.7 806.3,454.4" fill="#169fe2"/>
<line x1="799.0" y1="512.0" x2="804.4" y2="507.9" stroke="#169fe2" stroke-width="3.2"/>
<polygon points="814.0,500.6 807.8,512.2 801.1,503.5" fill="#169fe2"/>
<line x1="741.0" y1="620.8" x2="773.7" y2="632.9" stroke="#169fe2" stroke-width="3.2"/>
<polygon points="785.0,637.0 771.8,638.0 775.6,627.7" fill="#169fe2"/>
<line x1="1106.5" y1="655.0" x2="1114.0" y2="650.1" stroke="#169fe2" stroke-width="3.2"/>
<polygon points="1124.0,643.5 1117.0,654.7 1111.0,645.5" fill="#169fe2"/>
<line x1="1068.0" y1="684.0" x2="1083.0" y2="682.9" stroke="#169fe2" stroke-width="3.2"/>
<polygon points="1095.0,682.0 1083.4,688.4 1082.6,677.4" fill="#169fe2"/>
<line x1="1068.0" y1="684.0" x2="1081.3" y2="696.7" stroke="#169fe2" stroke-width="3.2"/>
<polygon points="1090.0,705.0 1077.5,700.7 1085.1,692.7" fill="#169fe2"/>
<line x1="1068.0" y1="713.0" x2="1074.6" y2="718.2" stroke="#169fe2" stroke-width="3.2"/>
<polygon points="1084.0,725.6 1071.2,722.5 1078.0,713.9" fill="#169fe2"/>
<line x1="1106.5" y1="776.6" x2="1114.6" y2="783.1" stroke="#169fe2" stroke-width="3.2"/>
<polygon points="1124.0,790.6 1111.2,787.4 1118.1,778.8" fill="#169fe2"/>
<line x1="1397.4" y1="734.4" x2="1412.8" y2="751.5" stroke="#169fe2" stroke-width="3.2"/>
<polygon points="1420.8,760.4 1408.7,755.2 1416.9,747.8" fill="#169fe2"/>
<line x1="1872.7" y1="800.6" x2="1896.8" y2="818.2" stroke="#169fe2" stroke-width="3.2"/>
<polygon points="1906.5,825.3 1893.6,822.7 1900.1,813.8" fill="#169fe2"/>
<line x1="1904.0" y1="898.0" x2="1917.1" y2="906.9" stroke="#169fe2" stroke-width="3.2"/>
<polygon points="1927.0,913.6 1914.0,911.4 1920.2,902.3" fill="#169fe2"/>
<rect x="276" y="1370.5" width="1628" height="164.5" fill="#fff" stroke="#4a4646" stroke-width="2"/>
<rect x="291.0" y="1387.6" width="86.0" height="43.0" fill="#fff" stroke="#3a3636" stroke-width="1.5"/>
<g stroke="#262222" stroke-width="1.6"><line x1="305" y1="1400" x2="321" y2="1400"/><line x1="347" y1="1400" x2="366" y2="1400"/><line x1="326" y1="1419.5" x2="347" y2="1419.5"/></g>
<rect x="290.0" y="1473.0" width="85.6" height="43.0" fill="#fff" stroke="#3a3636" stroke-width="1.5"/>
<g stroke="#262222" stroke-width="1.6"><line x1="291" y1="1481" x2="312" y2="1481"/><line x1="346" y1="1481" x2="366" y2="1481"/><line x1="320" y1="1504" x2="341" y2="1504"/></g>
<g fill="#262222"><circle cx="329" cy="1481" r="1.7"/><circle cx="306" cy="1504" r="1.9"/><circle cx="359" cy="1504" r="1.9"/></g>
<rect x="612.4" y="1386.4" width="85.6" height="43.1" fill="#fff" stroke="#3a3636" stroke-width="1.5"/>
<g fill="#262222">
<circle cx="628.0" cy="1399.0" r="1.4"/>
<circle cx="649.0" cy="1399.0" r="1.4"/>
<circle cx="670.0" cy="1399.0" r="1.4"/>
<circle cx="691.0" cy="1399.0" r="1.4"/>
<circle cx="639.0" cy="1414.0" r="1.4"/>
<circle cx="660.0" cy="1414.0" r="1.4"/>
<circle cx="681.0" cy="1414.0" r="1.4"/>
</g>
<rect x="613.5" y="1472.0" width="84.9" height="43.0" fill="#fff" stroke="#3a3636" stroke-width="1.5"/>
<g fill="#262222">
<circle cx="627.0" cy="1484.0" r="2.4"/>
<circle cx="661.0" cy="1483.0" r="2.4"/>
<circle cx="692.0" cy="1483.0" r="2.4"/>
<circle cx="616.0" cy="1505.0" r="2.4"/>
<circle cx="646.0" cy="1506.0" r="2.4"/>
<circle cx="677.0" cy="1506.0" r="2.4"/>
</g>
<text x="415.6" y="1426.8" fill="#2a2626" font-size="46" font-weight="bold" textLength="93.0" lengthAdjust="spacingAndGlyphs" text-anchor="start" >Clay</text>
<text x="398.5" y="1506.0" fill="#2a2626" font-size="46" font-weight="bold" textLength="177.0" lengthAdjust="spacingAndGlyphs" text-anchor="start" >Clay-silt</text>
<text x="714.4" y="1424.5" fill="#2a2626" font-size="46" font-weight="bold" textLength="70.4" lengthAdjust="spacingAndGlyphs" text-anchor="start" >Silt</text>
<text x="729.0" y="1503.7" fill="#2a2626" font-size="46" font-weight="bold" textLength="205.5" lengthAdjust="spacingAndGlyphs" text-anchor="start" >Find sand</text>
<line x1="1000.7" y1="1410.5" x2="1072" y2="1410.5" stroke="#2b2622" stroke-width="5" stroke-dasharray="14.5,4.4"/>
<line x1="1000.7" y1="1496" x2="1072" y2="1496" stroke="#d8242c" stroke-width="5" stroke-dasharray="14.5,4.4"/>
<text x="1100.0" y="1429.6" fill="#2a2626" font-size="46" font-weight="bold" textLength="286.6" lengthAdjust="spacingAndGlyphs" text-anchor="start" >H/P boundary</text>
<text x="1158.0" y="1506.6" fill="#2a2626" font-size="46" font-weight="bold" textLength="136.0" lengthAdjust="spacingAndGlyphs" text-anchor="start" >Hiatus</text>
<circle cx="1449" cy="1425" r="8" fill="#169fe2"/>
<circle cx="1448" cy="1498" r="8" fill="#e5202a"/>
<text x="1468.6" y="1433.0" fill="#2a2626" font-size="46" font-weight="bold" textLength="417.4" lengthAdjust="spacingAndGlyphs" text-anchor="start" >Quartz OSL age (ka)</text>
<text x="1478.0" y="1494.0" fill="#2a2626" font-size="22" font-weight="bold" textLength="19.0" lengthAdjust="spacingAndGlyphs" text-anchor="start" >14</text>
<text x="1505.0" y="1514.6" fill="#2a2626" font-size="46" font-weight="bold" textLength="352.0" lengthAdjust="spacingAndGlyphs" text-anchor="start" >C age (cal ka BP)</text>
</svg>
</body></html>
